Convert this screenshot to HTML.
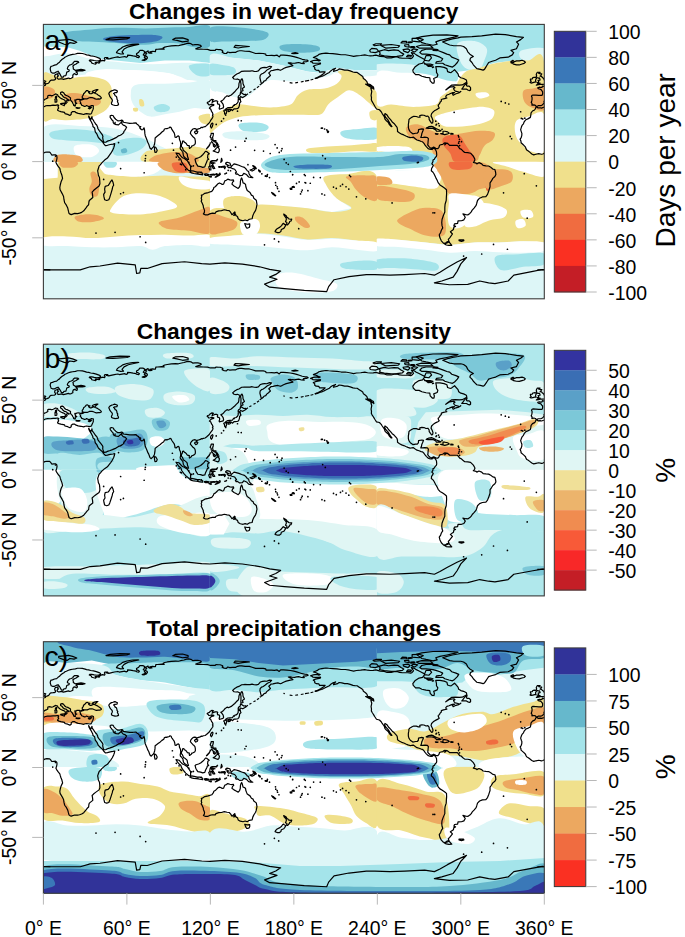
<!DOCTYPE html><html><head><meta charset="utf-8"><style>html,body{margin:0;padding:0;background:#fff;}svg{display:block}text{font-family:"Liberation Sans",sans-serif}.cst path{vector-effect:non-scaling-stroke}</style></head><body>
<svg width="685" height="937" viewBox="0 0 685 937">
<rect width="685" height="937" fill="#fff"/>
<clipPath id="pca"><rect x="43.4" y="24.4" width="500.90" height="274.40"/></clipPath>
<g clip-path="url(#pca)">
<clipPath id="cpaa1"><rect x="41.1" y="22.099999999999998" width="169.2" height="140.2"/></clipPath>
<g clip-path="url(#cpaa1)">
<path d="M43.0,24.0 L210.0,24.0 L210.0,162.0 L43.0,162.0Z" fill="#ffffff"/>
<path d="M43.0,24.0 L210.0,24.0 L210.0,63.0 L189.3,60.6 L164.9,60.6 L140.5,63.0 L116.1,60.6 L103.9,59.4 L91.8,55.7 L79.6,50.8 L67.4,47.2 L43.0,46.4Z" fill="#a4e4ea"/>
<path d="M64.9,32.5 C68.6,30.8 83.2,30.2 91.8,29.4 C100.3,28.6 107.2,27.8 116.1,27.7 C125.1,27.5 136.5,28.4 145.4,28.4 C154.3,28.3 162.5,27.7 169.8,27.4 C177.1,27.2 182.6,27.1 189.3,26.9 C196.0,26.8 206.5,23.3 210.0,26.4 C213.5,29.6 212.6,42.5 210.0,45.9 C207.4,49.4 199.2,47.6 194.2,47.2 C189.1,46.8 185.2,44.2 179.5,43.5 C173.8,42.8 165.7,42.8 160.0,43.0 C154.3,43.2 150.7,44.6 145.4,44.7 C140.1,44.9 135.2,44.4 128.3,44.0 C121.4,43.6 111.3,42.7 103.9,42.3 C96.6,41.9 90.1,42.0 84.4,41.6 C78.8,41.1 73.1,41.4 69.8,39.8 C66.6,38.3 61.3,34.3 64.9,32.5Z" fill="#66b8cc"/>
<path d="M103.9,38.1 C105.8,37.3 110.9,36.2 116.1,35.7 C121.4,35.2 129.1,35.1 135.6,35.0 C142.1,34.8 150.7,34.6 155.1,35.0 C159.6,35.4 162.5,36.3 162.5,37.4 C162.5,38.5 159.6,40.5 155.1,41.6 C150.7,42.6 142.1,43.4 135.6,43.5 C129.1,43.6 121.2,42.8 116.1,42.3 C111.1,41.8 107.2,41.3 105.2,40.6 C103.1,39.9 102.1,39.0 103.9,38.1Z" fill="#3a78b8"/>
<path d="M50.3,55.7 C54.4,54.9 61.3,52.8 67.4,53.3 C73.5,53.7 80.8,56.9 86.9,58.1 C93.0,59.4 97.0,59.8 103.9,60.6 C110.9,61.4 120.2,62.4 128.3,63.0 C136.5,63.6 144.6,64.2 152.7,64.2 C160.8,64.2 170.2,63.2 177.1,63.0 C184.0,62.8 188.7,62.8 194.2,63.0 C199.6,63.2 207.4,61.4 210.0,64.2 C212.6,67.1 213.5,77.4 210.0,80.1 C206.5,82.7 194.4,80.7 189.3,80.1 C184.2,79.5 183.6,77.6 179.5,76.4 C175.5,75.2 171.4,73.8 164.9,72.8 C158.4,71.7 148.6,70.7 140.5,70.3 C132.4,69.9 123.5,69.9 116.1,70.3 C108.8,70.7 102.7,71.9 96.6,72.8 C90.5,73.6 85.3,74.6 79.6,75.2 C73.9,75.8 67.8,76.2 62.5,76.4 C57.2,76.6 51.1,77.0 47.9,76.4 C44.6,75.8 43.8,75.8 43.0,72.8 C42.2,69.7 41.8,61.0 43.0,58.1 C44.2,55.3 46.3,56.5 50.3,55.7Z" fill="#ddf6f7"/>
<path d="M86.9,72.8 C89.7,71.1 99.5,69.5 106.4,69.1 C113.3,68.7 120.6,69.9 128.3,70.3 C136.0,70.7 145.4,70.9 152.7,71.5 C160.0,72.1 167.7,72.6 172.2,74.0 C176.7,75.4 180.7,78.2 179.5,80.1 C178.3,81.9 171.4,84.3 164.9,84.9 C158.4,85.6 148.6,83.7 140.5,83.7 C132.4,83.7 123.0,85.2 116.1,84.9 C109.2,84.7 103.5,83.5 99.1,82.5 C94.6,81.5 91.4,80.5 89.3,78.9 C87.3,77.2 84.0,74.4 86.9,72.8Z" fill="#ffffff"/>
<path d="M189.3,65.4 C191.5,63.6 206.5,62.6 210.0,64.2 C213.5,65.9 212.2,73.4 210.0,75.2 C207.8,77.0 200.0,76.8 196.6,75.2 C193.1,73.6 187.0,67.3 189.3,65.4Z" fill="#a4e4ea"/>
<path d="M135.6,84.9 C141.3,83.1 156.0,84.1 164.9,83.7 C173.8,83.3 181.8,82.9 189.3,82.5 C196.8,82.1 206.5,77.2 210.0,81.3 C213.5,85.4 212.6,102.4 210.0,106.9 C207.4,111.4 199.2,107.3 194.2,108.1 C189.1,108.9 184.4,110.8 179.5,111.8 C174.6,112.8 169.8,113.4 164.9,114.2 C160.0,115.0 154.3,117.0 150.3,116.6 C146.2,116.2 143.4,113.8 140.5,111.8 C137.7,109.7 134.8,107.3 133.2,104.5 C131.6,101.6 130.4,98.0 130.8,94.7 C131.2,91.5 130.0,86.8 135.6,84.9Z" fill="#ddf6f7"/>
<path d="M153.9,106.9 C154.7,105.6 159.8,104.0 162.5,104.0 C165.1,104.0 169.0,105.7 169.8,106.9 C170.6,108.1 169.4,110.5 167.3,111.3 C165.3,112.1 159.8,112.5 157.6,111.8 C155.3,111.0 153.1,108.2 153.9,106.9Z" fill="#a4e4ea"/>
<path d="M43.0,75.7 C44.6,68.4 48.7,74.3 52.8,74.7 C56.8,75.1 62.9,77.7 67.4,78.1 C71.8,78.5 75.5,77.4 79.6,77.1 C83.6,76.9 87.7,76.3 91.8,76.7 C95.8,77.1 100.9,78.3 103.9,79.6 C107.0,80.9 108.7,82.6 110.0,84.5 C111.4,86.4 111.6,88.7 112.0,91.0 C112.4,93.4 112.9,95.9 112.5,98.4 C112.0,100.8 110.5,103.6 109.3,105.7 C108.1,107.7 107.1,109.0 105.2,110.5 C103.3,112.1 100.5,113.5 97.9,114.7 C95.2,115.9 92.8,117.0 89.3,117.9 C85.9,118.7 81.2,119.2 77.1,119.6 C73.1,120.0 69.0,120.4 64.9,120.3 C60.9,120.2 56.4,119.4 52.8,119.1 C49.1,118.8 44.6,125.6 43.0,118.3 C41.4,111.1 41.4,83.0 43.0,75.7Z" fill="#f0e08c"/>
<path d="M43.0,87.9 C44.0,86.0 47.1,86.5 49.1,86.9 C51.0,87.3 54.0,88.6 54.7,90.3 C55.4,92.0 54.6,95.7 53.2,97.1 C51.9,98.6 48.4,98.9 46.7,99.1 C45.0,99.3 43.6,100.2 43.0,98.4 C42.4,96.5 42.0,89.8 43.0,87.9Z" fill="#eca860"/>
<path d="M64.5,94.7 C65.9,93.6 71.0,92.9 74.7,93.0 C78.4,93.1 83.0,94.3 86.9,95.2 C90.7,96.1 95.5,97.2 97.9,98.4 C100.2,99.5 101.2,100.8 101.0,102.0 C100.8,103.2 99.2,105.1 96.6,105.7 C94.1,106.3 89.5,106.2 85.7,105.7 C81.8,105.1 76.7,103.5 73.5,102.5 C70.2,101.5 67.7,100.9 66.2,99.6 C64.7,98.3 63.0,95.8 64.5,94.7Z" fill="#eca860"/>
<path d="M139.3,99.6 C139.8,98.6 142.1,99.0 143.0,100.1 C143.8,101.1 144.7,104.7 144.2,105.7 C143.7,106.6 140.8,106.7 140.0,105.7 C139.2,104.7 138.8,100.5 139.3,99.6Z" fill="#f0e08c"/>
<path d="M133.2,108.1 C133.9,107.6 136.9,107.6 137.6,108.1 C138.3,108.6 138.2,110.8 137.6,111.3 C136.9,111.8 134.4,111.8 133.7,111.3 C133.0,110.8 132.6,108.6 133.2,108.1Z" fill="#f0e08c"/>
<path d="M199.0,116.2 C200.5,114.7 208.2,112.9 210.0,114.2 C211.8,115.5 211.4,122.5 210.0,124.0 C208.6,125.4 203.3,124.0 201.5,122.7 C199.6,121.4 197.6,117.6 199.0,116.2Z" fill="#f0e08c"/>
<path d="M43.0,127.6 C49.1,121.6 67.4,125.7 79.6,125.9 C91.8,126.1 105.2,126.7 116.1,128.8 C127.1,130.9 138.1,135.7 145.4,138.6 C152.7,141.4 156.0,143.9 160.0,145.9 C164.1,147.9 167.3,148.9 169.8,150.8 C172.2,152.6 173.8,155.0 174.6,156.9 C175.5,158.7 196.6,161.1 174.6,162.0 C152.7,162.8 64.9,167.7 43.0,162.0 C21.1,156.3 36.9,133.6 43.0,127.6Z" fill="#ddf6f7"/>
<path d="M50.3,132.5 C52.8,130.9 61.3,129.7 67.4,129.3 C73.5,128.9 80.8,129.3 86.9,130.1 C93.0,130.8 99.5,132.3 103.9,133.7 C108.4,135.1 113.3,137.0 113.7,138.6 C114.1,140.1 110.9,142.5 106.4,143.0 C101.9,143.5 93.4,141.9 86.9,141.5 C80.4,141.1 73.1,141.0 67.4,140.5 C61.7,140.0 55.6,139.9 52.8,138.6 C49.9,137.2 47.9,134.0 50.3,132.5Z" fill="#a4e4ea"/>
<path d="M113.7,143.5 C115.9,141.4 121.4,139.5 125.9,138.6 C130.4,137.7 137.1,137.5 140.5,138.1 C144.0,138.7 146.6,140.3 146.6,142.2 C146.6,144.2 143.6,147.5 140.5,149.6 C137.5,151.6 132.4,153.4 128.3,154.4 C124.3,155.4 118.8,156.3 116.1,155.6 C113.5,155.0 112.9,152.8 112.5,150.8 C112.1,148.7 111.5,145.5 113.7,143.5Z" fill="#a4e4ea"/>
<path d="M121.0,149.6 C121.6,148.7 124.9,147.9 125.9,148.3 C126.9,148.7 127.7,151.2 127.1,152.0 C126.5,152.8 123.2,153.6 122.2,153.2 C121.2,152.8 120.4,150.4 121.0,149.6Z" fill="#66b8cc"/>
<path d="M74.7,145.9 C77.1,144.1 87.7,143.9 91.8,144.7 C95.8,145.5 99.1,148.7 99.1,150.8 C99.1,152.8 95.4,156.1 91.8,156.9 C88.1,157.7 80.0,157.5 77.1,155.6 C74.3,153.8 72.3,147.7 74.7,145.9Z" fill="#ffffff"/>
<path d="M56.4,155.6 C58.4,154.4 63.5,154.3 67.4,154.4 C71.2,154.5 77.3,154.9 79.6,156.1 C81.8,157.4 84.9,161.0 80.8,162.0 C76.7,163.0 59.3,163.0 55.2,162.0 C51.1,160.9 54.4,156.9 56.4,155.6Z" fill="#eca860"/>
<path d="M145.4,152.0 C147.8,149.9 155.1,150.2 160.0,149.6 C164.9,148.9 169.8,148.7 174.6,148.3 C179.5,147.9 185.2,146.7 189.3,147.1 C193.3,147.5 196.6,148.3 199.0,150.8 C201.5,153.3 212.8,160.1 203.9,162.0 C195.0,163.9 155.1,163.7 145.4,162.0 C135.6,160.3 143.0,154.1 145.4,152.0Z" fill="#f0e08c"/>
<path d="M189.3,147.1 C192.7,145.2 206.5,148.3 210.0,150.8 C213.5,153.3 213.5,160.1 210.0,162.0 C206.5,163.9 192.7,164.5 189.3,162.0 C185.8,159.5 185.8,149.0 189.3,147.1Z" fill="#f0e08c"/>
<path d="M152.7,156.9 C154.7,155.4 160.4,154.0 164.9,153.2 C169.4,152.4 175.1,151.8 179.5,152.0 C184.0,152.2 188.9,152.8 191.7,154.4 C194.6,156.1 203.1,160.7 196.6,162.0 C190.1,163.2 160.0,162.8 152.7,162.0 C145.4,161.1 150.7,158.3 152.7,156.9Z" fill="#eca860"/>
</g>
<clipPath id="cpaa2"><rect x="209.7" y="22.099999999999998" width="167.6" height="140.2"/></clipPath>
<g clip-path="url(#cpaa2)">
<path d="M210.0,24.0 L377.0,24.0 L377.0,162.0 L210.0,162.0Z" fill="#ffffff"/>
<path d="M210.0,24.0 L377.0,24.0 L377.0,70.3 L356.3,70.3 L336.8,67.9 L319.7,72.8 L307.5,71.5 L283.1,65.4 L258.8,60.6 L234.4,58.1 L210.0,55.7Z" fill="#a4e4ea"/>
<path d="M210.0,27.7 C214.1,25.3 226.3,26.5 234.4,26.9 C242.5,27.3 253.1,29.0 258.8,30.1 C264.4,31.2 267.7,32.1 268.5,33.8 C269.3,35.4 267.3,38.6 263.6,39.8 C260.0,41.1 253.1,40.8 246.6,41.1 C240.1,41.4 230.7,41.6 224.6,41.6 C218.5,41.6 212.4,43.4 210.0,41.1 C207.6,38.7 205.9,30.0 210.0,27.7Z" fill="#66b8cc"/>
<path d="M280.7,45.5 C283.1,44.3 291.7,43.9 297.8,44.0 C303.9,44.1 313.8,44.8 317.3,45.9 C320.7,47.1 320.9,49.7 318.5,50.8 C316.1,52.0 308.5,52.8 302.6,52.8 C296.8,52.8 286.8,52.0 283.1,50.8 C279.5,49.6 278.3,46.6 280.7,45.5Z" fill="#66b8cc"/>
<path d="M210.0,55.2 C214.1,50.3 226.3,57.2 234.4,58.1 C242.5,59.0 250.6,59.4 258.8,60.6 C266.9,61.8 275.0,63.6 283.1,65.4 C291.3,67.3 301.4,70.3 307.5,71.5 C313.6,72.8 314.8,73.3 319.7,72.8 C324.6,72.2 330.7,68.8 336.8,68.4 C342.9,68.0 349.6,69.9 356.3,70.3 C363.0,70.7 373.5,70.0 377.0,70.8 C380.5,71.6 380.5,74.3 377.0,75.2 C373.5,76.1 363.0,76.8 356.3,76.4 C349.6,76.0 341.6,72.8 336.8,72.8 C331.9,72.8 333.9,75.0 327.0,76.4 C320.1,77.8 304.7,80.7 295.3,81.3 C286.0,81.9 277.0,79.1 270.9,80.1 C264.9,81.1 262.8,84.5 258.8,87.4 C254.7,90.2 250.6,95.5 246.6,97.1 C242.5,98.8 238.4,98.0 234.4,97.1 C230.3,96.3 226.3,93.9 222.2,92.3 C218.1,90.6 212.0,93.6 210.0,87.4 C208.0,81.2 205.9,60.1 210.0,55.2Z" fill="#ddf6f7"/>
<path d="M210.0,64.2 C212.0,62.7 218.1,64.3 222.2,65.0 C226.3,65.6 232.3,66.4 234.4,67.9 C236.4,69.4 236.8,72.8 234.4,74.0 C231.9,75.2 223.8,75.2 219.8,75.2 C215.7,75.2 211.6,75.8 210.0,74.0 C208.4,72.1 208.0,65.7 210.0,64.2Z" fill="#a4e4ea"/>
<path d="M210.0,117.9 C212.4,114.0 220.2,111.6 224.6,109.3 C229.1,107.1 232.3,105.1 236.8,104.5 C241.3,103.8 245.8,105.2 251.4,105.7 C257.1,106.2 264.4,107.6 270.9,107.4 C277.5,107.2 286.0,106.5 290.5,104.5 C294.9,102.4 294.9,97.6 297.8,95.2 C300.6,92.8 303.0,90.9 307.5,89.8 C312.0,88.7 319.7,89.6 324.6,88.6 C329.5,87.6 333.9,85.8 336.8,83.7 C339.6,81.7 341.4,78.4 341.6,76.4 C341.9,74.4 336.8,72.6 338.0,71.5 C339.2,70.5 345.1,69.6 349.0,70.3 C352.8,71.0 357.5,73.0 361.2,75.7 C364.8,78.3 368.3,83.2 370.9,86.2 C373.5,89.1 376.0,89.8 377.0,93.5 C378.0,97.1 378.4,106.6 377.0,108.1 C375.6,109.6 371.3,104.7 368.5,102.5 C365.6,100.3 363.2,97.2 359.9,95.2 C356.7,93.2 352.6,90.0 349.0,90.3 C345.3,90.6 341.4,94.8 338.0,97.1 C334.5,99.5 331.1,101.6 328.2,104.5 C325.4,107.3 325.2,112.5 320.9,114.2 C316.7,115.9 308.9,114.6 302.6,114.7 C296.3,114.8 290.5,114.6 283.1,114.7 C275.8,114.8 266.1,114.8 258.8,115.2 C251.4,115.6 244.9,116.0 239.3,117.1 C233.6,118.3 228.7,120.0 224.6,122.0 C220.6,124.0 217.3,127.6 214.9,129.3 C212.4,131.1 210.8,134.4 210.0,132.5 C209.2,130.6 207.6,121.7 210.0,117.9Z" fill="#f0e08c"/>
<path d="M369.7,111.8 C370.7,110.3 375.8,109.2 377.0,110.5 C378.2,111.8 378.0,118.1 377.0,119.6 C376.0,121.0 372.1,120.4 370.9,119.1 C369.7,117.8 368.7,113.2 369.7,111.8Z" fill="#f0e08c"/>
<path d="M239.3,124.0 C241.7,122.5 253.9,122.3 258.8,122.7 C263.6,123.1 267.7,125.0 268.5,126.4 C269.3,127.8 267.7,130.5 263.6,131.3 C259.6,132.1 248.2,132.5 244.1,131.3 C240.1,130.1 236.8,125.4 239.3,124.0Z" fill="#a4e4ea"/>
<path d="M224.6,132.5 C228.3,131.5 239.3,130.9 246.6,131.3 C253.9,131.7 265.7,133.5 268.5,134.9 C271.4,136.3 268.5,139.0 263.6,139.8 C258.8,140.6 245.8,140.2 239.3,139.8 C232.8,139.4 227.1,138.6 224.6,137.4 C222.2,136.1 221.0,133.5 224.6,132.5Z" fill="#ddf6f7"/>
<path d="M341.6,131.3 C344.5,129.8 355.3,129.3 361.2,128.8 C367.0,128.3 374.4,126.7 377.0,128.3 C379.6,130.0 379.6,136.7 377.0,138.6 C374.4,140.5 366.6,140.0 361.2,139.8 C355.7,139.6 347.3,138.8 344.1,137.4 C340.8,135.9 338.8,132.7 341.6,131.3Z" fill="#a4e4ea"/>
<path d="M307.5,148.8 C310.4,147.8 320.5,147.2 327.0,146.6 C333.5,146.1 340.0,145.9 346.5,145.4 C353.0,145.0 361.0,144.3 366.0,143.9 C371.1,143.6 375.2,142.2 377.0,143.5 C378.8,144.7 380.5,150.0 377.0,151.3 C373.5,152.6 363.8,151.0 356.3,151.3 C348.8,151.5 339.6,152.5 331.9,152.7 C324.2,153.0 314.0,153.4 310.0,152.7 C305.9,152.1 304.7,149.8 307.5,148.8Z" fill="#f0e08c"/>
</g>
<clipPath id="cpaa3"><rect x="376.7" y="22.099999999999998" width="169.89999999999995" height="140.2"/></clipPath>
<g clip-path="url(#cpaa3)">
<path d="M377.0,24.0 L544.0,24.0 L544.0,162.0 L377.0,162.0Z" fill="#ffffff"/>
<path d="M377.0,24.0 L544.0,24.0 L544.0,63.0 L528.2,60.6 L513.5,60.6 L494.0,63.0 L479.4,67.9 L469.6,70.3 L450.1,72.8 L425.8,71.5 L401.4,70.3 L377.0,71.5Z" fill="#a4e4ea"/>
<path d="M457.5,43.5 C459.9,40.3 469.6,40.3 474.5,41.1 C479.4,41.9 485.1,45.1 486.7,48.4 C488.3,51.6 485.5,57.1 484.3,60.6 C483.1,64.0 482.2,67.7 479.4,69.1 C476.5,70.5 470.5,70.5 467.2,69.1 C464.0,67.7 461.5,64.8 459.9,60.6 C458.3,56.3 455.0,46.8 457.5,43.5Z" fill="#ddf6f7"/>
<path d="M520.8,50.8 C524.3,48.8 540.1,46.8 544.0,48.4 C547.9,50.0 547.5,58.5 544.0,60.6 C540.5,62.6 527.1,62.2 523.3,60.6 C519.4,58.9 517.4,52.8 520.8,50.8Z" fill="#ddf6f7"/>
<path d="M377.0,64.2 C383.5,62.8 409.5,63.6 416.0,65.4 C422.5,67.3 418.4,73.8 416.0,75.2 C413.6,76.6 407.9,74.2 401.4,74.0 C394.9,73.8 381.1,75.6 377.0,74.0 C372.9,72.4 370.5,65.6 377.0,64.2Z" fill="#ddf6f7"/>
<path d="M416.0,65.4 C419.3,63.6 429.0,64.0 435.5,64.2 C442.0,64.4 451.4,64.0 455.0,66.7 C458.7,69.3 459.1,77.0 457.5,80.1 C455.8,83.1 450.5,84.5 445.3,84.9 C440.0,85.4 430.6,84.1 425.8,82.5 C420.9,80.9 417.6,78.0 416.0,75.2 C414.4,72.4 412.8,67.3 416.0,65.4Z" fill="#a4e4ea"/>
<path d="M435.5,104.5 C441.4,102.4 438.4,95.5 441.6,92.3 C444.9,89.0 451.8,87.6 455.0,84.9 C458.3,82.3 459.1,78.8 461.1,76.4 C463.1,74.1 464.2,72.2 467.2,70.8 C470.3,69.4 474.9,69.1 479.4,67.9 C483.9,66.7 488.3,64.7 494.0,63.5 C499.7,62.3 507.8,61.1 513.5,60.6 C519.2,60.1 523.1,60.4 528.2,60.6 C533.2,60.8 541.4,44.9 544.0,61.8 C546.6,78.7 571.8,145.3 544.0,162.0 C516.2,178.7 404.8,171.6 377.0,162.0 C349.2,152.4 372.1,114.0 377.0,104.5 C381.9,94.9 396.5,104.5 406.3,104.5 C416.0,104.5 429.6,106.5 435.5,104.5Z" fill="#f0e08c"/>
<path d="M377.0,72.8 C381.1,67.5 393.3,72.6 401.4,72.8 C409.5,73.0 418.4,72.8 425.8,74.0 C433.1,75.2 440.0,78.7 445.3,80.1 C450.5,81.5 456.6,80.9 457.5,82.5 C458.3,84.1 453.0,87.4 450.1,89.8 C447.3,92.3 442.8,94.7 440.4,97.1 C437.9,99.6 440.0,102.8 435.5,104.5 C431.0,106.1 420.9,106.9 413.6,106.9 C406.3,106.9 397.7,104.9 391.6,104.5 C385.5,104.0 379.4,109.7 377.0,104.5 C374.6,99.2 372.9,78.0 377.0,72.8Z" fill="#ffffff"/>
<path d="M435.5,116.6 C437.5,115.0 444.5,113.2 450.1,111.8 C455.8,110.3 464.0,108.9 469.6,108.1 C475.3,107.3 480.2,106.5 484.3,106.9 C488.3,107.3 492.8,108.5 494.0,110.5 C495.2,112.6 494.0,116.8 491.6,119.1 C489.1,121.3 484.3,122.7 479.4,124.0 C474.5,125.2 468.0,126.0 462.3,126.4 C456.6,126.8 449.3,127.2 445.3,126.4 C441.2,125.6 439.6,123.1 437.9,121.5 C436.3,119.9 433.5,118.3 435.5,116.6Z" fill="#ffffff"/>
<path d="M475.7,93.5 C476.8,92.5 483.3,91.9 485.5,92.3 C487.7,92.7 490.2,94.9 489.1,95.9 C488.1,96.9 481.6,98.8 479.4,98.4 C477.2,98.0 474.7,94.5 475.7,93.5Z" fill="#ffffff"/>
<path d="M516.0,121.5 C518.0,118.3 523.5,117.9 528.2,116.6 C532.8,115.4 541.4,108.5 544.0,114.2 C546.6,119.9 545.8,144.5 544.0,150.8 C542.2,157.1 536.5,152.8 533.0,152.0 C529.6,151.2 526.1,148.5 523.3,145.9 C520.4,143.3 517.2,140.2 516.0,136.1 C514.7,132.1 513.9,124.8 516.0,121.5Z" fill="#ffffff"/>
<path d="M523.3,91.0 C524.7,88.8 529.6,89.2 533.0,88.6 C536.5,88.0 542.2,83.9 544.0,87.4 C545.8,90.8 545.8,105.9 544.0,109.3 C542.2,112.8 536.3,109.3 533.0,108.1 C529.8,106.9 526.1,104.9 524.5,102.0 C522.9,99.2 521.9,93.3 523.3,91.0Z" fill="#eca860"/>
<path d="M406.3,127.6 C407.7,125.5 414.0,123.8 418.4,124.4 C422.9,125.1 428.2,129.5 433.1,131.3 C437.9,133.0 442.8,134.6 447.7,134.9 C452.6,135.3 457.0,133.9 462.3,133.2 C467.6,132.5 474.1,130.9 479.4,130.8 C484.7,130.7 491.8,131.0 494.0,132.5 C496.3,134.0 494.4,137.6 492.8,139.8 C491.2,142.0 486.5,143.3 484.3,145.9 C482.0,148.5 481.2,153.0 479.4,155.6 C477.6,158.3 480.2,160.9 473.3,162.0 C466.4,163.0 444.9,163.9 437.9,162.0 C431.0,160.1 434.5,154.1 431.9,150.8 C429.2,147.5 425.8,144.5 422.1,142.2 C418.4,140.0 412.6,139.8 409.9,137.4 C407.3,134.9 404.8,129.8 406.3,127.6Z" fill="#eca860"/>
<path d="M442.8,138.6 C443.8,136.8 447.3,135.3 450.1,134.9 C453.0,134.5 457.5,134.7 459.9,136.1 C462.3,137.6 463.1,141.0 464.8,143.5 C466.4,145.9 468.0,148.5 469.6,150.8 C471.3,153.0 474.1,155.0 474.5,156.9 C474.9,158.7 475.3,161.1 472.1,162.0 C468.8,162.8 458.7,163.5 455.0,162.0 C451.4,160.5 452.0,155.9 450.1,153.2 C448.3,150.5 445.3,148.3 444.0,145.9 C442.8,143.5 441.8,140.4 442.8,138.6Z" fill="#f06c40"/>
<path d="M377.0,147.1 C379.4,146.2 386.3,145.9 391.6,145.9 C396.9,145.9 405.4,146.1 408.7,147.1 C411.9,148.1 414.0,151.2 411.1,152.0 C408.3,152.8 397.3,152.1 391.6,152.0 C385.9,151.9 379.4,152.1 377.0,151.3 C374.6,150.4 374.6,148.0 377.0,147.1Z" fill="#ffffff"/>
</g>
<clipPath id="cpaa4"><rect x="41.1" y="161.7" width="169.2" height="139.4"/></clipPath>
<g clip-path="url(#cpaa4)">
<path d="M43.0,162.0 L210.0,162.0 L210.0,300.0 L43.0,300.0Z" fill="#ddf6f7"/>
<path d="M43.0,179.1 L57.6,176.6 L57.6,162.0 L103.9,162.0 L103.9,173.0 L116.1,175.4 L140.5,176.6 L164.9,175.4 L189.3,176.6 L210.0,176.6 L210.0,235.1 L189.3,237.6 L164.9,236.4 L140.5,237.6 L116.1,238.8 L91.8,239.5 L67.4,238.1 L43.0,238.8Z" fill="#f0e08c"/>
<path d="M43.0,162.0 L57.6,162.0 L57.6,177.8 L43.0,179.1Z" fill="#ffffff"/>
<path d="M103.9,162.0 C113.3,160.2 151.1,160.4 160.0,162.0 C169.0,163.6 160.8,169.3 157.6,171.8 C154.3,174.2 147.4,176.0 140.5,176.6 C133.6,177.2 122.2,176.0 116.1,175.4 C110.0,174.8 106.0,175.2 103.9,173.0 C101.9,170.7 94.6,163.8 103.9,162.0Z" fill="#ffffff"/>
<path d="M60.1,162.0 C62.5,161.1 74.7,161.2 77.1,162.0 C79.6,162.8 77.1,166.0 74.7,166.9 C72.3,167.8 64.9,168.2 62.5,167.4 C60.1,166.6 57.6,162.9 60.1,162.0Z" fill="#eca860"/>
<path d="M103.9,162.0 C105.6,161.1 114.3,161.2 116.1,162.0 C118.0,162.8 116.5,166.0 114.9,166.9 C113.3,167.8 108.2,168.2 106.4,167.4 C104.6,166.6 102.3,162.9 103.9,162.0Z" fill="#a4e4ea"/>
<path d="M160.0,162.0 C165.7,160.8 190.1,161.2 196.6,162.0 C203.1,162.8 196.8,165.9 199.0,166.9 C201.3,167.9 208.2,167.2 210.0,168.1 C211.8,169.0 211.8,171.3 210.0,172.2 C208.2,173.2 202.5,173.6 199.0,173.7 C195.6,173.8 193.3,173.1 189.3,173.0 C185.2,172.8 179.1,173.6 174.6,173.0 C170.2,172.4 164.9,171.1 162.5,169.3 C160.0,167.5 154.3,163.2 160.0,162.0Z" fill="#eca860"/>
<path d="M196.6,162.0 C198.2,161.3 207.8,161.1 210.0,162.0 C212.2,162.9 211.6,166.6 210.0,167.4 C208.4,168.1 202.5,167.3 200.2,166.4 C198.0,165.5 195.0,162.7 196.6,162.0Z" fill="#f0e08c"/>
<path d="M172.2,163.2 C173.8,161.9 183.2,161.8 185.6,163.2 C188.1,164.6 188.5,170.4 186.8,171.8 C185.2,173.1 178.3,172.7 175.9,171.3 C173.4,169.8 170.6,164.6 172.2,163.2Z" fill="#f06c40"/>
<path d="M179.5,176.6 C181.6,175.8 189.1,178.3 194.2,179.1 C199.2,179.9 207.4,179.9 210.0,181.5 C212.6,183.1 212.6,187.6 210.0,188.8 C207.4,190.0 198.8,189.6 194.2,188.8 C189.5,188.0 184.4,186.0 182.0,183.9 C179.5,181.9 177.5,177.4 179.5,176.6Z" fill="#ffffff"/>
<path d="M90.5,173.0 C91.1,171.4 94.0,170.8 95.4,172.2 C96.8,173.7 98.7,177.7 99.1,181.5 C99.5,185.3 99.1,192.5 97.9,194.9 C96.6,197.4 93.2,197.1 91.8,196.1 C90.3,195.1 89.3,191.3 89.3,188.8 C89.3,186.4 91.6,184.1 91.8,181.5 C92.0,178.9 89.9,174.5 90.5,173.0Z" fill="#eca860"/>
<path d="M111.3,208.3 C112.9,205.5 118.6,198.7 123.5,196.1 C128.3,193.6 134.4,193.2 140.5,193.2 C146.6,193.2 153.9,194.0 160.0,196.1 C166.1,198.2 176.3,203.4 177.1,205.9 C177.9,208.3 171.0,209.3 164.9,210.8 C158.8,212.2 149.1,214.0 140.5,214.4 C132.0,214.8 118.6,214.2 113.7,213.2 C108.8,212.2 109.6,211.2 111.3,208.3Z" fill="#ffffff"/>
<path d="M74.7,216.9 C75.5,215.6 80.8,214.7 84.4,214.4 C88.1,214.1 93.4,214.5 96.6,215.1 C99.9,215.8 104.4,217.5 103.9,218.6 C103.5,219.7 98.3,221.2 94.2,221.7 C90.1,222.3 82.8,222.5 79.6,221.7 C76.3,220.9 73.9,218.1 74.7,216.9Z" fill="#eca860"/>
<path d="M160.0,221.7 C163.1,220.3 173.0,219.5 179.5,217.6 C186.0,215.7 194.0,211.8 199.0,210.3 C204.1,208.7 208.2,204.6 210.0,208.3 C211.8,212.1 213.5,229.0 210.0,232.7 C206.5,236.4 196.0,231.3 189.3,230.8 C182.6,230.2 174.4,230.1 169.8,229.3 C165.1,228.5 162.9,227.1 161.2,225.9 C159.6,224.6 157.0,223.1 160.0,221.7Z" fill="#eca860"/>
<path d="M43.0,237.6 C47.1,236.1 59.3,236.3 67.4,236.4 C75.5,236.4 83.6,238.1 91.8,238.1 C99.9,238.1 108.0,236.8 116.1,236.4 C124.3,235.9 132.4,235.4 140.5,235.1 C148.6,234.9 156.8,234.6 164.9,234.7 C173.0,234.7 181.8,235.5 189.3,235.6 C196.8,235.7 206.5,233.4 210.0,235.1 C213.5,236.9 213.5,244.5 210.0,246.1 C206.5,247.7 196.8,244.9 189.3,244.9 C181.8,244.9 171.0,245.3 164.9,246.1 C158.8,246.9 156.8,249.8 152.7,249.8 C148.6,249.8 146.6,246.5 140.5,246.1 C134.4,245.7 124.3,247.1 116.1,247.3 C108.0,247.5 99.9,247.5 91.8,247.3 C83.6,247.1 75.5,246.4 67.4,246.1 C59.3,245.8 47.1,246.8 43.0,245.4 C38.9,244.0 38.9,239.1 43.0,237.6Z" fill="#ffffff"/>
</g>
<clipPath id="cpaa5"><rect x="209.7" y="161.7" width="167.6" height="139.4"/></clipPath>
<g clip-path="url(#cpaa5)">
<path d="M210.0,162.0 L377.0,162.0 L377.0,300.0 L210.0,300.0Z" fill="#ddf6f7"/>
<path d="M210.0,162.0 L377.0,162.0 L377.0,176.6 L346.5,174.2 L324.6,176.6 L327.0,186.4 L336.8,198.6 L351.4,208.3 L331.9,212.0 L307.5,208.3 L283.1,205.9 L258.8,204.7 L234.4,208.3 L210.0,210.8Z" fill="#ffffff"/>
<path d="M210.0,210.8 C214.1,205.8 226.3,209.3 234.4,208.3 C242.5,207.3 250.6,205.1 258.8,204.7 C266.9,204.3 275.0,205.3 283.1,205.9 C291.3,206.5 299.4,207.3 307.5,208.3 C315.6,209.3 324.6,212.0 331.9,212.0 C339.2,212.0 350.6,210.6 351.4,208.3 C352.2,206.1 340.8,202.2 336.8,198.6 C332.7,194.9 329.1,190.0 327.0,186.4 C325.0,182.7 321.3,178.7 324.6,176.6 C327.8,174.6 337.8,174.2 346.5,174.2 C355.3,174.2 371.9,165.3 377.0,176.6 C382.1,188.0 380.5,231.8 377.0,242.5 C373.5,253.1 363.8,241.2 356.3,240.5 C348.8,239.8 340.0,238.2 331.9,238.1 C323.8,237.9 315.6,239.9 307.5,239.5 C299.4,239.1 291.3,236.7 283.1,235.6 C275.0,234.6 266.9,233.2 258.8,233.2 C250.6,233.2 242.5,234.8 234.4,235.6 C226.3,236.4 214.1,242.2 210.0,238.1 C205.9,233.9 205.9,215.7 210.0,210.8Z" fill="#f0e08c"/>
<path d="M224.6,198.6 C227.1,196.5 234.4,195.7 239.3,196.1 C244.1,196.5 251.2,198.6 253.9,201.0 C256.5,203.4 258.4,209.1 255.1,210.8 C251.9,212.4 239.5,211.2 234.4,210.8 C229.3,210.4 226.3,210.4 224.6,208.3 C223.0,206.3 222.2,200.6 224.6,198.6Z" fill="#f0e08c"/>
<path d="M210.0,214.4 C212.4,211.7 220.2,215.6 224.6,216.9 C229.1,218.1 235.2,219.7 236.8,221.7 C238.4,223.8 236.8,227.2 234.4,229.0 C231.9,230.9 226.3,232.0 222.2,232.7 C218.1,233.4 212.0,236.2 210.0,233.2 C208.0,230.1 207.6,217.1 210.0,214.4Z" fill="#eca860"/>
<path d="M346.5,176.6 C349.0,175.5 361.0,175.2 366.0,175.4 C371.1,175.6 375.2,173.8 377.0,177.8 C378.8,181.9 378.8,196.4 377.0,199.8 C375.2,203.2 369.5,199.7 366.0,198.1 C362.6,196.5 358.8,192.7 356.3,190.0 C353.8,187.4 352.5,184.2 350.9,182.0 C349.3,179.8 344.0,177.7 346.5,176.6Z" fill="#eca860"/>
<path d="M295.3,216.9 C296.3,216.2 300.2,216.1 302.6,217.6 C305.1,219.1 309.5,224.2 310.0,225.9 C310.4,227.6 307.3,228.5 305.1,227.8 C302.8,227.1 298.2,223.6 296.5,221.7 C294.9,219.9 294.3,217.5 295.3,216.9Z" fill="#eca860"/>
<path d="M241.7,221.7 C244.3,220.1 253.3,218.5 256.3,219.3 C259.4,220.1 260.2,224.0 260.0,226.6 C259.8,229.2 257.7,233.7 255.1,235.1 C252.5,236.6 246.6,236.2 244.1,235.1 C241.7,234.1 240.9,231.3 240.5,229.0 C240.1,226.8 239.1,223.4 241.7,221.7Z" fill="#ffffff"/>
<path d="M210.0,238.1 C214.1,236.7 226.3,236.3 234.4,235.6 C242.5,234.9 250.6,233.8 258.8,233.9 C266.9,234.0 275.0,235.3 283.1,236.4 C291.3,237.4 299.4,239.6 307.5,240.0 C315.6,240.4 323.8,238.7 331.9,238.8 C340.0,238.9 348.8,239.9 356.3,240.5 C363.8,241.1 373.5,240.7 377.0,242.5 C380.5,244.2 380.5,249.8 377.0,251.0 C373.5,252.2 363.8,250.4 356.3,249.8 C348.8,249.2 340.0,247.2 331.9,247.3 C323.8,247.4 315.6,250.1 307.5,250.3 C299.4,250.5 291.3,249.2 283.1,248.5 C275.0,247.9 266.9,246.7 258.8,246.1 C250.6,245.5 242.5,245.3 234.4,244.9 C226.3,244.5 214.1,244.8 210.0,243.7 C205.9,242.5 205.9,239.4 210.0,238.1Z" fill="#ffffff"/>
<path d="M278.3,274.1 C281.5,272.5 288.4,272.1 295.3,272.9 C302.2,273.7 312.8,277.2 319.7,279.0 C326.6,280.9 334.7,281.9 336.8,283.9 C338.8,285.9 336.8,289.8 331.9,291.2 C327.0,292.6 315.6,292.8 307.5,292.4 C299.4,292.0 288.4,290.4 283.1,288.8 C277.9,287.1 276.6,285.1 275.8,282.7 C275.0,280.2 275.0,275.8 278.3,274.1Z" fill="#ffffff"/>
<path d="M341.6,263.2 C344.7,262.0 355.3,260.9 361.2,260.7 C367.0,260.5 374.4,260.5 377.0,262.0 C379.6,263.4 380.5,268.0 377.0,269.3 C373.5,270.6 362.0,270.0 356.3,269.8 C350.6,269.6 345.3,269.1 342.9,268.1 C340.4,267.0 338.6,264.4 341.6,263.2Z" fill="#a4e4ea"/>
</g>
<clipPath id="cpaa6"><rect x="376.7" y="161.7" width="169.89999999999995" height="139.4"/></clipPath>
<g clip-path="url(#cpaa6)">
<path d="M377.0,162.0 L544.0,162.0 L544.0,300.0 L377.0,300.0Z" fill="#ddf6f7"/>
<path d="M377.0,174.2 L435.5,171.8 L437.9,162.0 L544.0,162.0 L544.0,242.5 L523.3,241.2 L498.9,242.5 L474.5,242.5 L450.1,244.9 L425.8,242.5 L401.4,240.0 L377.0,238.8Z" fill="#f0e08c"/>
<path d="M494.0,162.0 C499.9,161.2 535.7,159.6 544.0,162.0 C552.3,164.4 547.5,175.0 544.0,176.6 C540.5,178.3 529.2,173.4 523.3,171.8 C517.4,170.1 513.5,168.5 508.6,166.9 C503.8,165.3 488.1,162.8 494.0,162.0Z" fill="#ffffff"/>
<path d="M377.0,162.0 L435.5,162.0 L437.9,171.8 L401.4,170.5 L377.0,169.3Z" fill="#ffffff"/>
<path d="M377.0,169.3 C381.1,167.5 391.2,170.1 401.4,170.5 C411.5,170.9 431.7,169.5 437.9,171.8 C444.2,174.0 440.0,181.1 439.2,183.9 C438.4,186.8 437.3,188.4 433.1,188.8 C428.8,189.2 419.7,187.2 413.6,186.4 C407.5,185.6 402.6,184.8 396.5,183.9 C390.4,183.1 380.3,183.9 377.0,181.5 C373.7,179.1 372.9,171.1 377.0,169.3Z" fill="#ffffff"/>
<path d="M435.5,162.0 C442.6,160.8 470.0,160.8 479.4,162.0 C488.7,163.2 489.1,166.9 491.6,169.3 C494.0,171.8 494.6,173.8 494.0,176.6 C493.4,179.5 490.4,184.3 487.9,186.4 C485.5,188.5 482.4,188.1 479.4,189.3 C476.3,190.5 474.5,193.0 469.6,193.7 C464.8,194.4 454.2,194.9 450.1,193.7 C446.1,192.5 446.8,189.2 445.3,186.4 C443.7,183.5 442.3,179.5 440.9,176.6 C439.5,173.8 437.6,171.8 436.7,169.3 C435.8,166.9 428.4,163.2 435.5,162.0Z" fill="#eca860"/>
<path d="M450.1,162.0 C453.2,160.8 467.6,160.9 470.9,162.0 C474.1,163.1 472.7,167.6 469.6,168.8 C466.6,170.0 455.8,170.5 452.6,169.3 C449.3,168.2 447.1,163.2 450.1,162.0Z" fill="#f06c40"/>
<path d="M486.2,175.4 C487.0,173.4 489.5,172.8 490.4,174.2 C491.3,175.6 492.0,181.1 491.6,183.9 C491.2,186.8 488.9,190.8 487.9,191.3 C486.9,191.7 485.8,189.0 485.5,186.4 C485.2,183.7 485.4,177.4 486.2,175.4Z" fill="#f06c40"/>
<path d="M484.3,171.8 C486.7,169.3 494.4,169.3 498.9,169.3 C503.4,169.3 509.0,169.7 511.1,171.8 C513.2,173.8 513.6,179.0 511.6,181.5 C509.5,184.0 502.6,185.6 498.9,186.9 C495.2,188.2 491.6,189.8 489.1,189.3 C486.7,188.8 485.1,186.9 484.3,183.9 C483.5,181.0 481.8,174.2 484.3,171.8Z" fill="#eca860"/>
<path d="M377.0,176.6 C379.0,175.5 386.8,176.6 389.2,177.8 C391.6,179.1 393.7,182.8 391.6,183.9 C389.6,185.0 379.4,185.6 377.0,184.4 C374.6,183.2 375.0,177.7 377.0,176.6Z" fill="#eca860"/>
<path d="M377.0,186.4 C380.3,184.7 390.4,187.2 396.5,188.3 C402.6,189.5 411.1,191.1 413.6,193.2 C416.0,195.3 414.8,199.6 411.1,201.0 C407.5,202.4 397.3,201.9 391.6,201.5 C385.9,201.1 379.4,201.1 377.0,198.6 C374.6,196.1 373.7,188.1 377.0,186.4Z" fill="#eca860"/>
<path d="M398.9,218.6 C401.5,216.5 409.1,212.5 413.6,210.8 C418.0,209.0 421.2,207.9 425.8,207.8 C430.3,207.8 437.5,207.8 440.9,210.3 C444.2,212.8 445.3,218.7 445.8,222.9 C446.2,227.2 446.6,233.5 443.3,235.6 C440.0,237.7 431.5,236.8 425.8,235.6 C420.0,234.4 413.2,230.4 408.7,228.3 C404.1,226.2 400.1,224.6 398.5,222.9 C396.8,221.3 396.4,220.6 398.9,218.6Z" fill="#eca860"/>
<path d="M450.1,193.7 C453.6,192.3 464.8,194.3 469.6,194.9 C474.5,195.5 477.0,195.5 479.4,197.4 C481.8,199.2 485.1,203.6 484.3,205.9 C483.5,208.1 477.0,208.3 474.5,210.8 C472.1,213.2 472.1,217.7 469.6,220.5 C467.2,223.4 463.1,226.8 459.9,227.8 C456.6,228.8 452.2,228.6 450.1,226.6 C448.1,224.6 447.9,219.5 447.7,215.6 C447.5,211.8 448.5,207.1 448.9,203.4 C449.3,199.8 446.7,195.1 450.1,193.7Z" fill="#ffffff"/>
<path d="M474.5,204.7 C478.2,202.3 486.3,203.1 491.6,203.9 C496.9,204.7 504.2,207.3 506.2,209.5 C508.2,211.8 506.6,215.8 503.8,217.6 C500.9,219.4 494.0,219.0 489.1,220.5 C484.3,222.0 478.6,225.7 474.5,226.6 C470.5,227.5 465.6,227.3 464.8,225.9 C464.0,224.5 468.0,221.6 469.6,218.1 C471.3,214.5 470.9,207.0 474.5,204.7Z" fill="#ffffff"/>
<path d="M516.0,220.5 C517.2,219.4 521.7,218.5 523.3,219.3 C524.9,220.1 526.3,223.9 525.7,225.4 C525.1,226.9 521.2,228.2 519.6,228.3 C518.0,228.4 516.6,227.2 516.0,225.9 C515.4,224.6 514.7,221.6 516.0,220.5Z" fill="#ffffff"/>
<path d="M520.8,210.8 C522.1,209.5 528.6,209.3 530.6,210.3 C532.6,211.3 534.2,215.6 533.0,216.9 C531.8,218.1 525.3,218.6 523.3,217.6 C521.2,216.6 519.6,212.0 520.8,210.8Z" fill="#ffffff"/>
<path d="M377.0,238.8 C381.1,237.8 393.3,239.4 401.4,240.0 C409.5,240.6 417.6,241.6 425.8,242.5 C433.9,243.3 442.0,244.9 450.1,244.9 C458.3,244.9 466.4,242.9 474.5,242.5 C482.6,242.0 490.8,242.7 498.9,242.5 C507.0,242.2 515.8,241.2 523.3,241.2 C530.8,241.2 540.5,240.8 544.0,242.5 C547.5,244.1 547.5,249.3 544.0,251.0 C540.5,252.7 530.8,252.5 523.3,252.7 C515.8,252.9 507.0,252.5 498.9,252.2 C490.8,251.9 482.6,250.9 474.5,251.0 C466.4,251.1 458.3,252.9 450.1,252.7 C442.0,252.5 433.9,250.7 425.8,249.8 C417.6,248.9 409.5,247.9 401.4,247.3 C393.3,246.7 381.1,247.5 377.0,246.1 C372.9,244.7 372.9,239.8 377.0,238.8Z" fill="#ffffff"/>
<path d="M377.0,259.5 C381.1,257.9 393.3,258.1 401.4,258.3 C409.5,258.5 419.7,259.7 425.8,260.7 C431.9,261.8 436.3,262.8 437.9,264.4 C439.6,266.0 439.6,269.7 435.5,270.5 C431.4,271.3 421.3,269.7 413.6,269.3 C405.8,268.9 395.3,268.3 389.2,268.1 C383.1,267.8 379.0,269.5 377.0,268.1 C375.0,266.6 372.9,261.1 377.0,259.5Z" fill="#a4e4ea"/>
<path d="M496.5,255.9 C500.1,254.0 510.5,254.6 518.4,254.2 C526.3,253.7 539.7,251.7 544.0,253.4 C548.3,255.1 547.5,262.2 544.0,264.4 C540.5,266.6 530.0,265.8 523.3,266.8 C516.6,267.8 508.2,270.7 503.8,270.5 C499.3,270.3 497.7,268.1 496.5,265.6 C495.2,263.2 492.8,257.8 496.5,255.9Z" fill="#a4e4ea"/>
</g>
<path d="M262.0,163.0 C264.5,160.5 268.7,156.7 280.0,155.0 C291.3,153.3 313.3,153.5 330.0,153.0 C346.7,152.5 365.0,152.3 380.0,152.0 C395.0,151.7 410.7,150.3 420.0,151.0 C429.3,151.7 434.3,153.5 436.0,156.0 C437.7,158.5 439.3,163.7 430.0,166.0 C420.7,168.3 396.7,169.0 380.0,170.0 C363.3,171.0 346.7,171.5 330.0,172.0 C313.3,172.5 290.8,173.3 280.0,173.0 C269.2,172.7 268.0,171.7 265.0,170.0 C262.0,168.3 259.5,165.5 262.0,163.0Z" fill="#a4e4ea"/>
<path d="M266.0,163.0 C269.3,161.2 277.7,158.0 290.0,157.0 C302.3,156.0 325.0,157.0 340.0,157.0 C355.0,157.0 370.0,157.5 380.0,157.0 C390.0,156.5 392.5,154.3 400.0,154.0 C407.5,153.7 420.3,154.0 425.0,155.0 C429.7,156.0 430.5,158.5 428.0,160.0 C425.5,161.5 418.0,163.0 410.0,164.0 C402.0,165.0 391.7,165.2 380.0,166.0 C368.3,166.8 355.0,168.3 340.0,169.0 C325.0,169.7 301.7,170.2 290.0,170.0 C278.3,169.8 274.0,169.2 270.0,168.0 C266.0,166.8 262.7,164.8 266.0,163.0Z" fill="#66b8cc"/>
<path d="M294.0,166.0 C295.7,165.3 304.0,164.7 310.0,164.5 C316.0,164.3 327.0,164.3 330.0,165.0 C333.0,165.7 333.0,167.9 328.0,168.5 C323.0,169.1 305.7,168.9 300.0,168.5 C294.3,168.1 292.3,166.7 294.0,166.0Z" fill="#3a78b8"/>
<path d="M403.0,157.0 C404.7,156.1 411.7,155.4 415.0,155.5 C418.3,155.6 422.2,156.5 423.0,157.5 C423.8,158.5 423.0,160.9 420.0,161.5 C417.0,162.1 407.8,161.8 405.0,161.0 C402.2,160.2 401.3,157.9 403.0,157.0Z" fill="#3a78b8"/>
<g class="cst" transform="translate(43.4 24.4) scale(1.391389 1.524444)" fill="none" stroke="#000" stroke-width="1.2" stroke-linejoin="round"><path d="M32.5,60.1 32.7,61.0 33.5,62.5 34.5,64.0 35.5,66.0 35.6,67.0 36.8,68.0 37.3,70.5 38.5,72.0 39.5,74.2 40.8,75.5 42.5,77.0 43.3,78.2 44.5,79.5 46.0,79.3 48.0,78.8 50.0,78.5 51.3,78.2 51.0,79.6 50.5,81.0 49.5,83.0 48.5,84.5 47.5,85.8 46.0,87.7 44.0,89.0 42.0,90.8 41.0,92.0 40.0,93.0 39.5,94.5 39.0,96.0 39.3,97.5 39.5,99.0 40.3,100.5 40.5,102.5 40.6,104.5 40.0,106.0 37.5,107.8 36.0,109.0 35.0,110.0 35.3,111.5 35.5,113.5 33.0,115.5 32.7,116.5 32.5,118.3 31.5,119.2 30.5,120.5 29.0,122.3 27.5,123.3 26.0,123.8 24.5,124.1 22.5,124.0 20.0,124.8 18.8,124.3 18.4,123.9 18.0,122.5 17.5,120.5 16.5,118.6 15.3,117.0 14.8,115.0 14.5,112.9 13.5,111.0 12.0,108.5 11.8,107.0 12.2,105.0 12.8,103.0 13.8,101.0 13.3,99.0 12.5,97.0 12.2,96.0 11.8,94.5 10.5,93.0 9.5,91.5 9.0,90.5 9.5,89.0 9.8,87.5 9.6,86.2 8.7,85.5 7.5,85.6 6.0,85.7 5.2,84.5 4.5,83.8 2.5,83.7 1.0,84.0 -1.0,85.0 -2.0,85.2 -4.0,84.8 -6.0,85.2 -7.6,85.6 -9.0,85.0 -10.5,83.8 -11.5,83.0 -12.5,82.5 -13.2,81.5 -13.5,80.5 -14.5,79.5 -15.3,78.8 -16.7,77.6 -16.8,76.5 -17.4,75.3 -16.7,74.5 -16.2,73.0 -16.1,71.5 -16.5,70.5 -17.0,69.0 -16.5,67.5 -16.0,66.3 -15.0,65.2 -14.5,64.0 -13.2,62.5 -11.5,61.8 -10.0,61.0 -9.7,59.5 -9.5,58.0 -8.5,56.8 -7.0,56.1 -6.5,55.5 -6.0,54.4 -5.5,54.1 -4.5,54.8 -3.0,54.7 -2.0,54.9 0.0,54.2 1.5,53.5 3.0,53.2 5.0,53.3 7.0,53.0 8.5,53.1 10.2,52.8 11.0,53.1 10.5,54.0 11.0,54.8 10.3,55.7 10.2,56.3 11.2,56.8 12.5,57.2 15.2,57.7 15.5,58.5 17.5,59.0 19.0,59.7 20.0,59.0 20.0,57.9 21.0,57.2 22.5,57.2 23.5,57.9 25.0,58.4 27.0,58.7 29.0,59.1 30.0,58.7 31.0,58.5 32.3,58.7 33.5,58.9 34.3,58.6 34.7,58.0 35.0,57.2 35.5,56.2 35.9,55.2 35.8,54.2 36.0,53.5 35.5,53.3 34.5,53.2 33.5,53.8 32.5,53.9 31.0,53.2 30.5,53.6 29.5,53.8 28.5,53.3 27.5,53.0 27.2,52.2 26.5,51.7 26.8,51.2 26.5,50.7 26.2,50.1 26.5,49.7 27.5,49.6 29.0,49.1 28.0,49.0 27.0,49.4 26.2,49.4 26.0,49.2 25.0,49.1 24.0,49.2 23.5,49.7 22.6,49.5 22.8,50.5 23.3,50.9 22.9,51.4 24.0,51.8 23.0,52.1 22.8,52.7 23.0,53.5 22.4,53.5 21.7,53.1 21.6,52.4 21.1,51.7 20.8,51.0 20.2,50.4 19.4,49.5 19.5,48.2 18.6,47.6 17.5,47.0 16.0,46.5 15.2,45.8 14.5,44.8 13.6,44.3 12.5,44.5 12.3,45.0 12.4,45.7 13.5,46.4 14.3,47.5 15.2,48.1 16.2,48.2 17.2,49.0 18.5,49.8 18.3,50.1 17.0,49.5 16.6,50.4 17.1,51.0 16.5,51.6 16.0,52.1 15.6,51.8 15.8,51.0 15.6,49.9 14.8,49.4 14.0,49.1 13.0,48.7 12.0,48.1 11.2,47.5 10.5,47.0 10.2,46.1 9.5,45.8 8.7,45.6 7.8,46.1 7.0,46.5 6.0,46.9 5.0,46.6 4.0,46.5 3.2,46.8 3.1,47.5 3.2,48.1 2.0,48.8 0.8,49.3 0.0,50.2 -0.3,50.7 0.2,51.2 -0.5,51.8 -0.9,52.4 -1.8,53.0 -2.5,53.3 -4.4,53.3 -5.3,53.8 -6.0,53.6 -6.4,53.1 -7.4,52.8 -8.9,53.0 -8.8,52.0 -9.4,51.2 -9.0,50.2 -8.8,49.2 -8.8,48.0 -9.2,47.2 -8.8,46.5 -8.0,46.3 -6.0,46.4 -4.0,46.6 -2.0,46.6 -1.5,46.4 -1.2,45.5 -1.2,44.2 -1.8,43.5 -2.3,42.8 -3.0,42.5 -4.3,42.2 -4.7,41.6 -3.5,41.2 -2.5,41.4 -1.6,41.3 -1.4,40.4 -0.2,40.7 0.2,40.3 1.5,39.9 1.6,39.1 2.5,38.9 3.5,38.6 4.2,38.0 4.7,37.1 5.5,36.6 7.0,36.5 8.0,36.4 8.7,36.0 8.6,35.0 8.1,34.4 8.2,33.4 8.6,32.9 9.6,32.6 10.6,32.3 10.4,32.8 10.3,33.5 10.9,33.7 10.2,34.2 9.8,35.0 10.0,35.5 11.0,36.0 12.3,35.7 13.5,35.7 14.3,36.1 16.0,35.7 18.0,35.2 19.0,35.6 20.0,35.3 21.2,34.7 21.1,33.7 21.5,32.7 22.5,32.3 23.6,33.0 24.3,32.8 24.4,31.7 23.5,31.4 23.5,30.8 25.5,30.5 28.0,30.5 30.0,30.1 29.0,29.8 27.0,29.5 25.0,29.8 22.9,30.1 21.5,29.2 21.5,28.3 21.2,27.3 22.3,26.5 23.5,26.0 24.5,25.2 25.4,24.9 25.0,24.4 24.2,24.2 22.5,24.2 21.4,25.1 21.2,25.8 20.0,26.3 18.8,26.7 18.0,27.4 17.4,28.3 17.2,29.0 17.4,29.4 18.6,29.9 18.4,30.7 16.8,31.3 16.5,32.5 16.1,33.6 14.7,33.8 14.2,34.6 12.9,34.6 12.6,33.8 11.9,32.6 11.2,31.6 10.5,30.7 10.3,31.0 9.5,31.1 8.0,31.9 6.5,31.9 5.6,31.5 5.3,30.7 5.0,29.8 4.9,28.9 5.2,28.0 5.5,27.5 6.5,27.3 8.0,26.7 9.5,26.4 10.5,25.5 11.6,24.8 12.4,23.8 13.5,22.9 14.7,22.2 15.5,21.5 16.5,21.1 18.0,20.4 19.5,20.0 21.0,19.7 23.0,19.4 24.5,19.0 26.0,19.0 28.0,19.1 30.0,19.6 31.0,20.0 32.5,20.2 34.0,20.6 36.0,20.9 38.0,21.4 40.0,22.1 41.0,22.7 41.1,23.2 40.2,23.7 38.5,24.0 36.5,23.7 34.8,23.4 33.5,23.3 33.0,23.8 34.5,24.6 34.8,25.4 36.2,25.8 37.5,26.1 38.0,25.5 37.2,25.0 38.5,25.0 40.0,25.4 40.5,25.0 39.8,24.4 41.5,23.9 42.5,23.6 44.0,23.9 44.3,23.2 43.8,22.4 44.2,21.7 46.0,21.7 46.5,22.2 45.4,22.4 47.0,22.7 48.5,22.3 51.0,21.7 53.5,21.3 54.5,21.7 56.5,21.4 58.5,21.1 59.5,21.6 60.5,21.1 60.5,20.2 62.5,20.3 64.5,20.7 66.5,21.0 67.0,21.5 68.5,21.8 69.0,21.1 68.2,20.5 67.0,20.2 66.9,19.2 68.5,18.2 69.3,17.1 71.5,17.1 72.8,17.8 72.5,19.0 71.8,20.0 73.0,20.6 72.5,21.5 73.5,22.2 72.5,23.0 71.0,23.5 72.5,23.7 74.0,23.0 74.8,22.0 74.5,21.2 73.5,20.8 73.7,19.5 74.3,19.0 73.0,18.5 74.5,17.8 75.2,17.4 75.5,18.5 76.5,18.9 78.0,18.8 76.5,18.0 78.5,17.6 80.5,17.9 80.8,16.4 82.0,16.3 85.0,16.1 86.8,16.3 86.0,15.5 87.2,14.9 89.0,14.5 92.0,14.1 95.0,13.9 97.0,14.0 98.5,13.6 101.0,13.1 103.0,12.5 104.3,12.3 106.0,12.6 107.3,13.5 109.0,13.3 111.0,13.3 113.0,13.8 113.5,14.4 112.5,15.0 110.5,15.6 109.5,16.0 111.0,16.3 113.0,16.2 115.0,16.3 118.0,16.4 120.0,17.0 123.5,17.0 124.0,16.3 126.0,16.5 127.0,16.5 128.5,17.0 129.0,17.5 128.5,18.2 130.0,19.0 131.5,19.1 132.5,18.1 134.0,18.5 136.0,18.4 138.0,18.4 139.5,17.6 141.0,17.3 142.5,17.3 145.0,17.6 148.0,17.7 150.0,18.3 152.5,19.1 155.0,19.0 158.0,19.1 159.8,19.5 160.0,20.3 162.0,20.4 164.0,20.3 166.0,20.5 168.0,20.2 169.5,21.3 170.5,20.1 172.5,20.2 175.0,20.3 177.5,20.6 180.0,21.1 182.0,21.6 184.0,22.2 186.0,22.9 188.0,23.3 189.5,23.4 190.3,24.0 189.0,24.5 187.0,24.6 186.5,25.4 187.5,25.7 185.5,25.6 183.5,25.0 182.0,25.2 180.5,25.5 178.5,25.4 177.3,25.2 176.0,25.3 178.5,26.5 179.3,27.1 177.5,27.5 174.5,28.2 173.0,28.8 171.5,29.6 170.3,30.1 168.5,29.5 166.5,29.8 165.0,30.2 163.5,30.4 163.0,31.0 162.0,31.9 162.5,32.5 163.2,33.5 162.5,34.0 161.8,34.7 160.5,35.7 159.8,36.8 158.5,37.2 158.0,38.0 156.7,39.0 156.4,38.0 156.0,36.5 155.6,35.0 155.8,33.5 156.8,32.5 158.0,32.0 159.5,31.0 161.0,29.7 163.0,28.8 164.0,27.7 162.5,27.5 160.5,28.3 159.0,28.2 157.5,28.4 156.0,28.8 154.5,30.5 153.0,30.9 151.5,30.8 150.0,30.4 148.5,30.7 146.5,30.7 144.5,30.6 142.5,30.8 140.5,32.0 139.0,32.5 137.5,33.5 136.0,34.8 137.0,35.8 138.5,36.0 139.5,35.8 141.3,36.7 141.0,37.5 140.5,39.0 140.5,40.0 140.2,41.5 138.6,43.0 137.5,44.2 136.0,45.5 135.0,46.3 133.0,47.2 132.0,46.8 131.2,47.4 130.7,47.7 130.0,48.5 129.5,49.2 128.5,50.0 127.5,50.5 128.3,51.3 129.2,52.5 129.5,54.0 129.2,54.8 128.5,55.0 127.5,55.3 126.5,55.6 126.3,54.9 126.6,54.1 126.7,53.1 126.2,52.3 125.3,52.3 125.0,51.5 125.3,50.6 124.7,50.2 123.5,50.2 122.3,50.6 121.2,51.2 121.6,50.5 121.5,49.8 122.3,49.4 121.2,49.1 120.0,49.7 119.3,50.6 118.2,51.0 117.7,51.5 118.5,52.2 119.0,52.8 120.0,52.6 121.0,52.3 122.5,52.6 122.4,53.1 121.0,53.4 120.2,54.0 119.3,55.0 120.3,55.7 120.8,57.0 121.5,57.9 121.9,59.0 121.5,59.5 121.9,60.2 121.6,61.2 120.9,62.1 120.2,63.0 119.6,64.0 119.0,64.8 118.2,65.5 117.2,66.4 116.2,67.1 115.0,67.3 114.2,67.7 113.5,67.5 112.8,68.1 111.5,68.5 110.5,68.8 110.1,69.7 109.7,68.5 108.5,68.3 107.5,68.6 106.7,69.4 105.9,70.4 105.6,71.5 106.5,72.6 107.5,73.7 108.3,74.3 108.9,75.0 109.2,76.5 109.2,78.0 108.7,78.9 107.5,79.5 106.7,79.7 106.3,80.5 105.0,81.4 104.8,80.5 104.9,79.7 104.3,79.5 103.5,79.4 102.7,78.2 102.2,77.7 101.3,77.3 100.9,76.5 100.0,76.6 99.9,77.8 99.2,79.0 99.2,80.2 99.9,80.8 100.3,81.7 100.6,82.8 101.3,83.1 102.2,83.8 103.0,84.5 103.4,85.2 103.5,86.2 103.9,87.5 104.3,88.6 103.5,88.7 102.8,88.1 101.4,87.2 100.7,86.2 100.4,85.0 100.3,84.0 99.7,83.2 99.2,82.5 98.5,81.9 98.3,81.0 98.6,79.8 98.7,78.4 98.5,77.0 97.8,75.5 97.6,73.7 97.0,73.1 96.2,73.4 95.4,74.2 94.6,74.0 94.4,72.5 94.0,71.2 93.5,70.5 92.7,69.4 92.2,68.7 91.8,67.7 91.0,67.3 90.5,67.8 89.5,68.1 88.8,68.4 88.2,68.3 87.0,68.6 86.5,69.8 85.2,70.6 84.0,71.7 82.4,72.9 81.3,73.7 80.3,74.5 80.2,76.5 80.0,77.8 79.8,78.8 79.4,79.7 78.9,80.6 78.2,81.1 77.5,81.9 76.6,81.1 76.2,80.0 75.7,78.6 74.9,77.2 74.5,76.0 73.8,74.4 73.2,73.0 72.9,71.5 72.8,70.0 72.6,68.7 72.3,67.8 71.5,69.0 70.5,69.1 69.2,67.8 70.0,67.1 68.8,66.8 68.4,66.1 67.3,65.5 66.6,64.6 64.5,64.8 62.0,64.9 59.5,64.5 57.5,64.2 57.0,63.1 56.3,62.8 55.0,63.2 53.5,63.3 52.0,62.2 50.8,61.1 50.2,59.9 49.0,59.6 48.0,60.0 48.0,61.0 48.5,61.7 49.5,62.9 50.1,63.4 50.2,64.4 50.9,65.3 51.3,65.0 51.6,64.2 51.5,64.8 51.6,65.6 52.5,65.8 54.0,65.9 55.5,64.6 56.3,63.7 56.4,65.1 57.4,66.1 58.5,66.4 59.8,67.5 59.2,68.5 58.5,69.5 57.8,70.3 57.7,71.1 56.5,72.0 55.3,72.7 54.0,73.1 52.2,74.3 49.6,75.4 48.0,76.0 46.0,76.6 45.0,77.2 43.5,77.3 43.2,76.7 42.8,75.4 42.6,74.3 42.8,73.5 42.4,72.5 41.2,71.0 40.0,69.5 39.1,68.3 39.0,67.4 38.3,66.0 37.5,65.3 37.2,64.8 36.6,64.0 36.0,63.0 35.1,61.9 34.9,60.5 34.6,61.3 34.2,62.2 33.5,61.7 32.6,60.1Z"/><path d="M392.5,60.1 392.7,61.0 393.5,62.5 394.5,64.0 395.5,66.0 395.6,67.0 396.8,68.0 397.3,70.5 398.5,72.0 399.5,74.2 400.8,75.5 402.5,77.0 403.3,78.2 404.5,79.5 406.0,79.3 408.0,78.8 410.0,78.5 411.3,78.2 411.0,79.6 410.5,81.0 409.5,83.0 408.5,84.5 407.5,85.8 406.0,87.7 404.0,89.0 402.0,90.8 401.0,92.0 400.0,93.0 399.5,94.5 399.0,96.0 399.3,97.5 399.5,99.0 400.3,100.5 400.5,102.5 400.6,104.5 400.0,106.0 397.5,107.8 396.0,109.0 395.0,110.0 395.3,111.5 395.5,113.5 393.0,115.5 392.7,116.5 392.5,118.3 391.5,119.2 390.5,120.5 389.0,122.3 387.5,123.3 386.0,123.8 384.5,124.1 382.5,124.0 380.0,124.8 378.8,124.3 378.4,123.9 378.0,122.5 377.5,120.5 376.5,118.6 375.3,117.0 374.8,115.0 374.5,112.9 373.5,111.0 372.0,108.5 371.8,107.0 372.2,105.0 372.8,103.0 373.8,101.0 373.3,99.0 372.5,97.0 372.2,96.0 371.8,94.5 370.5,93.0 369.5,91.5 369.0,90.5 369.5,89.0 369.8,87.5 369.6,86.2 368.7,85.5 367.5,85.6 366.0,85.7 365.2,84.5 364.5,83.8 362.5,83.7 361.0,84.0 359.0,85.0 358.0,85.2 356.0,84.8 354.0,85.2 352.4,85.6 351.0,85.0 349.5,83.8 348.5,83.0 347.5,82.5 346.8,81.5 346.5,80.5 345.5,79.5 344.7,78.8 343.3,77.6 343.2,76.5 342.6,75.3 343.3,74.5 343.8,73.0 343.9,71.5 343.5,70.5 343.0,69.0 343.5,67.5 344.0,66.3 345.0,65.2 345.5,64.0 346.8,62.5 348.5,61.8 350.0,61.0 350.3,59.5 350.5,58.0 351.5,56.8 353.0,56.1 353.5,55.5 354.0,54.4 354.5,54.1 355.5,54.8 357.0,54.7 358.0,54.9 360.0,54.2 361.5,53.5 363.0,53.2 365.0,53.3 367.0,53.0 368.5,53.1 370.2,52.8 371.0,53.1 370.5,54.0 371.0,54.8 370.3,55.7 370.2,56.3 371.2,56.8 372.5,57.2 375.2,57.7 375.5,58.5 377.5,59.0 379.0,59.7 380.0,59.0 380.0,57.9 381.0,57.2 382.5,57.2 383.5,57.9 385.0,58.4 387.0,58.7 389.0,59.1 390.0,58.7 391.0,58.5 392.3,58.7 393.5,58.9 394.3,58.6 394.7,58.0 395.0,57.2 395.5,56.2 395.9,55.2 395.8,54.2 396.0,53.5 395.5,53.3 394.5,53.2 393.5,53.8 392.5,53.9 391.0,53.2 390.5,53.6 389.5,53.8 388.5,53.3 387.5,53.0 387.2,52.2 386.5,51.7 386.8,51.2 386.5,50.7 386.2,50.1 386.5,49.7 387.5,49.6 389.0,49.1 388.0,49.0 387.0,49.4 386.2,49.4 386.0,49.2 385.0,49.1 384.0,49.2 383.5,49.7 382.6,49.5 382.8,50.5 383.3,50.9 382.9,51.4 384.0,51.8 383.0,52.1 382.8,52.7 383.0,53.5 382.4,53.5 381.7,53.1 381.6,52.4 381.1,51.7 380.8,51.0 380.2,50.4 379.4,49.5 379.5,48.2 378.6,47.6 377.5,47.0 376.0,46.5 375.2,45.8 374.5,44.8 373.6,44.3 372.5,44.5 372.3,45.0 372.4,45.7 373.5,46.4 374.3,47.5 375.2,48.1 376.2,48.2 377.2,49.0 378.5,49.8 378.3,50.1 377.0,49.5 376.6,50.4 377.1,51.0 376.5,51.6 376.0,52.1 375.6,51.8 375.8,51.0 375.6,49.9 374.8,49.4 374.0,49.1 373.0,48.7 372.0,48.1 371.2,47.5 370.5,47.0 370.2,46.1 369.5,45.8 368.7,45.6 367.8,46.1 367.0,46.5 366.0,46.9 365.0,46.6 364.0,46.5 363.2,46.8 363.1,47.5 363.2,48.1 362.0,48.8 360.8,49.3 360.0,50.2 359.7,50.7 360.2,51.2 359.5,51.8 359.1,52.4 358.2,53.0 357.5,53.3 355.6,53.3 354.7,53.8 354.0,53.6 353.6,53.1 352.6,52.8 351.1,53.0 351.2,52.0 350.6,51.2 351.0,50.2 351.2,49.2 351.2,48.0 350.8,47.2 351.2,46.5 352.0,46.3 354.0,46.4 356.0,46.6 358.0,46.6 358.5,46.4 358.8,45.5 358.8,44.2 358.2,43.5 357.7,42.8 357.0,42.5 355.7,42.2 355.3,41.6 356.5,41.2 357.5,41.4 358.4,41.3 358.6,40.4 359.8,40.7 360.2,40.3 361.5,39.9 361.6,39.1 362.5,38.9 363.5,38.6 364.2,38.0 364.7,37.1 365.5,36.6 367.0,36.5 368.0,36.4 368.7,36.0 368.6,35.0 368.1,34.4 368.2,33.4 368.6,32.9 369.6,32.6 370.6,32.3 370.4,32.8 370.3,33.5 370.9,33.7 370.2,34.2 369.8,35.0 370.0,35.5 371.0,36.0 372.3,35.7 373.5,35.7 374.3,36.1 376.0,35.7 378.0,35.2 379.0,35.6 380.0,35.3 381.2,34.7 381.1,33.7 381.5,32.7 382.5,32.3 383.6,33.0 384.3,32.8 384.4,31.7 383.5,31.4 383.5,30.8 385.5,30.5 388.0,30.5 390.0,30.1 389.0,29.8 387.0,29.5 385.0,29.8 382.9,30.1 381.5,29.2 381.5,28.3 381.2,27.3 382.3,26.5 383.5,26.0 384.5,25.2 385.4,24.9 385.0,24.4 384.2,24.2 382.5,24.2 381.4,25.1 381.2,25.8 380.0,26.3 378.8,26.7 378.0,27.4 377.4,28.3 377.2,29.0 377.4,29.4 378.6,29.9 378.4,30.7 376.8,31.3 376.5,32.5 376.1,33.6 374.7,33.8 374.2,34.6 372.9,34.6 372.6,33.8 371.9,32.6 371.2,31.6 370.5,30.7 370.3,31.0 369.5,31.1 368.0,31.9 366.5,31.9 365.6,31.5 365.3,30.7 365.0,29.8 364.9,28.9 365.2,28.0 365.5,27.5 366.5,27.3 368.0,26.7 369.5,26.4 370.5,25.5 371.6,24.8 372.4,23.8 373.5,22.9 374.7,22.2 375.5,21.5 376.5,21.1 378.0,20.4 379.5,20.0 381.0,19.7 383.0,19.4 384.5,19.0 386.0,19.0 388.0,19.1 390.0,19.6 391.0,20.0 392.5,20.2 394.0,20.6 396.0,20.9 398.0,21.4 400.0,22.1 401.0,22.7 401.1,23.2 400.2,23.7 398.5,24.0 396.5,23.7 394.8,23.4 393.5,23.3 393.0,23.8 394.5,24.6 394.8,25.4 396.2,25.8 397.5,26.1 398.0,25.5 397.2,25.0 398.5,25.0 400.0,25.4 400.5,25.0 399.8,24.4 401.5,23.9 402.5,23.6 404.0,23.9 404.3,23.2 403.8,22.4 404.2,21.7 406.0,21.7 406.5,22.2 405.4,22.4 407.0,22.7 408.5,22.3 411.0,21.7 413.5,21.3 414.5,21.7 416.5,21.4 418.5,21.1 419.5,21.6 420.5,21.1 420.5,20.2 422.5,20.3 424.5,20.7 426.5,21.0 427.0,21.5 428.5,21.8 429.0,21.1 428.2,20.5 427.0,20.2 426.9,19.2 428.5,18.2 429.3,17.1 431.5,17.1 432.8,17.8 432.5,19.0 431.8,20.0 433.0,20.6 432.5,21.5 433.5,22.2 432.5,23.0 431.0,23.5 432.5,23.7 434.0,23.0 434.8,22.0 434.5,21.2 433.5,20.8 433.7,19.5 434.3,19.0 433.0,18.5 434.5,17.8 435.2,17.4 435.5,18.5 436.5,18.9 438.0,18.8 436.5,18.0 438.5,17.6 440.5,17.9 440.8,16.4 442.0,16.3 445.0,16.1 446.8,16.3 446.0,15.5 447.2,14.9 449.0,14.5 452.0,14.1 455.0,13.9 457.0,14.0 458.5,13.6 461.0,13.1 463.0,12.5 464.3,12.3 466.0,12.6 467.3,13.5 469.0,13.3 471.0,13.3 473.0,13.8 473.5,14.4 472.5,15.0 470.5,15.6 469.5,16.0 471.0,16.3 473.0,16.2 475.0,16.3 478.0,16.4 480.0,17.0 483.5,17.0 484.0,16.3 486.0,16.5 487.0,16.5 488.5,17.0 489.0,17.5 488.5,18.2 490.0,19.0 491.5,19.1 492.5,18.1 494.0,18.5 496.0,18.4 498.0,18.4 499.5,17.6 501.0,17.3 502.5,17.3 505.0,17.6 508.0,17.7 510.0,18.3 512.5,19.1 515.0,19.0 518.0,19.1 519.8,19.5 520.0,20.3 522.0,20.4 524.0,20.3 526.0,20.5 528.0,20.2 529.5,21.3 530.5,20.1 532.5,20.2 535.0,20.3 537.5,20.6 540.0,21.1 542.0,21.6 544.0,22.2 546.0,22.9 548.0,23.3 549.5,23.4 550.3,24.0 549.0,24.5 547.0,24.6 546.5,25.4 547.5,25.7 545.5,25.6 543.5,25.0 542.0,25.2 540.5,25.5 538.5,25.4 537.3,25.2 536.0,25.3 538.5,26.5 539.3,27.1 537.5,27.5 534.5,28.2 533.0,28.8 531.5,29.6 530.3,30.1 528.5,29.5 526.5,29.8 525.0,30.2 523.5,30.4 523.0,31.0 522.0,31.9 522.5,32.5 523.2,33.5 522.5,34.0 521.8,34.7 520.5,35.7 519.8,36.8 518.5,37.2 518.0,38.0 516.7,39.0 516.4,38.0 516.0,36.5 515.6,35.0 515.8,33.5 516.8,32.5 518.0,32.0 519.5,31.0 521.0,29.7 523.0,28.8 524.0,27.7 522.5,27.5 520.5,28.3 519.0,28.2 517.5,28.4 516.0,28.8 514.5,30.5 513.0,30.9 511.5,30.8 510.0,30.4 508.5,30.7 506.5,30.7 504.5,30.6 502.5,30.8 500.5,32.0 499.0,32.5 497.5,33.5 496.0,34.8 497.0,35.8 498.5,36.0 499.5,35.8 501.3,36.7 501.0,37.5 500.5,39.0 500.5,40.0 500.2,41.5 498.6,43.0 497.5,44.2 496.0,45.5 495.0,46.3 493.0,47.2 492.0,46.8 491.2,47.4 490.7,47.7 490.0,48.5 489.5,49.2 488.5,50.0 487.5,50.5 488.3,51.3 489.2,52.5 489.5,54.0 489.2,54.8 488.5,55.0 487.5,55.3 486.5,55.6 486.3,54.9 486.6,54.1 486.7,53.1 486.2,52.3 485.3,52.3 485.0,51.5 485.3,50.6 484.7,50.2 483.5,50.2 482.3,50.6 481.2,51.2 481.6,50.5 481.5,49.8 482.3,49.4 481.2,49.1 480.0,49.7 479.3,50.6 478.2,51.0 477.7,51.5 478.5,52.2 479.0,52.8 480.0,52.6 481.0,52.3 482.5,52.6 482.4,53.1 481.0,53.4 480.2,54.0 479.3,55.0 480.3,55.7 480.8,57.0 481.5,57.9 481.9,59.0 481.5,59.5 481.9,60.2 481.6,61.2 480.9,62.1 480.2,63.0 479.6,64.0 479.0,64.8 478.2,65.5 477.2,66.4 476.2,67.1 475.0,67.3 474.2,67.7 473.5,67.5 472.8,68.1 471.5,68.5 470.5,68.8 470.1,69.7 469.7,68.5 468.5,68.3 467.5,68.6 466.7,69.4 465.9,70.4 465.6,71.5 466.5,72.6 467.5,73.7 468.3,74.3 468.9,75.0 469.2,76.5 469.2,78.0 468.7,78.9 467.5,79.5 466.7,79.7 466.3,80.5 465.0,81.4 464.8,80.5 464.9,79.7 464.3,79.5 463.5,79.4 462.7,78.2 462.2,77.7 461.3,77.3 460.9,76.5 460.0,76.6 459.9,77.8 459.2,79.0 459.2,80.2 459.9,80.8 460.3,81.7 460.6,82.8 461.3,83.1 462.2,83.8 463.0,84.5 463.4,85.2 463.5,86.2 463.9,87.5 464.3,88.6 463.5,88.7 462.8,88.1 461.4,87.2 460.7,86.2 460.4,85.0 460.3,84.0 459.7,83.2 459.2,82.5 458.5,81.9 458.3,81.0 458.6,79.8 458.7,78.4 458.5,77.0 457.8,75.5 457.6,73.7 457.0,73.1 456.2,73.4 455.4,74.2 454.6,74.0 454.4,72.5 454.0,71.2 453.5,70.5 452.7,69.4 452.2,68.7 451.8,67.7 451.0,67.3 450.5,67.8 449.5,68.1 448.8,68.4 448.2,68.3 447.0,68.6 446.5,69.8 445.2,70.6 444.0,71.7 442.4,72.9 441.3,73.7 440.3,74.5 440.2,76.5 440.0,77.8 439.8,78.8 439.4,79.7 438.9,80.6 438.2,81.1 437.5,81.9 436.6,81.1 436.2,80.0 435.7,78.6 434.9,77.2 434.5,76.0 433.8,74.4 433.2,73.0 432.9,71.5 432.8,70.0 432.6,68.7 432.3,67.8 431.5,69.0 430.5,69.1 429.2,67.8 430.0,67.1 428.8,66.8 428.4,66.1 427.3,65.5 426.6,64.6 424.5,64.8 422.0,64.9 419.5,64.5 417.5,64.2 417.0,63.1 416.3,62.8 415.0,63.2 413.5,63.3 412.0,62.2 410.8,61.1 410.2,59.9 409.0,59.6 408.0,60.0 408.0,61.0 408.5,61.7 409.5,62.9 410.1,63.4 410.2,64.4 410.9,65.3 411.3,65.0 411.6,64.2 411.5,64.8 411.6,65.6 412.5,65.8 414.0,65.9 415.5,64.6 416.3,63.7 416.4,65.1 417.4,66.1 418.5,66.4 419.8,67.5 419.2,68.5 418.5,69.5 417.8,70.3 417.7,71.1 416.5,72.0 415.3,72.7 414.0,73.1 412.2,74.3 409.6,75.4 408.0,76.0 406.0,76.6 405.0,77.2 403.5,77.3 403.2,76.7 402.8,75.4 402.6,74.3 402.8,73.5 402.4,72.5 401.2,71.0 400.0,69.5 399.1,68.3 399.0,67.4 398.3,66.0 397.5,65.3 397.2,64.8 396.6,64.0 396.0,63.0 395.1,61.9 394.9,60.5 394.6,61.3 394.2,62.2 393.5,61.7 392.6,60.1Z"/><path d="M192.0,24.4 194.0,23.7 196.5,23.4 198.0,23.9 199.0,23.5 197.5,23.0 196.0,22.2 194.0,21.7 195.5,21.1 197.0,20.5 198.0,19.7 200.0,19.2 203.0,18.8 205.0,19.0 208.0,19.2 211.0,19.5 214.0,19.9 217.0,19.9 220.0,20.4 223.0,21.0 225.0,20.6 228.0,20.4 231.0,20.0 233.0,20.4 235.0,20.6 237.0,20.5 239.0,20.2 242.0,21.0 245.0,21.2 247.0,22.0 250.0,22.0 252.0,21.5 254.0,21.2 256.0,22.0 258.0,22.2 262.0,22.2 264.0,22.5 265.0,22.0 266.0,20.8 264.5,18.5 266.5,19.0 268.0,20.0 270.0,21.0 272.0,22.0 274.0,23.0 275.0,20.5 278.0,20.5 279.0,22.0 278.0,23.0 277.0,24.0 274.0,23.5 272.5,25.5 270.0,26.0 267.0,28.0 265.5,30.0 265.8,31.3 267.5,33.0 270.0,33.0 272.0,34.0 275.0,34.7 277.7,35.0 278.0,37.0 279.5,38.5 280.7,38.5 281.0,37.0 280.5,35.5 283.0,34.5 283.5,33.0 282.5,31.5 282.5,30.0 282.0,27.7 285.0,27.7 288.0,28.2 290.0,29.0 290.5,31.0 292.0,31.5 293.0,31.6 294.5,30.5 295.5,29.7 298.0,32.5 298.5,34.0 300.0,35.0 302.0,35.5 304.0,36.5 304.3,37.9 303.0,38.6 301.0,39.7 299.0,39.8 296.0,39.7 293.5,39.8 291.0,41.5 289.2,43.0 292.0,41.2 295.0,40.8 295.8,41.5 294.8,42.0 295.2,43.0 296.0,43.8 298.0,44.2 299.0,44.7 300.0,44.0 298.5,45.0 296.5,45.5 294.5,46.5 294.0,45.5 295.5,44.7 294.0,44.8 293.0,45.2 291.5,45.8 290.0,46.3 289.2,47.2 289.5,48.2 290.0,48.3 289.0,48.5 287.5,48.8 286.0,49.3 286.0,50.3 285.1,51.1 284.9,51.7 284.1,52.7 283.7,53.0 284.0,54.0 284.5,54.8 283.5,55.4 282.1,56.1 281.0,56.7 280.0,57.5 279.0,58.5 278.6,60.0 279.4,61.5 280.0,63.2 279.7,64.7 279.0,64.8 278.2,63.8 277.3,62.5 277.2,61.2 276.3,60.1 275.0,60.3 273.5,59.6 272.0,59.5 270.5,59.8 270.7,60.9 269.5,60.9 268.0,60.4 266.2,60.3 265.0,60.8 263.5,61.7 262.7,62.5 262.6,64.0 262.3,65.5 262.3,67.5 262.7,69.0 263.7,70.5 265.0,71.4 265.5,71.8 267.5,71.4 268.7,71.4 269.5,70.5 269.6,69.0 272.0,68.5 273.2,68.7 272.5,70.5 272.0,71.5 271.7,73.0 271.2,74.2 272.5,74.2 274.0,74.0 276.0,74.2 276.7,75.0 276.5,76.5 276.4,78.0 276.2,79.0 277.0,80.0 278.0,81.0 279.0,81.2 280.5,80.5 282.0,81.2 282.7,81.5 283.5,81.5 284.3,80.6 284.7,79.3 285.7,78.9 287.0,78.7 288.2,77.7 289.0,78.5 288.5,79.1 288.7,77.7 289.5,78.2 290.0,77.8 291.0,78.5 292.0,79.4 294.0,79.4 296.0,79.4 297.5,79.4 298.1,80.0 299.2,81.5 300.2,81.8 301.5,83.0 302.8,84.0 305.0,84.1 307.0,84.5 308.3,85.8 309.0,86.5 310.0,88.2 310.1,89.0 309.5,90.0 309.0,90.5 311.0,91.0 311.5,91.5 313.0,90.7 315.0,91.5 316.0,92.5 318.0,92.8 320.0,92.9 321.5,93.7 323.0,94.9 324.5,95.2 325.0,97.0 325.2,98.5 324.5,99.8 323.0,101.0 322.0,102.7 321.0,104.0 321.0,106.5 320.5,108.0 320.0,109.5 319.2,111.5 318.0,113.0 315.5,113.2 313.5,114.0 312.0,115.5 311.4,117.5 311.0,118.7 309.5,120.5 308.2,121.8 307.5,123.0 306.5,124.0 305.2,124.9 303.5,124.8 301.5,124.3 302.5,125.5 303.2,126.5 302.2,128.2 300.5,128.8 298.0,128.9 297.7,130.5 295.5,130.8 295.0,132.0 296.2,132.5 295.0,133.0 294.7,134.5 292.5,136.0 294.0,137.5 292.0,140.0 291.0,141.0 291.5,142.3 290.0,142.7 289.0,143.8 287.5,143.5 286.0,142.0 285.0,140.0 284.5,138.0 285.5,136.5 286.0,135.0 287.0,133.5 286.5,132.0 286.3,130.0 286.5,128.0 287.4,125.5 288.5,123.0 288.5,120.0 288.7,118.0 289.5,115.5 289.6,113.5 289.8,111.0 289.7,108.5 288.5,107.5 286.7,106.3 285.0,105.3 283.7,103.8 283.0,102.2 282.0,100.5 280.7,98.0 280.0,97.0 278.8,96.0 279.0,94.5 279.7,93.5 280.2,92.5 279.2,91.5 280.0,90.0 280.0,89.0 281.0,88.5 281.5,87.5 282.5,86.5 282.7,85.5 282.5,83.5 282.0,82.5 281.5,81.8 280.5,81.1 279.5,82.0 278.5,82.0 277.5,81.8 276.5,81.5 275.2,80.2 274.3,79.2 273.5,78.0 272.5,77.0 271.5,76.8 270.0,76.2 268.5,75.8 267.5,75.2 266.0,74.0 264.5,74.2 263.5,74.3 262.0,73.8 260.5,73.2 259.0,72.5 257.5,72.0 256.0,71.2 254.5,70.2 254.5,69.0 254.2,67.5 253.5,66.7 252.0,65.0 250.7,64.0 249.5,62.5 248.0,61.0 247.0,59.5 245.5,58.5 245.2,59.5 246.0,61.0 247.5,62.5 248.5,64.0 249.5,65.8 250.5,67.0 250.0,67.1 248.5,65.5 247.8,64.2 246.5,63.2 245.5,62.2 245.0,60.5 243.5,58.5 242.8,57.3 241.5,56.0 239.4,55.5 238.2,53.7 237.5,52.5 237.0,51.7 236.2,50.5 235.7,49.5 235.8,48.0 235.5,46.5 236.0,44.0 235.3,41.7 237.0,41.8 237.5,42.5 237.2,41.0 236.0,40.2 235.0,39.5 233.0,39.0 232.5,37.5 231.5,36.5 230.0,35.5 229.5,34.2 228.5,33.5 227.0,32.5 225.5,31.5 224.0,31.5 222.5,31.2 220.5,30.5 218.5,30.0 216.5,30.0 214.5,29.5 212.5,29.2 211.5,30.0 210.0,30.4 208.5,30.8 209.0,29.5 210.0,28.8 208.0,29.5 206.5,30.5 205.5,31.5 204.0,32.2 202.5,33.0 201.5,33.5 200.0,34.2 198.5,34.5 197.0,35.2 195.5,35.5 197.5,34.5 199.5,33.5 201.5,32.2 202.5,31.2 201.0,31.2 198.5,31.3 198.0,30.2 196.0,30.0 195.0,29.3 195.0,28.2 194.0,27.5 195.5,26.8 199.0,26.0 199.2,25.4 197.5,25.5 195.5,25.5 193.7,25.4 193.2,24.8 192.0,24.4Z"/><path d="M-365.0,161.0 -360.0,161.0 -333.5,161.0 -326.4,159.0 -319.3,158.5 -306.7,156.6 -294.0,157.7 -293.0,163.4 -290.7,163.0 -290.0,160.0 -285.4,160.1 -274.7,156.9 -258.6,155.7 -246.2,156.9 -240.3,157.2 -229.6,156.4 -217.0,157.2 -204.6,159.0 -197.4,160.7 -189.5,161.8 -193.0,164.0 -197.4,165.8 -192.1,167.2 -201.0,170.4 -197.4,172.4 -186.7,173.3 -172.5,174.5 -156.4,175.3 -155.0,172.0 -151.1,167.5 -140.4,165.5 -127.9,164.2 -121.7,164.2 -111.0,164.5 -100.3,164.1 -86.0,163.4 -79.0,164.5 -75.0,162.6 -69.6,159.5 -62.7,155.9 -55.9,152.9 -60.0,157.1 -62.7,162.0 -65.5,165.8 -73.7,168.3 -79.0,169.5 -68.2,170.8 -55.0,170.5 -46.4,168.3 -40.0,169.5 -35.5,170.0 -26.0,168.3 -21.9,164.5 -8.2,162.0 -1.4,160.8 5.0,161.0"/><path d="M-5.0,161.0 0.0,161.0 26.5,161.0 33.6,159.0 40.7,158.5 53.3,156.6 66.0,157.7 67.0,163.4 69.3,163.0 70.0,160.0 74.6,160.1 85.3,156.9 101.4,155.7 113.8,156.9 119.7,157.2 130.4,156.4 143.0,157.2 155.4,159.0 162.6,160.7 170.5,161.8 167.0,164.0 162.6,165.8 167.9,167.2 159.0,170.4 162.6,172.4 173.3,173.3 187.5,174.5 203.6,175.3 205.0,172.0 208.9,167.5 219.6,165.5 232.1,164.2 238.3,164.2 249.0,164.5 259.7,164.1 274.0,163.4 281.0,164.5 285.0,162.6 290.4,159.5 297.3,155.9 304.1,152.9 300.0,157.1 297.3,162.0 294.5,165.8 286.3,168.3 281.0,169.5 291.8,170.8 305.0,170.5 313.6,168.3 320.0,169.5 324.5,170.0 334.0,168.3 338.1,164.5 351.8,162.0 358.6,160.8 365.0,161.0"/><path d="M355.0,161.0 360.0,161.0 386.5,161.0 393.6,159.0 400.7,158.5 413.3,156.6 426.0,157.7 427.0,163.4 429.3,163.0 430.0,160.0 434.6,160.1 445.3,156.9 461.4,155.7 473.8,156.9 479.7,157.2 490.4,156.4 503.0,157.2 515.4,159.0 522.6,160.7 530.5,161.8 527.0,164.0 522.6,165.8 527.9,167.2 519.0,170.4 522.6,172.4 533.3,173.3 547.5,174.5 563.6,175.3 565.0,172.0 568.9,167.5 579.6,165.5 592.1,164.2 598.3,164.2 609.0,164.5 619.7,164.1 634.0,163.4 641.0,164.5 645.0,162.6 650.4,159.5 657.3,155.9 664.1,152.9 660.0,157.1 657.3,162.0 654.5,165.8 646.3,168.3 641.0,169.5 651.8,170.8 665.0,170.5 673.6,168.3 680.0,169.5 684.5,170.0 694.0,168.3 698.1,164.5 711.8,162.0 718.6,160.8 725.0,161.0"/><path d="M172.5,37.0 173.5,37.2"/><path d="M177.0,38.2 179.0,38.5"/><path d="M181.0,38.3 183.0,38.0"/><path d="M185.0,37.8 187.0,37.4"/><path d="M188.0,37.2 191.0,36.7"/><path d="M192.0,36.5 194.0,36.0"/><path d="M195.0,35.5 196.5,35.0"/><path d="M145.5,46.5 147.0,45.5"/><path d="M148.0,44.8 149.5,44.0"/><path d="M151.0,43.0 152.5,42.2"/><path d="M153.5,41.5 155.0,40.5"/><path d="M155.5,39.8 156.3,39.2"/><path d="M28.0,48.4 27.9,47.3 28.6,46.4 28.9,45.5 29.7,44.8 30.5,44.0 30.8,43.5 31.7,43.4 32.5,44.0 33.5,44.1 32.5,44.7 33.5,45.5 34.5,45.5 35.5,45.0 36.5,44.7 35.0,44.3 35.5,43.7 36.8,43.2 38.3,42.8 39.2,42.8 38.3,43.4 37.8,44.0 37.2,44.7 36.8,45.0 37.3,45.3 38.4,45.7 39.5,46.4 40.5,47.0 41.6,48.0 41.6,48.5 40.5,49.0 39.5,48.9 38.0,49.1 36.8,48.7 36.0,48.3 35.0,48.0 34.0,48.0 33.0,48.1 31.5,48.8 29.2,48.8Z"/><path d="M47.0,45.5 47.5,46.5 47.7,47.2 48.5,48.2 49.2,49.0 49.6,49.7 49.4,50.6 48.9,51.6 49.0,52.4 50.2,52.9 51.5,53.2 53.0,53.1 54.0,52.7 53.8,51.7 53.2,50.7 53.5,50.0 52.9,49.1 52.8,48.2 52.5,47.3 51.6,46.8 51.0,45.6 50.4,45.3 51.3,44.8 52.8,44.7 53.2,43.7 52.0,43.1 51.2,42.9 50.0,43.3 49.0,43.6 48.0,44.1 47.2,45.0Z"/><path d="M-5.7,39.9 -4.2,39.6 -3.0,39.3 -1.5,39.3 0.3,39.2 1.4,38.7 0.8,38.2 1.7,37.3 0.3,36.9 0.0,36.4 -0.5,35.5 -1.5,34.7 -2.0,34.1 -3.0,34.0 -2.5,33.4 -1.8,32.5 -3.0,32.3 -4.0,32.1 -3.0,31.4 -4.5,31.4 -5.0,31.4 -5.5,32.2 -5.8,33.0 -5.5,33.7 -5.8,34.4 -5.0,35.0 -4.5,35.2 -3.5,35.1 -3.2,35.8 -3.0,36.5 -4.5,36.7 -4.0,37.5 -4.3,38.0 -5.2,38.2 -4.0,38.5 -3.0,38.5 -4.5,38.9Z"/><path d="M354.3,39.9 355.8,39.6 357.0,39.3 358.5,39.3 360.3,39.2 361.4,38.7 360.8,38.2 361.7,37.3 360.3,36.9 360.0,36.4 359.5,35.5 358.5,34.7 358.0,34.1 357.0,34.0 357.5,33.4 358.2,32.5 357.0,32.3 356.0,32.1 357.0,31.4 355.5,31.4 355.0,31.4 354.5,32.2 354.2,33.0 354.5,33.7 354.2,34.4 355.0,35.0 355.5,35.2 356.5,35.1 356.8,35.8 357.0,36.5 355.5,36.7 356.0,37.5 355.7,38.0 354.8,38.2 356.0,38.5 357.0,38.5 355.5,38.9Z"/><path d="M354.0,37.8 353.7,36.7 353.9,36.0 354.4,35.4 353.8,34.8 352.7,34.7 351.7,34.9 351.4,35.7 350.0,35.9 350.1,36.7 350.6,37.4 349.7,38.1 350.5,38.5 351.8,38.2 353.1,37.9Z"/><path d="M338.0,26.1 340.0,26.5 342.0,26.6 344.0,26.0 345.5,25.6 346.4,24.8 345.4,24.0 344.0,23.5 342.0,23.9 340.0,23.9 338.5,24.5 337.5,23.6 336.0,24.4 338.0,25.0 336.0,25.1 337.5,25.8Z"/><path d="M9.4,47.0 9.5,47.8 9.2,48.6 8.6,48.1 8.7,47.4Z"/><path d="M9.2,48.8 9.7,49.5 9.6,50.8 9.0,51.0 8.4,51.0 8.4,49.6 8.2,49.1Z"/><path d="M12.4,51.9 13.5,51.8 15.6,51.7 15.1,52.7 15.0,53.3 14.3,53.0 12.5,52.4Z"/><path d="M23.5,54.5 24.5,54.6 26.3,54.7 25.8,55.0 24.7,55.1 23.5,54.8Z"/><path d="M32.3,55.0 33.0,54.6 34.6,54.3 34.0,55.0 33.0,55.4Z"/><path d="M11.0,11.5 15.0,13.0 17.0,13.4 19.0,12.0 22.0,12.5 24.0,11.7 21.0,10.5 18.0,9.8 15.0,10.1 11.0,10.5Z"/><path d="M52.5,18.6 55.5,19.4 57.6,19.3 56.5,18.0 58.0,16.2 61.0,14.7 65.0,13.8 68.5,13.1 68.0,12.9 64.0,13.1 60.0,13.8 57.0,14.8 55.5,16.0 54.0,16.7 53.0,17.7Z"/><path d="M96.0,10.5 100.0,11.5 104.0,11.0 104.0,10.0 100.0,8.8 95.0,9.0 93.0,10.0Z"/><path d="M137.0,15.0 140.0,15.5 143.0,15.0 148.0,14.5 142.0,14.0 138.0,13.8Z"/><path d="M45.0,10.0 50.0,10.2 60.0,9.5 62.0,8.7 55.0,8.5 48.0,9.0Z"/><path d="M178.5,19.0 181.0,18.5 183.0,19.0 180.0,19.2Z"/><path d="M142.0,44.0 143.5,43.5 143.0,42.0 144.5,41.0 143.5,39.0 143.3,37.0 142.8,35.7 142.2,36.0 141.7,37.5 142.0,39.0 142.0,41.0 141.9,42.5Z"/><path d="M140.0,48.5 141.2,48.2 141.7,47.4 143.3,48.0 145.5,46.7 145.3,45.8 144.0,46.0 141.9,44.5 141.6,44.8 141.4,46.2 140.4,46.8 140.0,47.5Z"/><path d="M140.0,49.3 141.5,48.7 141.6,50.0 142.0,50.7 141.0,51.7 140.9,53.0 140.5,54.3 139.8,55.1 139.0,55.3 138.0,55.4 137.0,55.4 136.8,55.7 135.8,56.5 135.1,55.7 133.5,55.6 132.0,56.1 131.0,56.0 131.0,55.5 132.5,54.6 134.0,54.5 135.8,54.4 136.7,53.1 137.3,53.2 137.0,52.8 138.5,52.4 139.5,51.5 140.0,50.5Z"/><path d="M130.0,56.2 131.0,56.1 131.8,57.0 131.4,58.5 130.7,59.0 130.2,58.7 130.2,57.5 129.6,56.8Z"/><path d="M132.6,57.0 133.0,56.0 134.2,55.7 134.7,56.2 134.2,56.8 133.2,57.2Z"/><path d="M120.1,67.0 120.7,68.0 121.4,67.0 121.9,65.2 121.5,64.7 120.8,65.2 120.2,66.2Z"/><path d="M108.6,70.8 109.5,71.8 110.5,71.4 111.0,70.3 110.3,69.9 109.0,70.1Z"/><path d="M79.8,82.0 79.9,80.3 80.8,80.7 81.8,82.5 81.3,83.8 80.2,84.0Z"/><path d="M120.6,71.5 122.2,71.5 122.0,73.0 121.6,74.2 122.0,76.0 124.0,76.2 124.0,77.4 123.0,77.0 121.8,76.2 120.6,75.6 120.6,74.5 119.8,73.7 120.4,72.5Z"/><path d="M122.0,83.0 123.5,82.2 124.0,81.5 125.5,80.2 126.5,82.0 126.2,83.5 125.5,84.2 124.0,83.7Z"/><path d="M124.3,77.5 125.7,79.0 125.0,79.8 124.3,78.5Z"/><path d="M122.0,78.2 123.2,79.0 123.2,80.5 122.3,80.0Z"/><path d="M117.2,81.6 119.0,79.5 119.7,78.6 119.3,79.5 118.0,81.0Z"/><path d="M109.0,88.5 109.5,90.5 110.0,91.5 111.0,93.0 113.0,93.3 114.5,93.8 116.0,93.5 116.5,92.0 117.5,90.0 117.8,89.0 118.8,88.5 118.0,87.5 118.2,85.5 119.2,84.8 117.5,83.5 116.5,83.2 115.5,84.5 114.5,85.5 113.0,86.8 111.5,87.5 109.7,88.0Z"/><path d="M95.3,84.4 97.5,84.8 98.7,86.2 100.0,87.5 101.3,88.0 103.5,89.5 104.5,91.0 105.8,93.0 105.8,95.8 104.5,95.9 102.3,94.0 101.0,92.5 99.5,90.5 98.7,88.4 97.5,87.5 96.2,85.8Z"/><path d="M105.2,96.8 106.5,96.0 108.3,96.3 110.5,96.9 112.5,96.9 114.5,97.7 114.5,98.7 112.5,98.4 110.0,98.0 108.0,97.8 106.5,97.4Z"/><path d="M115.8,98.2 117.0,98.0 119.0,98.5 118.5,99.0 116.5,99.0Z"/><path d="M119.8,98.5 122.5,98.2 122.8,98.7 120.5,98.9Z"/><path d="M123.5,100.3 125.0,99.0 127.2,98.4 126.5,99.0 124.5,100.0Z"/><path d="M119.0,99.5 120.8,99.8 120.5,100.3 119.0,99.8Z"/><path d="M125.2,88.4 124.0,89.4 121.0,89.4 120.2,89.8 119.8,90.8 119.5,93.0 118.8,93.5 119.5,95.5 120.4,95.5 120.3,93.0 121.0,92.6 122.0,94.6 123.2,94.5 122.2,93.0 121.5,91.9 122.5,91.0 123.4,90.9 121.8,90.6 120.8,91.3 120.5,90.3 121.5,89.6 123.5,89.6 124.5,89.6Z"/><path d="M127.5,90.5 128.5,89.5 128.3,88.5 128.0,87.8 127.8,89.0Z"/><path d="M126.0,93.2 127.2,93.3 127.0,93.8 126.0,93.6Z"/><path d="M128.0,93.2 130.5,93.0 130.8,93.8 128.5,93.7Z"/><path d="M131.0,91.0 132.0,90.4 134.0,90.9 135.0,93.3 137.0,91.5 138.5,91.8 140.5,92.4 142.5,93.2 144.5,93.8 145.8,95.0 146.5,96.0 147.5,96.5 147.8,98.0 148.5,99.0 149.5,100.0 150.5,100.5 149.0,100.4 147.5,100.1 146.0,98.5 144.0,97.7 143.0,99.0 141.0,99.2 139.5,98.1 138.5,98.3 138.0,97.5 138.8,96.8 137.5,95.0 135.5,94.4 134.0,93.8 133.0,94.0 132.0,92.9 133.5,92.5 132.5,92.2 131.0,91.5Z"/><path d="M148.5,95.5 150.0,95.0 151.5,94.2 152.3,94.5 151.5,95.5 150.0,96.2Z"/><path d="M113.5,112.0 114.2,112.0 116.0,110.8 118.5,110.3 121.0,109.5 122.2,108.0 122.5,107.0 123.5,106.5 124.5,105.5 125.5,104.5 126.5,104.0 127.8,104.5 128.5,105.0 129.5,104.8 130.0,103.5 130.5,102.5 131.5,102.2 132.5,101.5 134.0,102.0 135.5,102.2 136.5,102.0 136.8,102.8 136.0,103.5 135.5,104.8 137.0,106.0 138.5,106.8 140.0,107.6 141.0,106.5 141.5,105.0 141.6,103.0 142.0,101.5 142.5,100.7 143.0,102.0 143.5,104.0 144.5,104.3 145.3,105.0 145.5,106.5 146.0,107.8 146.5,109.0 148.5,110.3 149.5,112.0 150.7,112.6 151.2,114.0 153.0,115.3 153.5,118.0 153.0,120.5 152.5,122.0 151.3,123.8 150.5,125.5 150.0,127.5 148.0,127.8 146.5,128.8 145.0,128.3 143.5,128.8 141.5,128.4 140.0,127.5 139.5,126.0 138.5,125.5 138.0,124.3 137.5,125.2 136.8,125.3 137.8,123.5 137.5,123.0 136.0,124.5 135.5,124.8 134.5,123.2 133.5,122.2 132.0,122.0 130.0,121.6 128.0,122.2 126.0,122.3 124.0,123.0 123.5,123.9 121.5,123.8 119.5,124.3 118.0,125.0 116.5,125.0 115.0,124.3 115.7,123.3 115.8,122.0 115.0,120.0 114.9,119.0 114.0,117.0 113.4,116.0 113.8,115.0 113.4,114.0 113.8,113.0Z"/><path d="M144.7,130.7 146.5,131.1 148.3,130.9 148.3,132.2 147.9,133.2 146.8,133.6 146.0,133.5 145.3,132.3Z"/><path d="M172.7,124.4 174.5,125.5 175.0,126.5 175.8,126.8 176.0,127.5 177.5,127.8 178.5,127.7 178.0,129.0 177.0,129.3 176.8,130.0 175.5,131.5 174.8,131.3 175.0,130.0 174.0,129.5 174.6,128.0 174.5,127.0 173.0,125.3Z"/><path d="M172.7,130.5 173.0,131.0 174.3,131.5 173.5,132.8 172.8,133.8 171.0,134.5 170.7,135.8 169.5,136.6 168.3,136.6 166.5,136.0 166.8,135.2 168.0,134.0 170.0,133.0 171.2,132.0 172.0,130.8Z"/><path d="M49.3,102.0 50.0,103.5 50.5,105.5 49.8,106.5 49.5,108.0 48.7,110.5 47.7,113.5 47.0,115.0 45.5,115.5 44.0,115.0 43.5,113.0 43.3,111.5 44.3,110.0 44.0,108.0 44.4,106.2 46.5,105.7 47.5,104.5 48.0,103.5Z"/><path d="M287.0,11.5 292.0,13.5 295.0,14.0 300.0,14.0 302.0,14.5 304.0,16.0 305.0,18.0 306.5,19.5 309.0,21.0 307.0,22.0 306.5,23.5 308.0,25.0 309.0,26.5 310.5,28.0 311.5,29.0 314.0,29.5 316.0,30.0 317.0,29.5 318.0,28.0 319.0,26.5 320.0,25.0 322.5,24.2 325.0,23.5 328.0,22.0 334.0,21.5 337.0,20.0 338.0,18.5 336.0,17.0 340.0,16.0 341.0,14.0 341.5,13.0 340.0,11.5 343.0,10.0 345.0,8.5 340.0,8.0 332.0,6.7 325.0,6.4 315.0,7.5 308.0,8.0 300.0,8.3 298.0,8.8 294.0,9.5 290.0,10.5Z"/><path d="M298.5,23.4 297.5,25.0 295.5,27.0 294.0,28.0 291.5,27.4 288.5,26.5 287.0,25.5 285.0,25.5 282.0,25.5 282.5,24.5 286.0,24.0 287.0,22.5 285.0,21.5 282.0,20.5 280.0,20.0 275.0,19.5 272.0,19.5 270.5,18.5 272.0,17.0 275.0,16.3 280.0,16.3 284.0,17.3 287.5,18.5 290.0,19.5 292.0,20.0 293.5,21.5 296.5,22.5Z"/><path d="M241.5,20.0 245.0,20.7 250.0,21.2 254.0,21.0 258.0,20.5 259.0,19.5 257.0,18.5 255.0,17.0 252.0,16.7 248.0,17.2 245.0,16.6 241.5,17.5 242.0,19.0Z"/><path d="M235.0,18.1 238.5,18.5 241.0,17.7 239.5,16.0 236.0,15.7 234.5,17.0Z"/><path d="M280.0,13.7 283.0,13.0 282.0,11.5 285.0,10.5 290.0,9.5 296.0,8.2 298.0,7.5 290.0,6.9 280.0,7.0 272.0,8.0 268.0,9.0 270.0,10.5 272.0,12.0 275.0,12.7Z"/><path d="M280.0,15.5 270.0,15.5 268.0,14.5 272.0,13.5 278.0,13.7Z"/><path d="M255.0,15.0 246.0,15.5 242.5,13.8 250.0,13.2 256.0,14.0Z"/><path d="M263.0,15.0 260.0,14.5 259.5,13.5 262.5,13.2Z"/><path d="M270.0,11.5 265.0,11.0 265.0,9.2 270.0,9.0 273.0,10.0Z"/><path d="M262.0,18.5 259.0,17.5 258.5,16.5 262.0,16.0 263.5,17.0Z"/><path d="M266.0,18.0 264.5,17.0 266.0,16.0 269.0,16.5 267.0,18.0Z"/><path d="M274.0,26.0 278.0,26.0 280.0,26.5 278.5,27.4 276.0,27.0 273.5,25.2Z"/><path d="M307.0,43.0 306.5,43.4 305.0,43.0 304.0,42.4 300.7,42.4 301.5,41.5 302.5,40.0 304.0,38.4 304.5,38.5 304.0,40.0 304.5,40.5 306.0,40.5 307.0,41.5Z"/><path d="M236.5,41.6 235.0,41.0 233.5,40.2 231.6,39.2 233.0,39.5 235.0,40.0Z"/><path d="M275.1,68.1 277.0,67.1 279.0,66.8 280.5,67.4 282.5,68.5 284.5,69.3 285.8,69.8 285.0,70.1 282.5,70.1 282.0,69.2 280.0,68.2 278.0,68.0 276.5,68.2Z"/><path d="M285.5,71.6 287.2,71.5 287.2,70.1 288.5,70.1 290.5,70.5 291.7,71.4 290.5,71.8 288.5,72.3 287.0,72.0Z"/><path d="M281.7,71.7 283.7,71.8 283.2,72.1 282.0,72.0Z"/><path d="M292.8,71.5 294.4,71.6 294.4,72.0 292.8,72.0Z"/><path d="M298.7,141.3 302.0,141.3 302.2,141.8 300.5,142.3 298.7,141.8Z"/><path d="M291.5,142.6 293.5,144.9 291.5,145.0 289.5,144.7 288.0,143.8 290.5,143.2Z"/><path d="M204.5,71.0 205.0,70.3 204.2,69.8 204.0,70.5Z"/><path d="M238.0,14.0 242.0,13.5 243.0,12.7 239.0,12.7 237.0,13.4Z"/><path d="M264.0,15.3 267.0,15.2 266.5,14.5 264.0,14.6Z"/><path d="M257.0,12.2 261.0,12.2 261.0,11.2 258.0,11.1Z"/><path d="M262.0,12.2 265.0,11.8 264.0,11.4 262.0,11.6Z"/><path d="M261.0,21.2 264.0,21.4 264.5,20.4 262.0,20.2Z"/><path d="M280.0,17.0 283.0,17.2 283.5,16.5 280.5,16.2Z"/><path d="M276.5,27.5 279.0,27.4 278.0,26.7 276.2,27.0Z"/><path d="M279.5,28.3 280.5,28.1 280.0,27.7Z"/><path d="M150.5,92.6 152.0,93.2 153.0,94.5 152.7,94.8 151.5,93.6Z"/><path d="M154.6,95.4 155.5,96.0 156.0,96.8 155.3,96.7 154.7,95.9Z"/><path d="M159.6,99.3 160.8,99.5 160.5,99.9 159.7,99.7Z"/><path d="M164.0,110.2 165.5,111.0 167.0,112.3 166.5,112.5 164.8,111.3Z"/><path d="M177.3,107.6 178.5,107.4 178.6,108.2 177.5,108.2Z"/><path d="M178.8,106.5 180.0,106.2 179.8,106.8 178.8,106.9Z"/><path d="M123.8,98.2 124.5,98.1 124.4,98.5 123.8,98.5Z"/><path class="dots" d="M204.50,70.40h0.01M203.70,69.20h0.01M202.10,68.60h0.01M200.50,68.00h0.01M199.80,68.10h0.01M171.00,82.90h0.01M168.00,81.00h0.01M166.50,78.80h0.01M169.50,84.00h0.01M171.50,81.50h0.01M138.10,80.50h0.01M134.50,82.50h0.01M151.80,82.60h0.01M158.20,83.10h0.01M163.00,84.70h0.01M144.80,76.60h0.01M145.70,74.80h0.01M173.00,88.60h0.01M174.50,90.80h0.01M176.00,91.80h0.01M202.60,88.10h0.01M200.70,86.10h0.01M179.20,98.50h0.01M177.50,96.50h0.01M157.00,98.00h0.01M159.50,99.50h0.01M160.80,99.50h0.01M161.00,98.50h0.01M162.50,100.50h0.01M155.50,96.20h0.01M152.30,94.20h0.01M151.00,93.20h0.01M147.00,92.00h0.01M167.00,105.50h0.01M168.00,106.50h0.01M168.30,107.70h0.01M169.30,109.50h0.01M166.80,103.80h0.01M178.00,107.80h0.01M179.30,106.50h0.01M180.20,106.80h0.01M188.00,103.70h0.01M188.50,104.00h0.01M184.80,111.20h0.01M185.50,109.80h0.01M190.10,109.05h0.01M200.20,111.20h0.01M202.10,111.90h0.01M210.50,107.60h0.01M208.50,106.70h0.01M220.00,99.00h0.01M220.80,99.80h0.01M215.00,105.00h0.01M213.50,106.00h0.01M217.50,106.50h0.01M219.50,108.00h0.01M225.00,113.10h0.01M269.50,90.50h0.01M268.80,90.70h0.01M250.60,117.10h0.01M280.00,123.60h0.01M281.20,123.60h0.01M231.70,114.40h0.01M282.50,65.50h0.01M284.00,65.00h0.01M282.00,63.50h0.01M284.50,66.50h0.01M286.50,68.80h0.01M282.20,66.00h0.01M298.50,73.80h0.01M299.00,75.40h0.01M298.80,76.80h0.01M298.40,77.90h0.01M299.10,79.50h0.01M300.50,76.90h0.01M298.20,72.90h0.01M73.50,86.00h0.01M73.30,88.00h0.01M73.10,89.50h0.01M57.50,110.30h0.01M55.50,111.10h0.01M55.50,94.60h0.01M43.30,101.70h0.01M92.70,78.00h0.01M93.50,82.50h0.01M54.00,77.50h0.01M72.40,97.30h0.01M344.50,62.00h0.01M343.50,61.70h0.01M346.00,61.50h0.01M336.50,75.00h0.01M335.50,73.50h0.01M332.00,51.50h0.01M334.50,52.20h0.01M343.00,57.30h0.01M295.20,57.70h0.01M329.00,50.50h0.01M323.50,144.30h0.01M347.70,127.10h0.01M69.50,139.30h0.01M51.50,136.40h0.01M37.80,136.90h0.01M73.50,143.00h0.01M315.00,150.60h0.01M302.00,152.00h0.01M333.50,147.50h0.01M158.90,144.60h0.01M169.10,142.50h0.01M166.00,140.70h0.01M183.50,134.00h0.01M354.30,105.90h0.01M345.60,97.90h0.01M330.70,110.50h0.01M6.70,89.70h0.01M8.70,86.40h0.01M125.50,98.30h0.01M131.50,97.50h0.01M134.50,96.00h0.01M130.50,98.00h0.01M127.80,93.60h0.01M130.30,94.50h0.01M132.80,95.70h0.01M123.00,98.50h0.01M124.50,98.20h0.01M126.80,97.70h0.01M111.00,97.50h0.01M126.00,80.00h0.01M123.90,79.70h0.01M121.00,77.00h0.01M121.50,77.50h0.01M120.00,77.80h0.01M125.00,78.00h0.01M113.50,97.00h0.01M116.10,98.50h0.01M106.50,93.10h0.01M107.80,92.80h0.01M104.50,90.50h0.01M97.50,88.80h0.01M98.50,91.60h0.01M99.30,92.00h0.01M102.30,95.30h0.01M95.50,87.00h0.01M129.50,61.80h0.01M128.00,63.50h0.01M124.20,65.60h0.01M131.00,59.50h0.01M139.50,56.90h0.01M140.00,63.00h0.01M142.20,63.20h0.01M191.80,104.20h0.01M194.20,100.40h0.01M199.00,100.50h0.01M188.20,99.20h0.01M187.50,98.50h0.01M179.10,98.70h0.01M181.90,104.30h0.01M183.80,103.30h0.01M186.00,108.70h0.01" stroke-width="1.7" stroke-linecap="round"/></g>
</g>
<rect x="43.4" y="24.4" width="500.90" height="274.40" fill="none" stroke="#3a3a3a" stroke-width="1.1"/>
<line x1="32.2" x2="43.4" y1="85.38" y2="85.38" stroke="#b8b8b8" stroke-width="1"/>
<text transform="translate(16.2 85.38) rotate(-90)" text-anchor="middle" font-size="19.4">50° N</text>
<line x1="32.2" x2="43.4" y1="161.60" y2="161.60" stroke="#b8b8b8" stroke-width="1"/>
<text transform="translate(16.2 161.60) rotate(-90)" text-anchor="middle" font-size="19.4">0° N</text>
<line x1="32.2" x2="43.4" y1="237.82" y2="237.82" stroke="#b8b8b8" stroke-width="1"/>
<text transform="translate(16.2 237.82) rotate(-90)" text-anchor="middle" font-size="19.4">-50° N</text>
<text x="44.6" y="49.8" font-size="28.5">a)</text>
<clipPath id="pcb"><rect x="43.4" y="344.2" width="500.90" height="251.70"/></clipPath>
<g clip-path="url(#pcb)">
<clipPath id="cpbb1"><rect x="41.1" y="341.9" width="169.2" height="128.4"/></clipPath>
<g clip-path="url(#cpbb1)">
<path d="M43.0,344.0 L210.0,344.0 L210.0,471.0 L43.0,471.0Z" fill="#b0e8ec"/>
<path d="M67.4,353.8 C70.6,352.9 80.8,352.3 86.9,352.5 C93.0,352.7 101.5,353.9 103.9,355.0 C106.4,356.1 105.6,358.4 101.5,359.1 C97.4,359.8 85.3,359.4 79.6,359.1 C73.9,358.8 69.4,358.3 67.4,357.4 C65.3,356.5 64.1,354.6 67.4,353.8Z" fill="#e0f6f4"/>
<path d="M164.9,353.8 C168.6,352.9 184.8,352.5 189.3,353.3 C193.7,354.0 195.4,357.2 191.7,358.1 C188.1,359.0 171.8,359.4 167.3,358.6 C162.9,357.9 161.2,354.6 164.9,353.8Z" fill="#e0f6f4"/>
<path d="M184.4,370.8 C186.0,368.8 194.8,368.4 199.0,368.4 C203.3,368.4 208.2,367.2 210.0,370.8 C211.8,374.5 211.8,387.5 210.0,390.3 C208.2,393.2 202.5,389.5 199.0,387.9 C195.6,386.3 191.7,383.4 189.3,380.6 C186.8,377.7 182.8,372.8 184.4,370.8Z" fill="#e0f6f4"/>
<path d="M164.9,394.0 C167.3,392.4 174.6,391.3 179.5,391.5 C184.4,391.7 192.1,393.2 194.2,395.2 C196.2,397.2 195.0,402.1 191.7,403.7 C188.5,405.4 179.1,405.4 174.6,404.9 C170.2,404.5 166.5,403.1 164.9,401.3 C163.3,399.5 162.5,395.6 164.9,394.0Z" fill="#e0f6f4"/>
<path d="M172.2,396.4 C173.0,395.2 181.6,394.6 184.4,395.2 C187.2,395.8 190.1,398.9 189.3,400.1 C188.5,401.3 182.4,403.1 179.5,402.5 C176.7,401.9 171.4,397.6 172.2,396.4Z" fill="#ffffff"/>
<path d="M116.1,386.7 C119.0,384.8 129.5,383.8 135.6,384.2 C141.7,384.6 150.3,386.7 152.7,389.1 C155.1,391.5 153.1,397.0 150.3,398.9 C147.4,400.7 140.9,400.7 135.6,400.1 C130.4,399.5 121.8,397.4 118.6,395.2 C115.3,393.0 113.3,388.5 116.1,386.7Z" fill="#e0f6f4"/>
<path d="M86.9,387.9 C89.7,386.9 101.5,386.1 106.4,386.7 C111.3,387.3 116.5,390.3 116.1,391.5 C115.7,392.8 108.4,393.8 103.9,394.0 C99.5,394.2 92.2,393.8 89.3,392.8 C86.5,391.7 84.0,388.9 86.9,387.9Z" fill="#e0f6f4"/>
<path d="M145.4,409.8 C147.0,408.4 154.3,407.5 157.6,407.9 C160.8,408.3 164.5,410.7 164.9,412.3 C165.3,413.8 162.9,416.4 160.0,417.1 C157.2,417.9 150.3,417.9 147.8,416.7 C145.4,415.4 143.8,411.3 145.4,409.8Z" fill="#e0f6f4"/>
<path d="M43.0,404.9 C45.4,402.9 52.8,403.1 57.6,403.7 C62.5,404.3 68.6,406.8 72.3,408.6 C75.9,410.4 80.4,413.1 79.6,414.7 C78.8,416.3 71.8,418.0 67.4,418.4 C62.9,418.8 56.8,417.5 52.8,417.1 C48.7,416.7 44.6,418.0 43.0,415.9 C41.4,413.9 40.6,407.0 43.0,404.9Z" fill="#e0f6f4"/>
<path d="M43.0,422.0 C45.4,418.8 52.8,419.8 57.6,419.6 C62.5,419.4 67.4,420.0 72.3,420.8 C77.1,421.6 83.6,422.8 86.9,424.5 C90.1,426.1 92.2,428.3 91.8,430.5 C91.4,432.8 87.7,436.1 84.4,437.9 C81.2,439.6 76.7,440.6 72.3,441.0 C67.8,441.4 62.5,440.6 57.6,440.3 C52.8,440.0 45.4,442.1 43.0,439.1 C40.6,436.0 40.6,425.3 43.0,422.0Z" fill="#ffffff"/>
<path d="M43.0,437.9 C45.4,435.2 51.9,436.6 57.6,436.6 C63.3,436.6 71.4,437.5 77.1,437.9 C82.8,438.3 86.9,439.3 91.8,439.1 C96.6,438.9 102.3,436.2 106.4,436.6 C110.5,437.0 114.5,439.1 116.1,441.5 C117.8,444.0 118.2,448.8 116.1,451.3 C114.1,453.7 110.0,455.4 103.9,456.1 C97.9,456.9 87.3,456.1 79.6,455.7 C71.8,455.3 63.7,454.2 57.6,453.7 C51.5,453.2 45.4,455.1 43.0,452.5 C40.6,449.8 40.6,440.5 43.0,437.9Z" fill="#7cc8d8"/>
<path d="M52.8,442.0 C55.2,440.8 62.1,440.7 67.4,440.3 C72.7,439.9 79.6,439.2 84.4,439.6 C89.3,440.0 95.0,441.0 96.6,442.7 C98.3,444.5 97.4,448.6 94.2,450.1 C90.9,451.5 82.8,451.1 77.1,451.3 C71.4,451.4 64.1,451.4 60.1,450.8 C56.0,450.2 54.0,449.1 52.8,447.6 C51.5,446.2 50.3,443.2 52.8,442.0Z" fill="#5aa0c8"/>
<path d="M66.2,441.5 C67.0,440.9 71.0,440.1 72.3,440.5 C73.5,440.9 74.3,443.3 73.5,444.0 C72.7,444.6 68.6,444.9 67.4,444.4 C66.2,444.0 65.3,442.2 66.2,441.5Z" fill="#3a6eb4"/>
<path d="M82.0,439.6 C82.8,438.8 86.9,438.6 88.1,439.1 C89.3,439.6 90.1,442.0 89.3,442.7 C88.5,443.5 84.4,444.0 83.2,443.5 C82.0,442.9 81.2,440.3 82.0,439.6Z" fill="#3a6eb4"/>
<path d="M111.3,434.2 C113.9,432.4 120.6,432.5 125.9,431.8 C131.2,431.0 139.3,428.6 143.0,429.8 C146.6,431.0 147.8,435.7 147.8,439.1 C147.8,442.5 146.2,447.8 143.0,450.1 C139.7,452.3 132.8,452.5 128.3,452.5 C123.9,452.5 119.2,451.7 116.1,450.1 C113.1,448.4 110.9,445.4 110.0,442.7 C109.2,440.1 108.6,436.0 111.3,434.2Z" fill="#7cc8d8"/>
<path d="M117.4,437.9 C119.0,436.1 124.5,436.4 128.3,435.7 C132.2,435.0 137.9,432.7 140.5,433.7 C143.2,434.7 144.4,439.2 144.2,441.5 C144.0,443.8 142.1,446.4 139.3,447.6 C136.5,448.8 130.6,449.0 127.1,448.8 C123.7,448.6 120.2,448.2 118.6,446.4 C117.0,444.6 115.7,439.6 117.4,437.9Z" fill="#5aa0c8"/>
<path d="M123.5,440.3 C124.9,439.2 130.4,439.0 133.2,438.6 C136.0,438.1 139.5,436.6 140.5,437.6 C141.5,438.6 140.9,443.0 139.3,444.4 C137.7,445.9 133.2,446.3 130.8,446.4 C128.3,446.5 125.9,445.9 124.7,444.9 C123.5,443.9 122.0,441.4 123.5,440.3Z" fill="#3a6eb4"/>
<path d="M127.1,441.0 C127.7,440.4 131.0,439.6 132.0,440.1 C133.0,440.5 133.8,442.8 133.2,443.5 C132.6,444.1 129.3,444.4 128.3,444.0 C127.3,443.5 126.5,441.7 127.1,441.0Z" fill="#3333a0"/>
<path d="M152.7,419.6 C154.3,418.4 159.6,418.0 162.5,418.4 C165.3,418.8 169.0,420.2 169.8,422.0 C170.6,423.8 169.4,427.9 167.3,429.3 C165.3,430.8 160.0,431.2 157.6,430.5 C155.1,429.9 153.5,427.5 152.7,425.7 C151.9,423.8 151.1,420.8 152.7,419.6Z" fill="#7cc8d8"/>
<path d="M156.4,421.5 C157.0,420.3 162.1,420.1 163.7,420.8 C165.3,421.5 166.7,424.5 166.1,425.7 C165.5,426.9 161.6,428.8 160.0,428.1 C158.4,427.4 155.8,422.7 156.4,421.5Z" fill="#5aa0c8"/>
<path d="M150.3,437.9 C151.7,436.4 157.6,436.0 160.0,436.6 C162.5,437.3 164.9,439.9 164.9,441.5 C164.9,443.1 162.3,445.8 160.0,446.4 C157.8,447.0 153.1,446.6 151.5,445.2 C149.9,443.8 148.8,439.3 150.3,437.9Z" fill="#ffffff"/>
<path d="M57.6,453.7 C61.3,451.0 72.3,454.9 79.6,454.9 C86.9,454.9 97.4,451.0 101.5,453.7 C105.6,456.4 111.3,468.1 103.9,471.0 C96.6,473.9 65.3,473.9 57.6,471.0 C49.9,468.1 54.0,456.4 57.6,453.7Z" fill="#b0e8ec"/>
<path d="M97.1,458.6 C99.4,456.3 108.5,455.3 111.3,457.4 C114.0,459.4 115.9,468.7 113.7,471.0 C111.5,473.3 100.6,473.1 97.9,471.0 C95.1,468.9 94.9,460.9 97.1,458.6Z" fill="#7cc8d8"/>
<path d="M43.0,458.6 C45.4,456.5 55.0,456.5 57.6,458.6 C60.3,460.7 61.3,468.9 58.8,471.0 C56.4,473.1 45.6,473.1 43.0,471.0 C40.4,468.9 40.6,460.7 43.0,458.6Z" fill="#b0e8ec"/>
<path d="M101.5,462.2 C107.8,461.0 134.0,462.0 140.5,463.5 C147.0,464.9 146.8,469.8 140.5,471.0 C134.2,472.3 109.2,472.5 102.7,471.0 C96.2,469.6 95.2,463.5 101.5,462.2Z" fill="#b0e8ec"/>
<path d="M140.5,467.1 C146.6,466.2 171.0,464.8 177.1,465.4 C183.2,466.1 183.2,470.1 177.1,471.0 C171.0,472.0 146.6,471.7 140.5,471.0 C134.4,470.4 134.4,468.1 140.5,467.1Z" fill="#ffffff"/>
<path d="M179.5,458.6 C182.0,456.3 189.1,457.4 194.2,457.4 C199.2,457.4 207.4,456.3 210.0,458.6 C212.6,460.9 215.1,468.9 210.0,471.0 C204.9,473.1 184.6,473.1 179.5,471.0 C174.4,468.9 177.1,460.9 179.5,458.6Z" fill="#7cc8d8"/>
</g>
<clipPath id="cpbb2"><rect x="209.7" y="341.9" width="167.6" height="128.4"/></clipPath>
<g clip-path="url(#cpbb2)">
<path d="M210.0,344.0 L377.0,344.0 L377.0,471.0 L210.0,471.0Z" fill="#b0e8ec"/>
<path d="M210.0,357.4 C214.1,356.2 226.3,358.8 234.4,358.6 C242.5,358.4 248.6,356.4 258.8,356.2 C268.9,356.0 283.1,357.0 295.3,357.4 C307.5,357.8 320.9,358.0 331.9,358.6 C342.9,359.2 353.6,360.5 361.2,361.1 C368.7,361.7 374.4,361.1 377.0,362.3 C379.6,363.5 380.5,367.2 377.0,368.4 C373.5,369.6 365.8,369.6 356.3,369.6 C346.7,369.6 331.9,368.8 319.7,368.4 C307.5,368.0 295.3,367.6 283.1,367.2 C270.9,366.8 258.8,366.1 246.6,365.9 C234.4,365.7 216.1,367.4 210.0,365.9 C203.9,364.5 205.9,358.6 210.0,357.4Z" fill="#e0f6f4"/>
<path d="M246.6,374.5 C248.4,373.8 256.7,374.4 258.8,375.2 C260.8,376.0 260.6,378.7 258.8,379.4 C256.9,380.0 249.8,380.2 247.8,379.4 C245.8,378.5 244.7,375.2 246.6,374.5Z" fill="#7cc8d8"/>
<path d="M270.9,378.1 C272.6,376.5 279.1,374.5 283.1,374.5 C287.2,374.5 292.9,375.9 295.3,378.1 C297.8,380.4 298.6,385.4 297.8,387.9 C297.0,390.3 293.7,392.4 290.5,392.8 C287.2,393.2 281.1,391.7 278.3,390.3 C275.4,388.9 274.6,386.3 273.4,384.2 C272.2,382.2 269.3,379.8 270.9,378.1Z" fill="#7cc8d8"/>
<path d="M314.8,373.3 C318.1,372.0 329.9,372.4 336.8,372.8 C343.7,373.2 353.4,374.0 356.3,375.7 C359.1,377.4 357.9,381.8 353.8,383.0 C349.8,384.2 338.0,383.4 331.9,383.0 C325.8,382.6 320.1,382.2 317.3,380.6 C314.4,378.9 311.6,374.6 314.8,373.3Z" fill="#7cc8d8"/>
<path d="M210.0,378.1 C212.0,376.1 218.9,379.1 222.2,380.6 C225.4,382.0 229.1,384.6 229.5,386.7 C229.9,388.7 227.9,391.7 224.6,392.8 C221.4,393.8 212.4,395.2 210.0,392.8 C207.6,390.3 208.0,380.2 210.0,378.1Z" fill="#e0f6f4"/>
<path d="M210.0,417.1 C214.1,412.1 226.3,416.3 234.4,415.9 C242.5,415.5 250.6,414.7 258.8,414.7 C266.9,414.7 275.0,415.9 283.1,415.9 C291.3,415.9 299.4,414.5 307.5,414.7 C315.6,414.9 323.8,416.7 331.9,417.1 C340.0,417.5 348.8,416.7 356.3,417.1 C363.8,417.5 373.5,413.9 377.0,419.6 C380.5,425.3 380.5,446.4 377.0,451.3 C373.5,456.1 363.8,448.8 356.3,448.8 C348.8,448.8 340.0,451.1 331.9,451.3 C323.8,451.5 315.6,450.9 307.5,450.1 C299.4,449.2 291.3,447.0 283.1,446.4 C275.0,445.8 266.9,446.8 258.8,446.4 C250.6,446.0 242.5,444.0 234.4,444.0 C226.3,444.0 214.1,450.9 210.0,446.4 C205.9,441.9 205.9,422.2 210.0,417.1Z" fill="#e0f6f4"/>
<path d="M268.5,424.5 C272.0,422.6 279.5,421.2 288.0,420.8 C296.5,420.4 310.0,421.8 319.7,422.0 C329.5,422.2 338.8,421.6 346.5,422.0 C354.2,422.4 361.2,422.8 366.0,424.5 C370.9,426.1 375.4,429.3 375.8,431.8 C376.2,434.2 373.3,437.5 368.5,439.1 C363.6,440.7 354.7,440.7 346.5,441.5 C338.4,442.3 329.1,443.1 319.7,444.0 C310.4,444.8 298.6,446.8 290.5,446.4 C282.3,446.0 274.8,444.0 270.9,441.5 C267.1,439.1 267.7,434.6 267.3,431.8 C266.9,428.9 265.1,426.3 268.5,424.5Z" fill="#ffffff"/>
<path d="M246.6,420.8 C248.2,419.9 256.5,419.5 258.8,420.1 C261.0,420.7 261.6,423.5 260.0,424.5 C258.4,425.4 251.2,426.3 249.0,425.7 C246.8,425.1 244.9,421.7 246.6,420.8Z" fill="#ffffff"/>
<path d="M210.0,447.6 L258.8,448.3 L307.5,447.6 L377.0,447.6 L377.0,471.0 L210.0,471.0Z" fill="#ffffff"/>
<path d="M210.0,446.4 C213.3,442.5 223.8,446.4 229.5,447.6 C235.2,448.8 241.3,449.8 244.1,453.7 C247.0,457.6 252.3,468.1 246.6,471.0 C240.9,473.9 216.1,475.1 210.0,471.0 C203.9,466.9 206.7,450.3 210.0,446.4Z" fill="#e0f6f4"/>
<path d="M214.9,451.3 C216.1,449.4 222.6,450.9 224.6,452.5 C226.7,454.1 228.3,459.2 227.1,461.0 C225.8,462.9 219.3,465.1 217.3,463.5 C215.3,461.8 213.7,453.1 214.9,451.3Z" fill="#b0e8ec"/>
<path d="M251.4,445.9 C256.3,444.9 271.8,445.0 283.1,444.4 C294.5,443.9 307.5,443.2 319.7,442.7 C331.9,442.2 346.7,441.6 356.3,441.5 C365.8,441.4 373.5,440.4 377.0,442.0 C380.5,443.6 380.5,449.5 377.0,451.3 C373.5,453.0 365.8,452.4 356.3,452.5 C346.7,452.6 331.9,452.0 319.7,451.8 C307.5,451.6 294.1,451.4 283.1,451.3 C272.2,451.1 259.2,451.7 253.9,450.8 C248.6,449.9 246.6,447.0 251.4,445.9Z" fill="#b0e8ec"/>
<path d="M299.0,428.1 C299.7,427.5 303.0,427.0 303.9,427.4 C304.7,427.8 304.6,429.9 303.9,430.5 C303.2,431.2 300.5,431.4 299.7,431.0 C298.9,430.6 298.3,428.7 299.0,428.1Z" fill="#f0e098"/>
</g>
<clipPath id="cpbb3"><rect x="376.7" y="341.9" width="169.89999999999995" height="128.4"/></clipPath>
<g clip-path="url(#cpbb3)">
<path d="M377.0,344.0 L544.0,344.0 L544.0,471.0 L377.0,471.0Z" fill="#b0e8ec"/>
<path d="M406.3,353.8 C414.8,352.7 448.9,351.7 457.5,352.5 C466.0,353.3 466.0,357.5 457.5,358.6 C448.9,359.7 414.8,359.9 406.3,359.1 C397.7,358.3 397.7,354.8 406.3,353.8Z" fill="#7cc8d8"/>
<path d="M450.1,358.6 C455.4,356.6 474.5,354.4 486.7,353.8 C498.9,353.1 518.0,352.5 523.3,355.0 C528.6,357.4 520.8,364.9 518.4,368.4 C516.0,371.8 512.7,374.1 508.6,375.7 C504.6,377.3 498.9,377.3 494.0,378.1 C489.1,378.9 483.5,381.4 479.4,380.6 C475.3,379.8 473.7,375.7 469.6,373.3 C465.6,370.8 458.3,368.4 455.0,365.9 C451.8,363.5 444.9,360.7 450.1,358.6Z" fill="#7cc8d8"/>
<path d="M496.5,362.3 C498.3,361.0 506.1,360.0 508.6,360.6 C511.2,361.2 512.2,364.3 511.6,365.9 C511.0,367.6 507.3,369.9 505.0,370.3 C502.7,370.7 499.1,369.7 497.7,368.4 C496.3,367.0 494.6,363.6 496.5,362.3Z" fill="#5aa0c8"/>
<path d="M377.0,370.8 C380.3,369.6 390.4,369.2 396.5,369.6 C402.6,370.0 411.1,371.8 413.6,373.3 C416.0,374.7 415.2,377.3 411.1,378.1 C407.1,378.9 394.9,378.3 389.2,378.1 C383.5,377.9 379.0,378.1 377.0,376.9 C375.0,375.7 373.7,372.0 377.0,370.8Z" fill="#e0f6f4"/>
<path d="M413.6,380.6 C416.4,377.7 429.4,378.7 435.5,379.4 C441.6,380.0 447.7,381.2 450.1,384.2 C452.6,387.3 452.6,395.2 450.1,397.6 C447.7,400.1 440.8,399.1 435.5,398.9 C430.2,398.7 422.1,399.5 418.4,396.4 C414.8,393.4 410.7,383.4 413.6,380.6Z" fill="#e0f6f4"/>
<path d="M377.0,390.3 C381.1,387.7 393.3,388.7 401.4,389.1 C409.5,389.5 419.7,390.9 425.8,392.8 C431.9,394.6 437.9,397.6 437.9,400.1 C437.9,402.5 431.9,406.4 425.8,407.4 C419.7,408.4 409.5,406.6 401.4,406.2 C393.3,405.8 381.1,407.6 377.0,404.9 C372.9,402.3 372.9,393.0 377.0,390.3Z" fill="#e0f6f4"/>
<path d="M494.0,380.6 C496.9,378.5 507.0,378.1 513.5,378.1 C520.0,378.1 528.0,379.8 533.0,380.6 C538.1,381.4 542.2,379.8 544.0,383.0 C545.8,386.3 546.6,397.0 544.0,400.1 C541.4,403.1 534.0,401.7 528.2,401.3 C522.3,400.9 513.9,399.5 508.6,397.6 C503.4,395.8 498.9,393.2 496.5,390.3 C494.0,387.5 491.2,382.6 494.0,380.6Z" fill="#e0f6f4"/>
<path d="M377.0,398.9 C379.4,395.8 386.3,397.0 391.6,397.6 C396.9,398.2 404.6,399.7 408.7,402.5 C412.8,405.4 418.0,412.3 416.0,414.7 C414.0,417.1 403.0,416.9 396.5,417.1 C390.0,417.3 380.3,419.0 377.0,415.9 C373.7,412.9 374.6,401.9 377.0,398.9Z" fill="#e0f6f4"/>
<path d="M377.0,414.7 C379.4,410.4 386.3,415.5 391.6,415.9 C396.9,416.3 405.4,415.3 408.7,417.1 C411.9,419.0 411.1,422.8 411.1,426.9 C411.1,431.0 411.9,438.7 408.7,441.5 C405.4,444.4 396.9,444.0 391.6,444.0 C386.3,444.0 379.4,446.4 377.0,441.5 C374.6,436.6 374.6,419.0 377.0,414.7Z" fill="#e0f6f4"/>
<path d="M381.9,419.6 C384.3,416.9 392.4,417.5 396.5,418.4 C400.6,419.2 405.0,421.4 406.3,424.5 C407.5,427.5 406.3,434.2 403.8,436.6 C401.4,439.1 395.3,439.5 391.6,439.1 C388.0,438.7 383.5,437.5 381.9,434.2 C380.3,431.0 379.4,422.2 381.9,419.6Z" fill="#ffffff"/>
<path d="M425.8,412.3 L462.3,411.0 L498.9,409.8 L528.2,412.3 L544.0,414.7 L544.0,472.0 L425.8,472.0 L413.6,441.5 L418.4,422.0Z" fill="#e0f6f4"/>
<path d="M433.1,417.1 C437.9,415.5 453.4,415.3 462.3,414.7 C471.3,414.1 478.2,413.5 486.7,413.5 C495.2,413.5 505.4,414.1 513.5,414.7 C521.7,415.3 530.4,416.3 535.5,417.1 C540.5,418.0 542.6,418.4 544.0,419.6 C545.4,420.8 547.5,423.2 544.0,424.5 C540.5,425.7 530.8,425.7 523.3,426.9 C515.8,428.1 507.0,430.1 498.9,431.8 C490.8,433.4 482.6,435.4 474.5,436.6 C466.4,437.9 456.2,439.5 450.1,439.1 C444.0,438.7 440.8,436.6 437.9,434.2 C435.1,431.8 433.9,427.3 433.1,424.5 C432.3,421.6 428.2,418.8 433.1,417.1Z" fill="#ffffff"/>
<path d="M457.5,439.1 C464.0,437.8 472.5,435.4 479.4,433.7 C486.3,432.0 492.4,430.5 498.9,428.8 C505.4,427.2 512.7,425.6 518.4,424.0 C524.1,422.3 529.7,419.5 533.0,419.1 C536.4,418.7 538.4,420.0 538.4,421.5 C538.4,423.0 537.2,425.8 533.0,428.1 C528.9,430.4 520.0,433.2 513.5,435.4 C507.0,437.7 499.7,439.7 494.0,441.5 C488.3,443.3 482.6,444.6 479.4,446.4 C476.1,448.2 477.4,450.9 474.5,452.5 C471.7,454.1 467.6,455.5 462.3,456.1 C457.0,456.8 448.5,456.6 442.8,456.1 C437.1,455.7 431.0,455.3 428.2,453.7 C425.4,452.1 423.7,448.4 425.8,446.4 C427.8,444.4 435.1,442.7 440.4,441.5 C445.7,440.3 451.0,440.4 457.5,439.1Z" fill="#f0e098"/>
<path d="M459.9,440.3 C462.3,438.5 472.9,437.2 479.4,435.4 C485.9,433.7 492.4,431.6 498.9,429.8 C505.4,428.0 512.7,426.1 518.4,424.5 C524.1,422.8 530.2,420.4 533.0,420.1 C535.9,419.7 535.9,421.2 535.5,422.5 C535.1,423.8 534.2,426.0 530.6,428.1 C526.9,430.3 519.6,433.2 513.5,435.4 C507.4,437.7 499.7,439.8 494.0,441.5 C488.3,443.3 484.3,445.1 479.4,445.9 C474.5,446.7 468.0,447.3 464.8,446.4 C461.5,445.5 457.5,442.1 459.9,440.3Z" fill="#ecb46c"/>
<path d="M469.6,440.3 C472.5,438.9 482.6,437.3 489.1,435.4 C495.6,433.6 503.0,431.0 508.6,429.3 C514.3,427.7 520.4,425.9 523.3,425.7 C526.1,425.5 527.3,426.7 525.7,428.1 C524.1,429.5 518.0,432.2 513.5,434.2 C509.1,436.2 503.8,438.7 498.9,440.3 C494.0,441.9 488.7,443.3 484.3,444.0 C479.8,444.6 474.5,444.6 472.1,444.0 C469.6,443.3 466.8,441.7 469.6,440.3Z" fill="#f08c50"/>
<path d="M479.4,441.5 C481.4,440.4 490.0,438.7 494.0,437.9 C498.1,437.0 502.6,436.0 503.8,436.6 C505.0,437.3 503.8,440.2 501.3,441.5 C498.9,442.8 492.4,444.0 489.1,444.4 C485.9,444.9 483.5,444.9 481.8,444.4 C480.2,444.0 477.4,442.6 479.4,441.5Z" fill="#f85a38"/>
<path d="M428.2,447.6 C430.6,446.4 440.0,446.3 445.3,446.4 C450.5,446.5 456.6,447.3 459.9,448.3 C463.1,449.4 465.2,451.2 464.8,452.5 C464.4,453.8 461.5,455.5 457.5,456.1 C453.4,456.8 444.9,456.6 440.4,456.1 C435.9,455.7 432.7,455.1 430.6,453.7 C428.6,452.3 425.8,448.8 428.2,447.6Z" fill="#ecb46c"/>
<path d="M437.9,448.3 C440.0,447.2 451.2,447.1 455.0,447.6 C458.9,448.1 461.1,450.1 461.1,451.3 C461.1,452.5 458.1,454.4 455.0,454.9 C452.0,455.4 445.7,455.3 442.8,454.2 C440.0,453.1 435.9,449.4 437.9,448.3Z" fill="#f08c50"/>
<path d="M479.4,447.6 C481.0,446.8 490.0,446.3 494.0,446.4 C498.1,446.5 503.0,447.5 503.8,448.3 C504.6,449.2 502.1,450.8 498.9,451.3 C495.6,451.8 487.5,451.9 484.3,451.3 C481.0,450.7 477.8,448.4 479.4,447.6Z" fill="#ecb46c"/>
<path d="M513.5,436.6 C515.6,434.2 523.1,435.0 528.2,434.2 C533.2,433.4 541.4,427.7 544.0,431.8 C546.6,435.8 547.5,454.1 544.0,458.6 C540.5,463.1 528.0,460.2 523.3,458.6 C518.6,457.0 517.6,452.5 516.0,448.8 C514.3,445.2 511.5,439.1 513.5,436.6Z" fill="#ffffff"/>
<path d="M523.3,441.5 C524.1,440.3 529.0,439.5 530.6,440.3 C532.2,441.1 533.8,445.2 533.0,446.4 C532.2,447.6 527.3,448.4 525.7,447.6 C524.1,446.8 522.5,442.7 523.3,441.5Z" fill="#b0e8ec"/>
<path d="M377.0,441.5 C381.1,437.0 394.1,442.7 401.4,444.0 C408.7,445.2 414.4,446.4 420.9,448.8 C427.4,451.3 435.5,454.9 440.4,458.6 C445.3,462.3 460.7,468.9 450.1,471.0 C439.6,473.1 389.2,475.9 377.0,471.0 C364.8,466.1 372.9,446.0 377.0,441.5Z" fill="#e0f6f4"/>
<path d="M377.0,446.4 C380.3,445.2 391.2,446.8 396.5,447.6 C401.8,448.4 407.9,449.8 408.7,451.3 C409.5,452.7 406.7,455.5 401.4,456.1 C396.1,456.8 381.1,456.6 377.0,454.9 C372.9,453.3 373.7,447.6 377.0,446.4Z" fill="#ffffff"/>
</g>
<clipPath id="cpbb4"><rect x="41.1" y="469.7" width="169.2" height="128.49999999999997"/></clipPath>
<g clip-path="url(#cpbb4)">
<path d="M43.0,470.0 L210.0,470.0 L210.0,597.0 L43.0,597.0Z" fill="#b0e8ec"/>
<path d="M43.0,470.0 C45.8,464.7 57.2,464.7 60.1,470.0 C62.9,475.3 62.9,496.4 60.1,501.7 C57.2,507.0 45.8,507.0 43.0,501.7 C40.2,496.4 40.2,475.3 43.0,470.0Z" fill="#ffffff"/>
<path d="M60.1,470.0 C67.0,463.9 96.6,467.6 103.9,470.0 C111.3,472.4 104.4,476.5 103.9,484.6 C103.5,492.8 104.8,513.1 101.5,518.8 C98.3,524.4 90.9,520.8 84.4,518.8 C77.9,516.7 66.6,514.7 62.5,506.6 C58.4,498.4 53.2,476.1 60.1,470.0Z" fill="#e0f6f4"/>
<path d="M62.5,470.0 C68.8,467.6 95.2,467.6 101.5,470.0 C107.8,472.4 101.9,481.0 100.3,484.6 C98.7,488.3 96.4,490.7 91.8,491.9 C87.1,493.2 76.9,493.2 72.3,491.9 C67.6,490.7 65.3,488.3 63.7,484.6 C62.1,481.0 56.2,472.4 62.5,470.0Z" fill="#b0e8ec"/>
<path d="M97.6,470.0 C99.9,469.6 110.7,469.6 113.0,470.0 C115.2,470.4 113.6,472.2 111.3,472.7 C108.9,473.1 101.3,473.1 99.1,472.7 C96.8,472.2 95.3,470.4 97.6,470.0Z" fill="#7cc8d8"/>
<path d="M62.5,489.5 C65.1,487.7 75.5,486.7 79.6,488.3 C83.6,489.9 86.1,495.4 86.9,499.3 C87.7,503.1 87.3,509.8 84.4,511.4 C81.6,513.1 73.3,511.0 69.8,509.0 C66.4,507.0 64.9,502.5 63.7,499.3 C62.5,496.0 59.9,491.3 62.5,489.5Z" fill="#ffffff"/>
<path d="M103.9,470.0 C121.6,462.7 192.3,465.5 210.0,470.0 C227.7,474.5 211.8,491.5 210.0,496.8 C208.2,502.1 202.5,500.1 199.0,501.7 C195.6,503.3 193.3,506.2 189.3,506.6 C185.2,507.0 179.5,504.1 174.6,504.1 C169.8,504.1 164.9,505.4 160.0,506.6 C155.1,507.8 150.7,509.8 145.4,511.4 C140.1,513.1 133.2,515.1 128.3,516.3 C123.5,517.5 120.2,519.2 116.1,518.8 C112.1,518.4 106.0,522.0 103.9,513.9 C101.9,505.8 86.3,477.3 103.9,470.0Z" fill="#ffffff"/>
<path d="M179.5,470.0 C183.0,468.4 204.9,468.0 210.0,470.0 C215.1,472.0 213.5,480.6 210.0,482.2 C206.5,483.8 194.4,481.8 189.3,479.8 C184.2,477.7 176.1,471.6 179.5,470.0Z" fill="#b0e8ec"/>
<path d="M43.0,501.7 C46.3,497.6 55.6,503.7 62.5,506.6 C69.4,509.4 77.5,517.3 84.4,518.8 C91.4,520.2 96.6,515.3 103.9,515.1 C111.3,514.9 120.2,517.9 128.3,517.5 C136.5,517.1 144.6,514.5 152.7,512.7 C160.8,510.8 167.5,509.2 177.1,506.6 C186.6,503.9 204.5,492.1 210.0,496.8 C215.5,501.5 215.5,528.9 210.0,534.6 C204.5,540.3 188.7,532.2 177.1,530.9 C165.5,529.7 152.7,527.7 140.5,527.3 C128.3,526.9 116.1,527.9 103.9,528.5 C91.8,529.1 77.5,530.5 67.4,530.9 C57.2,531.4 47.1,535.8 43.0,530.9 C38.9,526.1 39.7,505.8 43.0,501.7Z" fill="#e0f6f4"/>
<path d="M43.0,516.3 C47.1,515.3 59.3,521.0 67.4,522.4 C75.5,523.8 86.5,523.6 91.8,524.9 C97.0,526.1 101.1,528.5 99.1,529.7 C97.0,530.9 86.9,532.0 79.6,532.2 C72.3,532.4 61.3,531.6 55.2,530.9 C49.1,530.3 45.0,530.9 43.0,528.5 C41.0,526.1 38.9,517.3 43.0,516.3Z" fill="#ffffff"/>
<path d="M160.0,516.3 C163.7,514.9 171.2,515.5 179.5,515.1 C187.9,514.7 204.9,510.6 210.0,513.9 C215.1,517.1 213.5,531.3 210.0,534.6 C206.5,537.9 196.0,534.7 189.3,533.9 C182.6,533.1 175.1,531.4 169.8,529.7 C164.5,528.0 159.2,525.9 157.6,523.6 C156.0,521.4 156.4,517.7 160.0,516.3Z" fill="#ffffff"/>
<path d="M43.0,501.7 C45.4,499.1 52.8,501.1 57.6,502.9 C62.5,504.7 67.8,510.2 72.3,512.7 C76.7,515.1 82.6,515.7 84.4,517.5 C86.3,519.4 85.7,522.8 83.2,523.6 C80.8,524.4 74.5,522.8 69.8,522.4 C65.1,522.0 59.7,521.8 55.2,521.2 C50.7,520.6 45.0,522.0 43.0,518.8 C41.0,515.5 40.6,504.3 43.0,501.7Z" fill="#f0e098"/>
<path d="M43.0,502.9 C44.6,501.3 49.5,502.9 52.8,504.1 C56.0,505.4 59.7,508.2 62.5,510.2 C65.3,512.3 69.4,514.9 69.8,516.3 C70.2,517.7 67.8,518.8 64.9,518.8 C62.1,518.8 56.4,517.1 52.8,516.3 C49.1,515.5 44.6,516.1 43.0,513.9 C41.4,511.6 41.4,504.5 43.0,502.9Z" fill="#ecb46c"/>
<path d="M155.1,509.0 C157.6,507.6 165.7,504.5 169.8,504.1 C173.8,503.7 176.3,505.1 179.5,506.6 C182.8,508.0 185.2,511.4 189.3,512.7 C193.3,513.9 200.5,513.5 203.9,513.9 C207.4,514.3 209.0,513.7 210.0,515.1 C211.0,516.5 212.6,520.8 210.0,522.4 C207.4,524.0 199.2,525.3 194.2,524.9 C189.1,524.4 184.4,521.6 179.5,520.0 C174.6,518.4 169.0,516.3 164.9,515.1 C160.8,513.9 156.8,513.7 155.1,512.7 C153.5,511.6 152.7,510.4 155.1,509.0Z" fill="#f0e098"/>
<path d="M183.2,510.2 C184.0,509.9 187.7,511.1 189.3,511.9 C190.9,512.7 192.9,514.4 192.9,515.1 C192.9,515.8 190.7,516.5 189.3,516.3 C187.9,516.1 185.4,514.9 184.4,513.9 C183.4,512.9 182.4,510.6 183.2,510.2Z" fill="#ecb46c"/>
<path d="M43.0,567.5 C51.1,565.5 77.5,566.7 91.8,566.3 C106.0,565.9 116.1,565.5 128.3,565.1 C140.5,564.7 151.3,564.3 164.9,563.9 C178.5,563.5 202.5,560.4 210.0,562.6 C217.5,564.9 217.5,574.6 210.0,577.3 C202.5,579.9 178.5,578.5 164.9,578.5 C151.3,578.5 140.5,577.5 128.3,577.3 C116.1,577.1 106.0,577.1 91.8,577.3 C77.5,577.5 51.1,580.1 43.0,578.5 C34.9,576.9 34.9,569.5 43.0,567.5Z" fill="#e0f6f4"/>
<path d="M67.4,574.8 C75.5,572.0 99.9,574.8 116.1,574.8 C132.4,574.8 149.3,575.0 164.9,574.8 C180.5,574.6 202.5,570.8 210.0,573.6 C217.5,576.5 233.8,588.9 210.0,591.9 C186.2,594.9 91.1,594.7 67.4,591.9 C43.6,589.1 59.3,577.7 67.4,574.8Z" fill="#b0e8ec"/>
<path d="M79.6,578.7 C82.8,577.7 94.2,576.8 101.5,576.3 C108.8,575.8 115.7,575.8 123.5,575.6 C131.2,575.3 139.7,575.1 147.8,574.8 C156.0,574.6 164.5,574.3 172.2,574.1 C179.9,573.9 187.9,573.6 194.2,573.6 C200.5,573.7 207.4,571.6 210.0,574.3 C212.6,577.1 212.6,587.2 210.0,589.9 C207.4,592.7 200.5,590.8 194.2,590.9 C187.9,591.0 179.9,590.8 172.2,590.4 C164.5,590.0 156.0,589.1 147.8,588.5 C139.7,587.8 131.2,587.2 123.5,586.5 C115.7,585.9 108.4,585.2 101.5,584.6 C94.6,583.9 85.7,583.6 82.0,582.6 C78.4,581.7 76.3,579.8 79.6,578.7Z" fill="#7cc8d8"/>
<path d="M85.4,579.7 C87.9,579.2 95.2,578.6 101.5,578.2 C107.8,577.9 115.7,577.8 123.5,577.5 C131.2,577.3 139.7,577.0 147.8,576.8 C156.0,576.5 164.5,576.3 172.2,576.1 C179.9,575.8 187.9,575.5 194.2,575.6 C200.5,575.6 207.4,574.3 210.0,576.3 C212.6,578.3 212.6,585.5 210.0,587.5 C207.4,589.5 200.5,588.4 194.2,588.5 C187.9,588.6 179.9,588.4 172.2,588.0 C164.5,587.6 156.0,586.7 147.8,586.0 C139.7,585.4 131.2,584.7 123.5,584.1 C115.7,583.4 107.6,582.6 101.5,582.1 C95.4,581.7 89.6,581.6 86.9,581.2 C84.2,580.8 83.0,580.2 85.4,579.7Z" fill="#3333a0"/>
<path d="M43.0,582.1 C45.4,581.0 53.6,581.3 57.6,581.7 C61.7,582.1 66.6,583.5 67.4,584.6 C68.2,585.7 66.6,587.6 62.5,588.2 C58.4,588.9 46.3,589.3 43.0,588.2 C39.7,587.2 40.6,583.2 43.0,582.1Z" fill="#e0f6f4"/>
</g>
<clipPath id="cpbb5"><rect x="209.7" y="469.7" width="167.6" height="128.49999999999997"/></clipPath>
<g clip-path="url(#cpbb5)">
<path d="M210.0,470.0 L377.0,470.0 L377.0,597.0 L210.0,597.0Z" fill="#b0e8ec"/>
<path d="M210.0,470.0 L377.0,470.0 L377.0,530.9 L344.1,526.6 L307.5,521.7 L283.1,521.2 L234.4,518.8 L210.0,518.8Z" fill="#ffffff"/>
<path d="M210.0,470.0 C216.1,468.2 239.3,468.4 246.6,470.0 C253.9,471.6 253.9,477.3 253.9,479.8 C253.9,482.2 249.8,484.2 246.6,484.6 C243.3,485.0 240.5,482.8 234.4,482.2 C228.3,481.6 214.1,483.0 210.0,481.0 C205.9,478.9 203.9,471.8 210.0,470.0Z" fill="#e0f6f4"/>
<path d="M231.9,474.9 C234.4,474.1 246.6,474.9 249.0,476.1 C251.4,477.3 249.0,481.4 246.6,482.2 C244.1,483.0 236.8,482.2 234.4,481.0 C231.9,479.8 229.5,475.7 231.9,474.9Z" fill="#b0e8ec"/>
<path d="M210.0,482.2 C216.1,476.7 238.8,480.6 246.6,483.4 C254.3,486.3 254.3,493.4 256.3,499.3 C258.4,505.1 262.4,515.5 258.8,518.8 C255.1,522.0 242.5,519.2 234.4,518.8 C226.3,518.4 214.1,522.4 210.0,516.3 C205.9,510.2 203.9,487.7 210.0,482.2Z" fill="#e0f6f4"/>
<path d="M212.4,494.4 C216.9,491.7 232.8,491.1 239.3,493.2 C245.8,495.2 250.2,502.7 251.4,506.6 C252.7,510.4 251.0,514.7 246.6,516.3 C242.1,517.9 230.3,517.5 224.6,516.3 C218.9,515.1 214.5,512.7 212.4,509.0 C210.4,505.4 208.0,497.0 212.4,494.4Z" fill="#ffffff"/>
<path d="M349.0,487.1 C350.8,485.6 356.5,484.6 361.2,484.6 C365.8,484.6 374.4,483.4 377.0,487.1 C379.6,490.7 378.8,503.3 377.0,506.6 C375.2,509.8 369.5,507.8 366.0,506.6 C362.6,505.4 358.9,501.5 356.3,499.3 C353.6,497.0 351.4,495.2 350.2,493.2 C349.0,491.1 347.1,488.5 349.0,487.1Z" fill="#f0e098"/>
<path d="M353.8,488.3 C355.5,487.0 364.6,488.6 368.5,489.0 C372.3,489.4 375.6,488.4 377.0,490.7 C378.4,493.0 378.4,500.7 377.0,502.9 C375.6,505.1 371.5,505.1 368.5,504.1 C365.4,503.1 361.2,499.5 358.7,496.8 C356.3,494.2 352.2,489.6 353.8,488.3Z" fill="#ecb46c"/>
<path d="M256.3,487.6 C257.3,486.7 261.8,486.4 263.1,487.1 C264.4,487.7 265.1,490.6 264.1,491.5 C263.2,492.3 258.8,492.6 257.5,491.9 C256.2,491.3 255.4,488.4 256.3,487.6Z" fill="#f0e098"/>
<path d="M210.0,516.3 C218.1,513.9 242.5,518.1 258.8,518.8 C275.0,519.4 293.3,519.0 307.5,520.0 C321.7,521.0 332.5,523.3 344.1,524.9 C355.7,526.4 371.5,524.3 377.0,529.5 C382.5,534.7 382.1,552.6 377.0,556.1 C371.9,559.6 355.3,553.0 346.5,550.5 C337.8,547.9 335.1,544.0 324.6,540.7 C314.0,537.5 294.1,532.2 283.1,530.9 C272.2,529.7 266.9,533.2 258.8,533.4 C250.6,533.6 242.5,532.2 234.4,532.2 C226.3,532.2 214.1,536.0 210.0,533.4 C205.9,530.7 201.9,518.8 210.0,516.3Z" fill="#e0f6f4"/>
<path d="M210.0,513.9 L223.7,514.4 L229.5,523.6 L223.7,534.6 L210.0,534.6Z" fill="#ffffff"/>
<path d="M212.9,538.5 C216.5,537.1 228.2,537.4 234.4,537.8 C240.6,538.1 248.0,539.0 250.0,540.7 C252.0,542.4 250.8,546.7 246.6,548.0 C242.3,549.3 230.2,548.8 224.6,548.5 C219.0,548.2 214.9,547.7 212.9,546.1 C211.0,544.4 209.3,539.9 212.9,538.5Z" fill="#e0f6f4"/>
<path d="M319.7,533.4 C323.0,532.4 334.5,534.2 344.1,534.6 C353.6,535.0 371.5,533.6 377.0,535.8 C382.5,538.1 382.1,546.4 377.0,548.0 C371.9,549.6 355.3,546.8 346.5,545.6 C337.8,544.4 329.1,542.7 324.6,540.7 C320.1,538.7 316.5,534.4 319.7,533.4Z" fill="#e0f6f4"/>
<path d="M246.6,567.5 C251.9,563.2 268.1,570.4 278.3,571.2 C288.4,572.0 296.5,572.0 307.5,572.4 C318.5,572.8 332.5,573.2 344.1,573.6 C355.7,574.0 371.5,570.9 377.0,574.8 C382.5,578.7 398.7,593.3 377.0,597.0 C355.3,600.7 268.3,601.9 246.6,597.0 C224.8,592.1 241.3,571.8 246.6,567.5Z" fill="#e0f6f4"/>
<path d="M210.0,563.9 C212.4,562.8 219.8,564.0 224.6,564.6 C229.5,565.2 239.3,566.4 239.3,567.5 C239.3,568.6 229.5,570.6 224.6,571.2 C219.8,571.8 212.4,572.4 210.0,571.2 C207.6,570.0 207.6,565.0 210.0,563.9Z" fill="#e0f6f4"/>
<path d="M226.6,580.2 C228.2,578.3 235.4,578.9 239.3,579.2 C243.2,579.5 248.8,580.2 250.0,582.1 C251.2,584.1 250.0,589.5 246.6,590.9 C243.2,592.3 232.8,592.2 229.5,590.4 C226.2,588.6 225.0,582.1 226.6,580.2Z" fill="#e0f6f4"/>
<path d="M251.4,577.3 C253.1,575.2 260.0,577.3 263.6,578.5 C267.3,579.7 273.0,582.3 273.4,584.6 C273.8,586.8 269.3,590.9 266.1,591.9 C262.8,592.9 256.3,593.1 253.9,590.7 C251.4,588.2 249.8,579.3 251.4,577.3Z" fill="#ffffff"/>
<path d="M210.0,574.3 C210.8,571.9 213.3,573.7 214.9,574.8 C216.5,575.9 219.8,578.7 219.8,580.9 C219.8,583.2 216.5,586.8 214.9,588.2 C213.3,589.7 210.8,591.8 210.0,589.5 C209.2,587.1 209.2,576.8 210.0,574.3Z" fill="#7cc8d8"/>
<path d="M210.0,576.3 C210.5,574.6 212.0,576.0 212.9,576.8 C213.8,577.6 215.4,579.5 215.4,580.9 C215.4,582.4 213.8,584.5 212.9,585.6 C212.0,586.6 210.5,588.6 210.0,587.0 C209.5,585.5 209.5,578.0 210.0,576.3Z" fill="#3333a0"/>
<path d="M283.1,574.8 C286.0,573.0 304.3,573.2 312.4,573.6 C320.5,574.0 329.5,575.4 331.9,577.3 C334.3,579.1 333.1,583.4 327.0,584.6 C320.9,585.8 302.6,586.2 295.3,584.6 C288.0,583.0 280.3,576.7 283.1,574.8Z" fill="#ffffff"/>
<path d="M331.9,577.3 C337.4,575.6 369.5,575.2 377.0,577.3 C384.5,579.3 382.5,587.8 377.0,589.5 C371.5,591.1 351.6,589.1 344.1,587.0 C336.6,585.0 326.4,578.9 331.9,577.3Z" fill="#b0e8ec"/>
</g>
<clipPath id="cpbb6"><rect x="376.7" y="469.7" width="169.89999999999995" height="128.49999999999997"/></clipPath>
<g clip-path="url(#cpbb6)">
<path d="M377.0,470.0 L544.0,470.0 L544.0,597.0 L377.0,597.0Z" fill="#b0e8ec"/>
<path d="M377.0,470.0 L445.3,470.0 L445.3,484.6 L413.6,484.6 L377.0,483.4Z" fill="#e0f6f4"/>
<path d="M377.0,482.2 C383.1,481.2 403.4,484.0 413.6,484.6 C423.7,485.2 432.7,484.2 437.9,485.8 C443.2,487.5 447.3,492.6 445.3,494.4 C443.2,496.2 433.1,497.2 425.8,496.8 C418.4,496.4 409.5,493.0 401.4,491.9 C393.3,490.9 381.1,492.3 377.0,490.7 C372.9,489.1 370.9,483.2 377.0,482.2Z" fill="#ffffff"/>
<path d="M445.3,470.0 C461.7,463.9 527.5,461.9 544.0,470.0 C560.5,478.1 549.1,511.0 544.0,518.8 C538.9,526.5 521.9,516.7 513.5,516.3 C505.2,515.9 499.7,515.5 494.0,516.3 C488.3,517.1 486.7,520.4 479.4,521.2 C472.1,522.0 455.8,523.6 450.1,521.2 C444.5,518.8 446.1,515.1 445.3,506.6 C444.5,498.0 428.8,476.1 445.3,470.0Z" fill="#ffffff"/>
<path d="M377.0,489.5 C379.4,486.3 385.5,488.7 391.6,489.5 C397.7,490.3 407.1,492.3 413.6,494.4 C420.1,496.4 425.4,499.9 430.6,501.7 C435.9,503.5 442.6,501.3 445.3,505.4 C447.9,509.4 448.5,522.8 446.5,526.1 C444.5,529.3 438.6,526.1 433.1,524.9 C427.6,523.6 419.7,520.6 413.6,518.8 C407.5,516.9 402.6,515.5 396.5,513.9 C390.4,512.3 380.3,513.1 377.0,509.0 C373.7,504.9 374.6,492.8 377.0,489.5Z" fill="#f0e098"/>
<path d="M377.0,491.9 C379.4,489.9 385.9,491.1 391.6,491.9 C397.3,492.8 405.0,494.8 411.1,496.8 C417.2,498.8 422.9,502.3 428.2,504.1 C433.5,506.0 440.4,505.4 442.8,507.8 C445.3,510.2 445.3,516.9 442.8,518.8 C440.4,520.6 433.5,519.6 428.2,518.8 C422.9,517.9 417.2,515.7 411.1,513.9 C405.0,512.1 397.3,509.4 391.6,507.8 C385.9,506.2 379.4,506.8 377.0,504.1 C374.6,501.5 374.6,494.0 377.0,491.9Z" fill="#ecb46c"/>
<path d="M416.0,506.6 C418.4,506.0 426.4,506.0 430.6,506.6 C434.9,507.2 440.0,508.6 441.6,510.2 C443.2,511.9 443.0,515.7 440.4,516.3 C437.7,516.9 429.8,514.9 425.8,513.9 C421.7,512.9 417.6,511.4 416.0,510.2 C414.4,509.0 413.6,507.2 416.0,506.6Z" fill="#f08c50"/>
<path d="M455.0,500.5 C457.0,497.4 465.8,499.9 469.6,501.7 C473.5,503.5 477.1,508.2 477.9,511.4 C478.7,514.7 477.9,519.5 474.5,521.0 C471.1,522.4 460.7,523.4 457.5,520.0 C454.2,516.6 453.0,503.5 455.0,500.5Z" fill="#b0e8ec"/>
<path d="M475.0,482.2 C476.6,479.0 486.5,478.5 489.1,481.0 C491.7,483.4 492.2,493.6 490.6,496.8 C489.0,500.0 482.0,502.4 479.4,500.0 C476.8,497.5 473.4,485.4 475.0,482.2Z" fill="#b0e8ec"/>
<path d="M525.7,496.8 C527.3,495.2 534.9,497.2 537.9,496.8 C541.0,496.4 543.0,491.9 544.0,494.4 C545.0,496.8 545.4,508.6 544.0,511.4 C542.6,514.3 538.1,512.3 535.5,511.4 C532.8,510.6 529.8,509.0 528.2,506.6 C526.5,504.1 524.1,498.4 525.7,496.8Z" fill="#f0e098"/>
<path d="M533.0,501.7 C534.0,500.1 542.2,499.1 544.0,500.5 C545.8,501.9 545.0,508.6 544.0,510.2 C543.0,511.9 539.7,511.6 537.9,510.2 C536.1,508.8 532.0,503.3 533.0,501.7Z" fill="#ecb46c"/>
<path d="M503.8,485.1 C507.6,484.8 524.3,486.3 528.2,487.1 C532.0,487.9 530.8,489.7 526.9,490.0 C523.1,490.3 508.9,489.8 505.0,489.0 C501.1,488.2 499.9,485.4 503.8,485.1Z" fill="#f0e098"/>
<path d="M377.0,506.6 C381.1,499.5 393.3,511.0 401.4,513.9 C409.5,516.7 418.0,521.2 425.8,523.6 C433.5,526.1 443.6,528.5 447.7,528.5 C451.8,528.5 444.9,524.9 450.1,523.6 C455.4,522.4 472.1,522.4 479.4,521.2 C486.7,520.0 488.3,517.1 494.0,516.3 C499.7,515.5 505.2,515.9 513.5,516.3 C521.9,516.7 538.9,516.3 544.0,518.8 C549.1,521.2 549.1,529.3 544.0,530.9 C538.9,532.6 521.9,528.1 513.5,528.5 C505.2,528.9 499.3,530.1 494.0,533.4 C488.7,536.6 487.1,544.2 481.8,548.0 C476.5,551.9 471.7,555.1 462.3,556.5 C453.0,558.0 435.9,556.5 425.8,556.5 C415.6,556.5 409.5,556.6 401.4,556.5 C393.3,556.5 381.1,564.4 377.0,556.1 C372.9,547.7 372.9,513.6 377.0,506.6Z" fill="#e0f6f4"/>
<path d="M377.0,506.6 C381.1,504.0 393.3,511.2 401.4,513.9 C409.5,516.5 418.4,520.0 425.8,522.4 C433.1,524.9 440.4,525.9 445.3,528.5 C450.1,531.2 455.0,535.8 455.0,538.3 C455.0,540.7 452.2,542.7 445.3,543.1 C438.4,543.5 422.5,542.1 413.6,540.7 C404.6,539.3 397.7,536.5 391.6,534.6 C385.5,532.7 379.4,534.2 377.0,529.5 C374.6,524.8 372.9,509.2 377.0,506.6Z" fill="#ffffff"/>
<path d="M463.1,511.9 C466.7,509.5 478.3,513.4 486.7,513.9 C495.1,514.4 504.0,514.7 513.5,515.1 C523.1,515.5 538.9,513.7 544.0,516.3 C549.1,519.0 549.1,528.7 544.0,530.9 C538.9,533.2 523.1,530.1 513.5,530.0 C504.0,529.8 494.8,530.2 486.7,530.0 C478.6,529.7 468.7,531.5 464.8,528.5 C460.8,525.5 459.4,514.4 463.1,511.9Z" fill="#b0e8ec"/>
<path d="M377.0,572.4 C380.3,569.3 392.0,572.0 396.5,573.6 C401.0,575.2 403.8,579.1 403.8,582.1 C403.8,585.2 401.0,590.3 396.5,591.9 C392.0,593.5 380.3,595.1 377.0,591.9 C373.7,588.6 373.7,575.4 377.0,572.4Z" fill="#e0f6f4"/>
<path d="M523.3,567.5 C525.9,566.1 540.5,565.1 544.0,566.3 C547.5,567.5 546.6,573.4 544.0,574.8 C541.4,576.3 531.6,576.1 528.2,574.8 C524.7,573.6 520.6,568.9 523.3,567.5Z" fill="#7cc8d8"/>
</g>
<path d="M232.0,470.5 C233.5,469.6 237.8,466.2 240.8,464.9 C243.7,463.6 246.6,463.5 249.5,462.9 C252.4,462.3 255.3,461.9 258.2,461.4 C261.2,461.0 264.1,460.6 267.0,460.3 C269.9,459.9 272.8,459.6 275.8,459.3 C278.7,459.0 281.6,458.8 284.5,458.5 C287.4,458.3 290.3,458.1 293.2,457.9 C296.2,457.7 299.1,457.5 302.0,457.4 C304.9,457.2 307.8,457.1 310.8,457.0 C313.7,456.9 316.6,456.8 319.5,456.7 C322.4,456.6 325.3,456.6 328.2,456.6 C331.2,456.5 334.1,456.5 337.0,456.5 C339.9,456.5 342.8,456.5 345.8,456.6 C348.7,456.6 351.6,456.6 354.5,456.7 C357.4,456.8 360.3,456.9 363.2,457.0 C366.2,457.1 369.1,457.2 372.0,457.4 C374.9,457.5 377.8,457.7 380.8,457.9 C383.7,458.1 386.6,458.3 389.5,458.5 C392.4,458.8 395.3,459.0 398.2,459.3 C401.2,459.6 404.1,459.9 407.0,460.3 C409.9,460.6 412.8,461.0 415.8,461.4 C418.7,461.9 421.6,462.3 424.5,462.9 C427.4,463.5 430.3,463.6 433.2,464.9 C436.2,466.2 440.5,469.6 442.0,470.5 C443.5,471.4 443.5,469.6 442.0,470.5 C440.5,471.4 436.2,474.8 433.2,476.1 C430.3,477.4 427.4,477.5 424.5,478.1 C421.6,478.7 418.7,479.1 415.8,479.6 C412.8,480.0 409.9,480.4 407.0,480.7 C404.1,481.1 401.2,481.4 398.2,481.7 C395.3,482.0 392.4,482.2 389.5,482.5 C386.6,482.7 383.7,482.9 380.8,483.1 C377.8,483.3 374.9,483.5 372.0,483.6 C369.1,483.8 366.2,483.9 363.2,484.0 C360.3,484.1 357.4,484.2 354.5,484.3 C351.6,484.4 348.7,484.4 345.8,484.4 C342.8,484.5 339.9,484.5 337.0,484.5 C334.1,484.5 331.2,484.5 328.2,484.4 C325.3,484.4 322.4,484.4 319.5,484.3 C316.6,484.2 313.7,484.1 310.8,484.0 C307.8,483.9 304.9,483.8 302.0,483.6 C299.1,483.5 296.2,483.3 293.2,483.1 C290.3,482.9 287.4,482.7 284.5,482.5 C281.6,482.2 278.7,482.0 275.8,481.7 C272.8,481.4 269.9,481.1 267.0,480.7 C264.1,480.4 261.2,480.0 258.2,479.6 C255.3,479.1 252.4,478.7 249.5,478.1 C246.6,477.5 243.7,477.4 240.8,476.1 C237.8,474.8 233.5,471.4 232.0,470.5 C230.5,469.6 230.5,471.4 232.0,470.5Z" fill="#b0e8ec"/>
<path d="M242.0,470.5 C243.3,469.8 247.4,467.3 250.1,466.3 C252.8,465.4 255.5,465.1 258.2,464.6 C260.9,464.2 263.6,463.8 266.2,463.4 C268.9,463.0 271.6,462.7 274.3,462.4 C277.0,462.1 279.7,461.8 282.4,461.5 C285.1,461.3 287.8,461.0 290.5,460.8 C293.2,460.6 295.9,460.4 298.6,460.3 C301.3,460.1 304.0,459.9 306.7,459.8 C309.4,459.7 312.1,459.5 314.8,459.4 C317.4,459.3 320.1,459.3 322.8,459.2 C325.5,459.1 328.2,459.1 330.9,459.0 C333.6,459.0 336.3,459.0 339.0,459.0 C341.7,459.0 344.4,459.0 347.1,459.0 C349.8,459.1 352.5,459.1 355.2,459.2 C357.9,459.3 360.6,459.3 363.2,459.4 C365.9,459.5 368.6,459.7 371.3,459.8 C374.0,459.9 376.7,460.1 379.4,460.3 C382.1,460.4 384.8,460.6 387.5,460.8 C390.2,461.0 392.9,461.3 395.6,461.5 C398.3,461.8 401.0,462.1 403.7,462.4 C406.4,462.7 409.1,463.0 411.8,463.4 C414.4,463.8 417.1,464.2 419.8,464.6 C422.5,465.1 425.2,465.4 427.9,466.3 C430.6,467.3 434.7,469.8 436.0,470.5 C437.3,471.2 437.3,469.8 436.0,470.5 C434.7,471.2 430.6,473.7 427.9,474.7 C425.2,475.6 422.5,475.9 419.8,476.4 C417.1,476.8 414.4,477.2 411.8,477.6 C409.1,478.0 406.4,478.3 403.7,478.6 C401.0,478.9 398.3,479.2 395.6,479.5 C392.9,479.7 390.2,480.0 387.5,480.2 C384.8,480.4 382.1,480.6 379.4,480.7 C376.7,480.9 374.0,481.1 371.3,481.2 C368.6,481.3 365.9,481.5 363.2,481.6 C360.6,481.7 357.9,481.7 355.2,481.8 C352.5,481.9 349.8,481.9 347.1,482.0 C344.4,482.0 341.7,482.0 339.0,482.0 C336.3,482.0 333.6,482.0 330.9,482.0 C328.2,481.9 325.5,481.9 322.8,481.8 C320.1,481.7 317.4,481.7 314.8,481.6 C312.1,481.5 309.4,481.3 306.7,481.2 C304.0,481.1 301.3,480.9 298.6,480.7 C295.9,480.6 293.2,480.4 290.5,480.2 C287.8,480.0 285.1,479.7 282.4,479.5 C279.7,479.2 277.0,478.9 274.3,478.6 C271.6,478.3 268.9,478.0 266.2,477.6 C263.6,477.2 260.9,476.8 258.2,476.4 C255.5,475.9 252.8,475.6 250.1,474.7 C247.4,473.7 243.3,471.2 242.0,470.5 C240.7,469.8 240.7,471.2 242.0,470.5Z" fill="#7cc8d8"/>
<path d="M252.0,470.5 C253.2,469.9 256.9,467.9 259.4,467.1 C261.9,466.3 264.4,466.1 266.8,465.7 C269.3,465.3 271.8,464.9 274.2,464.6 C276.7,464.3 279.2,464.0 281.7,463.8 C284.1,463.5 286.6,463.3 289.1,463.1 C291.6,462.9 294.0,462.7 296.5,462.5 C299.0,462.3 301.4,462.2 303.9,462.0 C306.4,461.9 308.9,461.8 311.3,461.7 C313.8,461.5 316.3,461.5 318.8,461.4 C321.2,461.3 323.7,461.2 326.2,461.2 C328.6,461.1 331.1,461.1 333.6,461.0 C336.1,461.0 338.5,461.0 341.0,461.0 C343.5,461.0 345.9,461.0 348.4,461.0 C350.9,461.1 353.4,461.1 355.8,461.2 C358.3,461.2 360.8,461.3 363.2,461.4 C365.7,461.5 368.2,461.5 370.7,461.7 C373.1,461.8 375.6,461.9 378.1,462.0 C380.6,462.2 383.0,462.3 385.5,462.5 C388.0,462.7 390.4,462.9 392.9,463.1 C395.4,463.3 397.9,463.5 400.3,463.8 C402.8,464.0 405.3,464.3 407.8,464.6 C410.2,464.9 412.7,465.3 415.2,465.7 C417.6,466.1 420.1,466.3 422.6,467.1 C425.1,467.9 428.8,469.9 430.0,470.5 C431.2,471.1 431.2,469.9 430.0,470.5 C428.8,471.1 425.1,473.1 422.6,473.9 C420.1,474.7 417.6,474.9 415.2,475.3 C412.7,475.7 410.2,476.1 407.8,476.4 C405.3,476.7 402.8,477.0 400.3,477.2 C397.9,477.5 395.4,477.7 392.9,477.9 C390.4,478.1 388.0,478.3 385.5,478.5 C383.0,478.7 380.6,478.8 378.1,479.0 C375.6,479.1 373.1,479.2 370.7,479.3 C368.2,479.5 365.7,479.5 363.2,479.6 C360.8,479.7 358.3,479.8 355.8,479.8 C353.4,479.9 350.9,479.9 348.4,480.0 C345.9,480.0 343.5,480.0 341.0,480.0 C338.5,480.0 336.1,480.0 333.6,480.0 C331.1,479.9 328.6,479.9 326.2,479.8 C323.7,479.8 321.2,479.7 318.8,479.6 C316.3,479.5 313.8,479.5 311.3,479.3 C308.9,479.2 306.4,479.1 303.9,479.0 C301.4,478.8 299.0,478.7 296.5,478.5 C294.0,478.3 291.6,478.1 289.1,477.9 C286.6,477.7 284.1,477.5 281.7,477.2 C279.2,477.0 276.7,476.7 274.2,476.4 C271.8,476.1 269.3,475.7 266.8,475.3 C264.4,474.9 261.9,474.7 259.4,473.9 C256.9,473.1 253.2,471.1 252.0,470.5 C250.8,469.9 250.8,471.1 252.0,470.5Z" fill="#5aa0c8"/>
<path d="M262.0,470.5 C263.1,470.0 266.5,468.3 268.7,467.6 C270.9,466.9 273.2,466.8 275.4,466.4 C277.7,466.1 279.9,465.8 282.1,465.6 C284.4,465.3 286.6,465.1 288.8,464.8 C291.1,464.6 293.3,464.4 295.5,464.3 C297.8,464.1 300.0,463.9 302.2,463.8 C304.5,463.6 306.7,463.5 309.0,463.4 C311.2,463.3 313.4,463.1 315.7,463.1 C317.9,463.0 320.1,462.9 322.4,462.8 C324.6,462.7 326.8,462.7 329.1,462.6 C331.3,462.6 333.6,462.6 335.8,462.5 C338.0,462.5 340.3,462.5 342.5,462.5 C344.7,462.5 347.0,462.5 349.2,462.5 C351.4,462.6 353.7,462.6 355.9,462.6 C358.2,462.7 360.4,462.7 362.6,462.8 C364.9,462.9 367.1,463.0 369.3,463.1 C371.6,463.1 373.8,463.3 376.0,463.4 C378.3,463.5 380.5,463.6 382.8,463.8 C385.0,463.9 387.2,464.1 389.5,464.3 C391.7,464.4 393.9,464.6 396.2,464.8 C398.4,465.1 400.6,465.3 402.9,465.6 C405.1,465.8 407.3,466.1 409.6,466.4 C411.8,466.8 414.1,466.9 416.3,467.6 C418.5,468.3 421.9,470.0 423.0,470.5 C424.1,471.0 424.1,470.0 423.0,470.5 C421.9,471.0 418.5,472.7 416.3,473.4 C414.1,474.1 411.8,474.2 409.6,474.6 C407.3,474.9 405.1,475.2 402.9,475.4 C400.6,475.7 398.4,475.9 396.2,476.2 C393.9,476.4 391.7,476.6 389.5,476.7 C387.2,476.9 385.0,477.1 382.8,477.2 C380.5,477.4 378.3,477.5 376.0,477.6 C373.8,477.7 371.6,477.9 369.3,477.9 C367.1,478.0 364.9,478.1 362.6,478.2 C360.4,478.3 358.2,478.3 355.9,478.4 C353.7,478.4 351.4,478.4 349.2,478.5 C347.0,478.5 344.7,478.5 342.5,478.5 C340.3,478.5 338.0,478.5 335.8,478.5 C333.6,478.4 331.3,478.4 329.1,478.4 C326.8,478.3 324.6,478.3 322.4,478.2 C320.1,478.1 317.9,478.0 315.7,477.9 C313.4,477.9 311.2,477.7 309.0,477.6 C306.7,477.5 304.5,477.4 302.2,477.2 C300.0,477.1 297.8,476.9 295.5,476.7 C293.3,476.6 291.1,476.4 288.8,476.2 C286.6,475.9 284.4,475.7 282.1,475.4 C279.9,475.2 277.7,474.9 275.4,474.6 C273.2,474.2 270.9,474.1 268.7,473.4 C266.5,472.7 263.1,471.0 262.0,470.5 C260.9,470.0 260.9,471.0 262.0,470.5Z" fill="#3a6eb4"/>
<path d="M276.0,470.5 C276.9,470.1 279.8,468.8 281.7,468.3 C283.6,467.8 285.4,467.7 287.3,467.5 C289.2,467.2 291.1,467.0 293.0,466.9 C294.9,466.7 296.8,466.5 298.7,466.4 C300.6,466.3 302.4,466.1 304.3,466.0 C306.2,465.9 308.1,465.8 310.0,465.7 C311.9,465.6 313.8,465.5 315.7,465.5 C317.6,465.4 319.4,465.3 321.3,465.3 C323.2,465.2 325.1,465.1 327.0,465.1 C328.9,465.1 330.8,465.0 332.7,465.0 C334.6,465.0 336.4,464.9 338.3,464.9 C340.2,464.9 342.1,464.9 344.0,464.9 C345.9,464.9 347.8,464.9 349.7,464.9 C351.6,464.9 353.4,465.0 355.3,465.0 C357.2,465.0 359.1,465.1 361.0,465.1 C362.9,465.1 364.8,465.2 366.7,465.3 C368.6,465.3 370.4,465.4 372.3,465.5 C374.2,465.5 376.1,465.6 378.0,465.7 C379.9,465.8 381.8,465.9 383.7,466.0 C385.6,466.1 387.4,466.3 389.3,466.4 C391.2,466.5 393.1,466.7 395.0,466.9 C396.9,467.0 398.8,467.2 400.7,467.5 C402.6,467.7 404.4,467.8 406.3,468.3 C408.2,468.8 411.1,470.1 412.0,470.5 C412.9,470.9 412.9,470.1 412.0,470.5 C411.1,470.9 408.2,472.2 406.3,472.7 C404.4,473.2 402.6,473.3 400.7,473.5 C398.8,473.8 396.9,474.0 395.0,474.1 C393.1,474.3 391.2,474.5 389.3,474.6 C387.4,474.7 385.6,474.9 383.7,475.0 C381.8,475.1 379.9,475.2 378.0,475.3 C376.1,475.4 374.2,475.5 372.3,475.5 C370.4,475.6 368.6,475.7 366.7,475.7 C364.8,475.8 362.9,475.9 361.0,475.9 C359.1,475.9 357.2,476.0 355.3,476.0 C353.4,476.0 351.6,476.1 349.7,476.1 C347.8,476.1 345.9,476.1 344.0,476.1 C342.1,476.1 340.2,476.1 338.3,476.1 C336.4,476.1 334.6,476.0 332.7,476.0 C330.8,476.0 328.9,475.9 327.0,475.9 C325.1,475.9 323.2,475.8 321.3,475.7 C319.4,475.7 317.6,475.6 315.7,475.5 C313.8,475.5 311.9,475.4 310.0,475.3 C308.1,475.2 306.2,475.1 304.3,475.0 C302.4,474.9 300.6,474.7 298.7,474.6 C296.8,474.5 294.9,474.3 293.0,474.1 C291.1,474.0 289.2,473.8 287.3,473.5 C285.4,473.3 283.6,473.2 281.7,472.7 C279.8,472.2 276.9,470.9 276.0,470.5 C275.1,470.1 275.1,470.9 276.0,470.5Z" fill="#3333a0"/>
<g class="cst" transform="translate(43.4 344.2) scale(1.391389 1.398333)" fill="none" stroke="#000" stroke-width="1.2" stroke-linejoin="round"><path d="M32.5,60.1 32.7,61.0 33.5,62.5 34.5,64.0 35.5,66.0 35.6,67.0 36.8,68.0 37.3,70.5 38.5,72.0 39.5,74.2 40.8,75.5 42.5,77.0 43.3,78.2 44.5,79.5 46.0,79.3 48.0,78.8 50.0,78.5 51.3,78.2 51.0,79.6 50.5,81.0 49.5,83.0 48.5,84.5 47.5,85.8 46.0,87.7 44.0,89.0 42.0,90.8 41.0,92.0 40.0,93.0 39.5,94.5 39.0,96.0 39.3,97.5 39.5,99.0 40.3,100.5 40.5,102.5 40.6,104.5 40.0,106.0 37.5,107.8 36.0,109.0 35.0,110.0 35.3,111.5 35.5,113.5 33.0,115.5 32.7,116.5 32.5,118.3 31.5,119.2 30.5,120.5 29.0,122.3 27.5,123.3 26.0,123.8 24.5,124.1 22.5,124.0 20.0,124.8 18.8,124.3 18.4,123.9 18.0,122.5 17.5,120.5 16.5,118.6 15.3,117.0 14.8,115.0 14.5,112.9 13.5,111.0 12.0,108.5 11.8,107.0 12.2,105.0 12.8,103.0 13.8,101.0 13.3,99.0 12.5,97.0 12.2,96.0 11.8,94.5 10.5,93.0 9.5,91.5 9.0,90.5 9.5,89.0 9.8,87.5 9.6,86.2 8.7,85.5 7.5,85.6 6.0,85.7 5.2,84.5 4.5,83.8 2.5,83.7 1.0,84.0 -1.0,85.0 -2.0,85.2 -4.0,84.8 -6.0,85.2 -7.6,85.6 -9.0,85.0 -10.5,83.8 -11.5,83.0 -12.5,82.5 -13.2,81.5 -13.5,80.5 -14.5,79.5 -15.3,78.8 -16.7,77.6 -16.8,76.5 -17.4,75.3 -16.7,74.5 -16.2,73.0 -16.1,71.5 -16.5,70.5 -17.0,69.0 -16.5,67.5 -16.0,66.3 -15.0,65.2 -14.5,64.0 -13.2,62.5 -11.5,61.8 -10.0,61.0 -9.7,59.5 -9.5,58.0 -8.5,56.8 -7.0,56.1 -6.5,55.5 -6.0,54.4 -5.5,54.1 -4.5,54.8 -3.0,54.7 -2.0,54.9 0.0,54.2 1.5,53.5 3.0,53.2 5.0,53.3 7.0,53.0 8.5,53.1 10.2,52.8 11.0,53.1 10.5,54.0 11.0,54.8 10.3,55.7 10.2,56.3 11.2,56.8 12.5,57.2 15.2,57.7 15.5,58.5 17.5,59.0 19.0,59.7 20.0,59.0 20.0,57.9 21.0,57.2 22.5,57.2 23.5,57.9 25.0,58.4 27.0,58.7 29.0,59.1 30.0,58.7 31.0,58.5 32.3,58.7 33.5,58.9 34.3,58.6 34.7,58.0 35.0,57.2 35.5,56.2 35.9,55.2 35.8,54.2 36.0,53.5 35.5,53.3 34.5,53.2 33.5,53.8 32.5,53.9 31.0,53.2 30.5,53.6 29.5,53.8 28.5,53.3 27.5,53.0 27.2,52.2 26.5,51.7 26.8,51.2 26.5,50.7 26.2,50.1 26.5,49.7 27.5,49.6 29.0,49.1 28.0,49.0 27.0,49.4 26.2,49.4 26.0,49.2 25.0,49.1 24.0,49.2 23.5,49.7 22.6,49.5 22.8,50.5 23.3,50.9 22.9,51.4 24.0,51.8 23.0,52.1 22.8,52.7 23.0,53.5 22.4,53.5 21.7,53.1 21.6,52.4 21.1,51.7 20.8,51.0 20.2,50.4 19.4,49.5 19.5,48.2 18.6,47.6 17.5,47.0 16.0,46.5 15.2,45.8 14.5,44.8 13.6,44.3 12.5,44.5 12.3,45.0 12.4,45.7 13.5,46.4 14.3,47.5 15.2,48.1 16.2,48.2 17.2,49.0 18.5,49.8 18.3,50.1 17.0,49.5 16.6,50.4 17.1,51.0 16.5,51.6 16.0,52.1 15.6,51.8 15.8,51.0 15.6,49.9 14.8,49.4 14.0,49.1 13.0,48.7 12.0,48.1 11.2,47.5 10.5,47.0 10.2,46.1 9.5,45.8 8.7,45.6 7.8,46.1 7.0,46.5 6.0,46.9 5.0,46.6 4.0,46.5 3.2,46.8 3.1,47.5 3.2,48.1 2.0,48.8 0.8,49.3 0.0,50.2 -0.3,50.7 0.2,51.2 -0.5,51.8 -0.9,52.4 -1.8,53.0 -2.5,53.3 -4.4,53.3 -5.3,53.8 -6.0,53.6 -6.4,53.1 -7.4,52.8 -8.9,53.0 -8.8,52.0 -9.4,51.2 -9.0,50.2 -8.8,49.2 -8.8,48.0 -9.2,47.2 -8.8,46.5 -8.0,46.3 -6.0,46.4 -4.0,46.6 -2.0,46.6 -1.5,46.4 -1.2,45.5 -1.2,44.2 -1.8,43.5 -2.3,42.8 -3.0,42.5 -4.3,42.2 -4.7,41.6 -3.5,41.2 -2.5,41.4 -1.6,41.3 -1.4,40.4 -0.2,40.7 0.2,40.3 1.5,39.9 1.6,39.1 2.5,38.9 3.5,38.6 4.2,38.0 4.7,37.1 5.5,36.6 7.0,36.5 8.0,36.4 8.7,36.0 8.6,35.0 8.1,34.4 8.2,33.4 8.6,32.9 9.6,32.6 10.6,32.3 10.4,32.8 10.3,33.5 10.9,33.7 10.2,34.2 9.8,35.0 10.0,35.5 11.0,36.0 12.3,35.7 13.5,35.7 14.3,36.1 16.0,35.7 18.0,35.2 19.0,35.6 20.0,35.3 21.2,34.7 21.1,33.7 21.5,32.7 22.5,32.3 23.6,33.0 24.3,32.8 24.4,31.7 23.5,31.4 23.5,30.8 25.5,30.5 28.0,30.5 30.0,30.1 29.0,29.8 27.0,29.5 25.0,29.8 22.9,30.1 21.5,29.2 21.5,28.3 21.2,27.3 22.3,26.5 23.5,26.0 24.5,25.2 25.4,24.9 25.0,24.4 24.2,24.2 22.5,24.2 21.4,25.1 21.2,25.8 20.0,26.3 18.8,26.7 18.0,27.4 17.4,28.3 17.2,29.0 17.4,29.4 18.6,29.9 18.4,30.7 16.8,31.3 16.5,32.5 16.1,33.6 14.7,33.8 14.2,34.6 12.9,34.6 12.6,33.8 11.9,32.6 11.2,31.6 10.5,30.7 10.3,31.0 9.5,31.1 8.0,31.9 6.5,31.9 5.6,31.5 5.3,30.7 5.0,29.8 4.9,28.9 5.2,28.0 5.5,27.5 6.5,27.3 8.0,26.7 9.5,26.4 10.5,25.5 11.6,24.8 12.4,23.8 13.5,22.9 14.7,22.2 15.5,21.5 16.5,21.1 18.0,20.4 19.5,20.0 21.0,19.7 23.0,19.4 24.5,19.0 26.0,19.0 28.0,19.1 30.0,19.6 31.0,20.0 32.5,20.2 34.0,20.6 36.0,20.9 38.0,21.4 40.0,22.1 41.0,22.7 41.1,23.2 40.2,23.7 38.5,24.0 36.5,23.7 34.8,23.4 33.5,23.3 33.0,23.8 34.5,24.6 34.8,25.4 36.2,25.8 37.5,26.1 38.0,25.5 37.2,25.0 38.5,25.0 40.0,25.4 40.5,25.0 39.8,24.4 41.5,23.9 42.5,23.6 44.0,23.9 44.3,23.2 43.8,22.4 44.2,21.7 46.0,21.7 46.5,22.2 45.4,22.4 47.0,22.7 48.5,22.3 51.0,21.7 53.5,21.3 54.5,21.7 56.5,21.4 58.5,21.1 59.5,21.6 60.5,21.1 60.5,20.2 62.5,20.3 64.5,20.7 66.5,21.0 67.0,21.5 68.5,21.8 69.0,21.1 68.2,20.5 67.0,20.2 66.9,19.2 68.5,18.2 69.3,17.1 71.5,17.1 72.8,17.8 72.5,19.0 71.8,20.0 73.0,20.6 72.5,21.5 73.5,22.2 72.5,23.0 71.0,23.5 72.5,23.7 74.0,23.0 74.8,22.0 74.5,21.2 73.5,20.8 73.7,19.5 74.3,19.0 73.0,18.5 74.5,17.8 75.2,17.4 75.5,18.5 76.5,18.9 78.0,18.8 76.5,18.0 78.5,17.6 80.5,17.9 80.8,16.4 82.0,16.3 85.0,16.1 86.8,16.3 86.0,15.5 87.2,14.9 89.0,14.5 92.0,14.1 95.0,13.9 97.0,14.0 98.5,13.6 101.0,13.1 103.0,12.5 104.3,12.3 106.0,12.6 107.3,13.5 109.0,13.3 111.0,13.3 113.0,13.8 113.5,14.4 112.5,15.0 110.5,15.6 109.5,16.0 111.0,16.3 113.0,16.2 115.0,16.3 118.0,16.4 120.0,17.0 123.5,17.0 124.0,16.3 126.0,16.5 127.0,16.5 128.5,17.0 129.0,17.5 128.5,18.2 130.0,19.0 131.5,19.1 132.5,18.1 134.0,18.5 136.0,18.4 138.0,18.4 139.5,17.6 141.0,17.3 142.5,17.3 145.0,17.6 148.0,17.7 150.0,18.3 152.5,19.1 155.0,19.0 158.0,19.1 159.8,19.5 160.0,20.3 162.0,20.4 164.0,20.3 166.0,20.5 168.0,20.2 169.5,21.3 170.5,20.1 172.5,20.2 175.0,20.3 177.5,20.6 180.0,21.1 182.0,21.6 184.0,22.2 186.0,22.9 188.0,23.3 189.5,23.4 190.3,24.0 189.0,24.5 187.0,24.6 186.5,25.4 187.5,25.7 185.5,25.6 183.5,25.0 182.0,25.2 180.5,25.5 178.5,25.4 177.3,25.2 176.0,25.3 178.5,26.5 179.3,27.1 177.5,27.5 174.5,28.2 173.0,28.8 171.5,29.6 170.3,30.1 168.5,29.5 166.5,29.8 165.0,30.2 163.5,30.4 163.0,31.0 162.0,31.9 162.5,32.5 163.2,33.5 162.5,34.0 161.8,34.7 160.5,35.7 159.8,36.8 158.5,37.2 158.0,38.0 156.7,39.0 156.4,38.0 156.0,36.5 155.6,35.0 155.8,33.5 156.8,32.5 158.0,32.0 159.5,31.0 161.0,29.7 163.0,28.8 164.0,27.7 162.5,27.5 160.5,28.3 159.0,28.2 157.5,28.4 156.0,28.8 154.5,30.5 153.0,30.9 151.5,30.8 150.0,30.4 148.5,30.7 146.5,30.7 144.5,30.6 142.5,30.8 140.5,32.0 139.0,32.5 137.5,33.5 136.0,34.8 137.0,35.8 138.5,36.0 139.5,35.8 141.3,36.7 141.0,37.5 140.5,39.0 140.5,40.0 140.2,41.5 138.6,43.0 137.5,44.2 136.0,45.5 135.0,46.3 133.0,47.2 132.0,46.8 131.2,47.4 130.7,47.7 130.0,48.5 129.5,49.2 128.5,50.0 127.5,50.5 128.3,51.3 129.2,52.5 129.5,54.0 129.2,54.8 128.5,55.0 127.5,55.3 126.5,55.6 126.3,54.9 126.6,54.1 126.7,53.1 126.2,52.3 125.3,52.3 125.0,51.5 125.3,50.6 124.7,50.2 123.5,50.2 122.3,50.6 121.2,51.2 121.6,50.5 121.5,49.8 122.3,49.4 121.2,49.1 120.0,49.7 119.3,50.6 118.2,51.0 117.7,51.5 118.5,52.2 119.0,52.8 120.0,52.6 121.0,52.3 122.5,52.6 122.4,53.1 121.0,53.4 120.2,54.0 119.3,55.0 120.3,55.7 120.8,57.0 121.5,57.9 121.9,59.0 121.5,59.5 121.9,60.2 121.6,61.2 120.9,62.1 120.2,63.0 119.6,64.0 119.0,64.8 118.2,65.5 117.2,66.4 116.2,67.1 115.0,67.3 114.2,67.7 113.5,67.5 112.8,68.1 111.5,68.5 110.5,68.8 110.1,69.7 109.7,68.5 108.5,68.3 107.5,68.6 106.7,69.4 105.9,70.4 105.6,71.5 106.5,72.6 107.5,73.7 108.3,74.3 108.9,75.0 109.2,76.5 109.2,78.0 108.7,78.9 107.5,79.5 106.7,79.7 106.3,80.5 105.0,81.4 104.8,80.5 104.9,79.7 104.3,79.5 103.5,79.4 102.7,78.2 102.2,77.7 101.3,77.3 100.9,76.5 100.0,76.6 99.9,77.8 99.2,79.0 99.2,80.2 99.9,80.8 100.3,81.7 100.6,82.8 101.3,83.1 102.2,83.8 103.0,84.5 103.4,85.2 103.5,86.2 103.9,87.5 104.3,88.6 103.5,88.7 102.8,88.1 101.4,87.2 100.7,86.2 100.4,85.0 100.3,84.0 99.7,83.2 99.2,82.5 98.5,81.9 98.3,81.0 98.6,79.8 98.7,78.4 98.5,77.0 97.8,75.5 97.6,73.7 97.0,73.1 96.2,73.4 95.4,74.2 94.6,74.0 94.4,72.5 94.0,71.2 93.5,70.5 92.7,69.4 92.2,68.7 91.8,67.7 91.0,67.3 90.5,67.8 89.5,68.1 88.8,68.4 88.2,68.3 87.0,68.6 86.5,69.8 85.2,70.6 84.0,71.7 82.4,72.9 81.3,73.7 80.3,74.5 80.2,76.5 80.0,77.8 79.8,78.8 79.4,79.7 78.9,80.6 78.2,81.1 77.5,81.9 76.6,81.1 76.2,80.0 75.7,78.6 74.9,77.2 74.5,76.0 73.8,74.4 73.2,73.0 72.9,71.5 72.8,70.0 72.6,68.7 72.3,67.8 71.5,69.0 70.5,69.1 69.2,67.8 70.0,67.1 68.8,66.8 68.4,66.1 67.3,65.5 66.6,64.6 64.5,64.8 62.0,64.9 59.5,64.5 57.5,64.2 57.0,63.1 56.3,62.8 55.0,63.2 53.5,63.3 52.0,62.2 50.8,61.1 50.2,59.9 49.0,59.6 48.0,60.0 48.0,61.0 48.5,61.7 49.5,62.9 50.1,63.4 50.2,64.4 50.9,65.3 51.3,65.0 51.6,64.2 51.5,64.8 51.6,65.6 52.5,65.8 54.0,65.9 55.5,64.6 56.3,63.7 56.4,65.1 57.4,66.1 58.5,66.4 59.8,67.5 59.2,68.5 58.5,69.5 57.8,70.3 57.7,71.1 56.5,72.0 55.3,72.7 54.0,73.1 52.2,74.3 49.6,75.4 48.0,76.0 46.0,76.6 45.0,77.2 43.5,77.3 43.2,76.7 42.8,75.4 42.6,74.3 42.8,73.5 42.4,72.5 41.2,71.0 40.0,69.5 39.1,68.3 39.0,67.4 38.3,66.0 37.5,65.3 37.2,64.8 36.6,64.0 36.0,63.0 35.1,61.9 34.9,60.5 34.6,61.3 34.2,62.2 33.5,61.7 32.6,60.1Z"/><path d="M392.5,60.1 392.7,61.0 393.5,62.5 394.5,64.0 395.5,66.0 395.6,67.0 396.8,68.0 397.3,70.5 398.5,72.0 399.5,74.2 400.8,75.5 402.5,77.0 403.3,78.2 404.5,79.5 406.0,79.3 408.0,78.8 410.0,78.5 411.3,78.2 411.0,79.6 410.5,81.0 409.5,83.0 408.5,84.5 407.5,85.8 406.0,87.7 404.0,89.0 402.0,90.8 401.0,92.0 400.0,93.0 399.5,94.5 399.0,96.0 399.3,97.5 399.5,99.0 400.3,100.5 400.5,102.5 400.6,104.5 400.0,106.0 397.5,107.8 396.0,109.0 395.0,110.0 395.3,111.5 395.5,113.5 393.0,115.5 392.7,116.5 392.5,118.3 391.5,119.2 390.5,120.5 389.0,122.3 387.5,123.3 386.0,123.8 384.5,124.1 382.5,124.0 380.0,124.8 378.8,124.3 378.4,123.9 378.0,122.5 377.5,120.5 376.5,118.6 375.3,117.0 374.8,115.0 374.5,112.9 373.5,111.0 372.0,108.5 371.8,107.0 372.2,105.0 372.8,103.0 373.8,101.0 373.3,99.0 372.5,97.0 372.2,96.0 371.8,94.5 370.5,93.0 369.5,91.5 369.0,90.5 369.5,89.0 369.8,87.5 369.6,86.2 368.7,85.5 367.5,85.6 366.0,85.7 365.2,84.5 364.5,83.8 362.5,83.7 361.0,84.0 359.0,85.0 358.0,85.2 356.0,84.8 354.0,85.2 352.4,85.6 351.0,85.0 349.5,83.8 348.5,83.0 347.5,82.5 346.8,81.5 346.5,80.5 345.5,79.5 344.7,78.8 343.3,77.6 343.2,76.5 342.6,75.3 343.3,74.5 343.8,73.0 343.9,71.5 343.5,70.5 343.0,69.0 343.5,67.5 344.0,66.3 345.0,65.2 345.5,64.0 346.8,62.5 348.5,61.8 350.0,61.0 350.3,59.5 350.5,58.0 351.5,56.8 353.0,56.1 353.5,55.5 354.0,54.4 354.5,54.1 355.5,54.8 357.0,54.7 358.0,54.9 360.0,54.2 361.5,53.5 363.0,53.2 365.0,53.3 367.0,53.0 368.5,53.1 370.2,52.8 371.0,53.1 370.5,54.0 371.0,54.8 370.3,55.7 370.2,56.3 371.2,56.8 372.5,57.2 375.2,57.7 375.5,58.5 377.5,59.0 379.0,59.7 380.0,59.0 380.0,57.9 381.0,57.2 382.5,57.2 383.5,57.9 385.0,58.4 387.0,58.7 389.0,59.1 390.0,58.7 391.0,58.5 392.3,58.7 393.5,58.9 394.3,58.6 394.7,58.0 395.0,57.2 395.5,56.2 395.9,55.2 395.8,54.2 396.0,53.5 395.5,53.3 394.5,53.2 393.5,53.8 392.5,53.9 391.0,53.2 390.5,53.6 389.5,53.8 388.5,53.3 387.5,53.0 387.2,52.2 386.5,51.7 386.8,51.2 386.5,50.7 386.2,50.1 386.5,49.7 387.5,49.6 389.0,49.1 388.0,49.0 387.0,49.4 386.2,49.4 386.0,49.2 385.0,49.1 384.0,49.2 383.5,49.7 382.6,49.5 382.8,50.5 383.3,50.9 382.9,51.4 384.0,51.8 383.0,52.1 382.8,52.7 383.0,53.5 382.4,53.5 381.7,53.1 381.6,52.4 381.1,51.7 380.8,51.0 380.2,50.4 379.4,49.5 379.5,48.2 378.6,47.6 377.5,47.0 376.0,46.5 375.2,45.8 374.5,44.8 373.6,44.3 372.5,44.5 372.3,45.0 372.4,45.7 373.5,46.4 374.3,47.5 375.2,48.1 376.2,48.2 377.2,49.0 378.5,49.8 378.3,50.1 377.0,49.5 376.6,50.4 377.1,51.0 376.5,51.6 376.0,52.1 375.6,51.8 375.8,51.0 375.6,49.9 374.8,49.4 374.0,49.1 373.0,48.7 372.0,48.1 371.2,47.5 370.5,47.0 370.2,46.1 369.5,45.8 368.7,45.6 367.8,46.1 367.0,46.5 366.0,46.9 365.0,46.6 364.0,46.5 363.2,46.8 363.1,47.5 363.2,48.1 362.0,48.8 360.8,49.3 360.0,50.2 359.7,50.7 360.2,51.2 359.5,51.8 359.1,52.4 358.2,53.0 357.5,53.3 355.6,53.3 354.7,53.8 354.0,53.6 353.6,53.1 352.6,52.8 351.1,53.0 351.2,52.0 350.6,51.2 351.0,50.2 351.2,49.2 351.2,48.0 350.8,47.2 351.2,46.5 352.0,46.3 354.0,46.4 356.0,46.6 358.0,46.6 358.5,46.4 358.8,45.5 358.8,44.2 358.2,43.5 357.7,42.8 357.0,42.5 355.7,42.2 355.3,41.6 356.5,41.2 357.5,41.4 358.4,41.3 358.6,40.4 359.8,40.7 360.2,40.3 361.5,39.9 361.6,39.1 362.5,38.9 363.5,38.6 364.2,38.0 364.7,37.1 365.5,36.6 367.0,36.5 368.0,36.4 368.7,36.0 368.6,35.0 368.1,34.4 368.2,33.4 368.6,32.9 369.6,32.6 370.6,32.3 370.4,32.8 370.3,33.5 370.9,33.7 370.2,34.2 369.8,35.0 370.0,35.5 371.0,36.0 372.3,35.7 373.5,35.7 374.3,36.1 376.0,35.7 378.0,35.2 379.0,35.6 380.0,35.3 381.2,34.7 381.1,33.7 381.5,32.7 382.5,32.3 383.6,33.0 384.3,32.8 384.4,31.7 383.5,31.4 383.5,30.8 385.5,30.5 388.0,30.5 390.0,30.1 389.0,29.8 387.0,29.5 385.0,29.8 382.9,30.1 381.5,29.2 381.5,28.3 381.2,27.3 382.3,26.5 383.5,26.0 384.5,25.2 385.4,24.9 385.0,24.4 384.2,24.2 382.5,24.2 381.4,25.1 381.2,25.8 380.0,26.3 378.8,26.7 378.0,27.4 377.4,28.3 377.2,29.0 377.4,29.4 378.6,29.9 378.4,30.7 376.8,31.3 376.5,32.5 376.1,33.6 374.7,33.8 374.2,34.6 372.9,34.6 372.6,33.8 371.9,32.6 371.2,31.6 370.5,30.7 370.3,31.0 369.5,31.1 368.0,31.9 366.5,31.9 365.6,31.5 365.3,30.7 365.0,29.8 364.9,28.9 365.2,28.0 365.5,27.5 366.5,27.3 368.0,26.7 369.5,26.4 370.5,25.5 371.6,24.8 372.4,23.8 373.5,22.9 374.7,22.2 375.5,21.5 376.5,21.1 378.0,20.4 379.5,20.0 381.0,19.7 383.0,19.4 384.5,19.0 386.0,19.0 388.0,19.1 390.0,19.6 391.0,20.0 392.5,20.2 394.0,20.6 396.0,20.9 398.0,21.4 400.0,22.1 401.0,22.7 401.1,23.2 400.2,23.7 398.5,24.0 396.5,23.7 394.8,23.4 393.5,23.3 393.0,23.8 394.5,24.6 394.8,25.4 396.2,25.8 397.5,26.1 398.0,25.5 397.2,25.0 398.5,25.0 400.0,25.4 400.5,25.0 399.8,24.4 401.5,23.9 402.5,23.6 404.0,23.9 404.3,23.2 403.8,22.4 404.2,21.7 406.0,21.7 406.5,22.2 405.4,22.4 407.0,22.7 408.5,22.3 411.0,21.7 413.5,21.3 414.5,21.7 416.5,21.4 418.5,21.1 419.5,21.6 420.5,21.1 420.5,20.2 422.5,20.3 424.5,20.7 426.5,21.0 427.0,21.5 428.5,21.8 429.0,21.1 428.2,20.5 427.0,20.2 426.9,19.2 428.5,18.2 429.3,17.1 431.5,17.1 432.8,17.8 432.5,19.0 431.8,20.0 433.0,20.6 432.5,21.5 433.5,22.2 432.5,23.0 431.0,23.5 432.5,23.7 434.0,23.0 434.8,22.0 434.5,21.2 433.5,20.8 433.7,19.5 434.3,19.0 433.0,18.5 434.5,17.8 435.2,17.4 435.5,18.5 436.5,18.9 438.0,18.8 436.5,18.0 438.5,17.6 440.5,17.9 440.8,16.4 442.0,16.3 445.0,16.1 446.8,16.3 446.0,15.5 447.2,14.9 449.0,14.5 452.0,14.1 455.0,13.9 457.0,14.0 458.5,13.6 461.0,13.1 463.0,12.5 464.3,12.3 466.0,12.6 467.3,13.5 469.0,13.3 471.0,13.3 473.0,13.8 473.5,14.4 472.5,15.0 470.5,15.6 469.5,16.0 471.0,16.3 473.0,16.2 475.0,16.3 478.0,16.4 480.0,17.0 483.5,17.0 484.0,16.3 486.0,16.5 487.0,16.5 488.5,17.0 489.0,17.5 488.5,18.2 490.0,19.0 491.5,19.1 492.5,18.1 494.0,18.5 496.0,18.4 498.0,18.4 499.5,17.6 501.0,17.3 502.5,17.3 505.0,17.6 508.0,17.7 510.0,18.3 512.5,19.1 515.0,19.0 518.0,19.1 519.8,19.5 520.0,20.3 522.0,20.4 524.0,20.3 526.0,20.5 528.0,20.2 529.5,21.3 530.5,20.1 532.5,20.2 535.0,20.3 537.5,20.6 540.0,21.1 542.0,21.6 544.0,22.2 546.0,22.9 548.0,23.3 549.5,23.4 550.3,24.0 549.0,24.5 547.0,24.6 546.5,25.4 547.5,25.7 545.5,25.6 543.5,25.0 542.0,25.2 540.5,25.5 538.5,25.4 537.3,25.2 536.0,25.3 538.5,26.5 539.3,27.1 537.5,27.5 534.5,28.2 533.0,28.8 531.5,29.6 530.3,30.1 528.5,29.5 526.5,29.8 525.0,30.2 523.5,30.4 523.0,31.0 522.0,31.9 522.5,32.5 523.2,33.5 522.5,34.0 521.8,34.7 520.5,35.7 519.8,36.8 518.5,37.2 518.0,38.0 516.7,39.0 516.4,38.0 516.0,36.5 515.6,35.0 515.8,33.5 516.8,32.5 518.0,32.0 519.5,31.0 521.0,29.7 523.0,28.8 524.0,27.7 522.5,27.5 520.5,28.3 519.0,28.2 517.5,28.4 516.0,28.8 514.5,30.5 513.0,30.9 511.5,30.8 510.0,30.4 508.5,30.7 506.5,30.7 504.5,30.6 502.5,30.8 500.5,32.0 499.0,32.5 497.5,33.5 496.0,34.8 497.0,35.8 498.5,36.0 499.5,35.8 501.3,36.7 501.0,37.5 500.5,39.0 500.5,40.0 500.2,41.5 498.6,43.0 497.5,44.2 496.0,45.5 495.0,46.3 493.0,47.2 492.0,46.8 491.2,47.4 490.7,47.7 490.0,48.5 489.5,49.2 488.5,50.0 487.5,50.5 488.3,51.3 489.2,52.5 489.5,54.0 489.2,54.8 488.5,55.0 487.5,55.3 486.5,55.6 486.3,54.9 486.6,54.1 486.7,53.1 486.2,52.3 485.3,52.3 485.0,51.5 485.3,50.6 484.7,50.2 483.5,50.2 482.3,50.6 481.2,51.2 481.6,50.5 481.5,49.8 482.3,49.4 481.2,49.1 480.0,49.7 479.3,50.6 478.2,51.0 477.7,51.5 478.5,52.2 479.0,52.8 480.0,52.6 481.0,52.3 482.5,52.6 482.4,53.1 481.0,53.4 480.2,54.0 479.3,55.0 480.3,55.7 480.8,57.0 481.5,57.9 481.9,59.0 481.5,59.5 481.9,60.2 481.6,61.2 480.9,62.1 480.2,63.0 479.6,64.0 479.0,64.8 478.2,65.5 477.2,66.4 476.2,67.1 475.0,67.3 474.2,67.7 473.5,67.5 472.8,68.1 471.5,68.5 470.5,68.8 470.1,69.7 469.7,68.5 468.5,68.3 467.5,68.6 466.7,69.4 465.9,70.4 465.6,71.5 466.5,72.6 467.5,73.7 468.3,74.3 468.9,75.0 469.2,76.5 469.2,78.0 468.7,78.9 467.5,79.5 466.7,79.7 466.3,80.5 465.0,81.4 464.8,80.5 464.9,79.7 464.3,79.5 463.5,79.4 462.7,78.2 462.2,77.7 461.3,77.3 460.9,76.5 460.0,76.6 459.9,77.8 459.2,79.0 459.2,80.2 459.9,80.8 460.3,81.7 460.6,82.8 461.3,83.1 462.2,83.8 463.0,84.5 463.4,85.2 463.5,86.2 463.9,87.5 464.3,88.6 463.5,88.7 462.8,88.1 461.4,87.2 460.7,86.2 460.4,85.0 460.3,84.0 459.7,83.2 459.2,82.5 458.5,81.9 458.3,81.0 458.6,79.8 458.7,78.4 458.5,77.0 457.8,75.5 457.6,73.7 457.0,73.1 456.2,73.4 455.4,74.2 454.6,74.0 454.4,72.5 454.0,71.2 453.5,70.5 452.7,69.4 452.2,68.7 451.8,67.7 451.0,67.3 450.5,67.8 449.5,68.1 448.8,68.4 448.2,68.3 447.0,68.6 446.5,69.8 445.2,70.6 444.0,71.7 442.4,72.9 441.3,73.7 440.3,74.5 440.2,76.5 440.0,77.8 439.8,78.8 439.4,79.7 438.9,80.6 438.2,81.1 437.5,81.9 436.6,81.1 436.2,80.0 435.7,78.6 434.9,77.2 434.5,76.0 433.8,74.4 433.2,73.0 432.9,71.5 432.8,70.0 432.6,68.7 432.3,67.8 431.5,69.0 430.5,69.1 429.2,67.8 430.0,67.1 428.8,66.8 428.4,66.1 427.3,65.5 426.6,64.6 424.5,64.8 422.0,64.9 419.5,64.5 417.5,64.2 417.0,63.1 416.3,62.8 415.0,63.2 413.5,63.3 412.0,62.2 410.8,61.1 410.2,59.9 409.0,59.6 408.0,60.0 408.0,61.0 408.5,61.7 409.5,62.9 410.1,63.4 410.2,64.4 410.9,65.3 411.3,65.0 411.6,64.2 411.5,64.8 411.6,65.6 412.5,65.8 414.0,65.9 415.5,64.6 416.3,63.7 416.4,65.1 417.4,66.1 418.5,66.4 419.8,67.5 419.2,68.5 418.5,69.5 417.8,70.3 417.7,71.1 416.5,72.0 415.3,72.7 414.0,73.1 412.2,74.3 409.6,75.4 408.0,76.0 406.0,76.6 405.0,77.2 403.5,77.3 403.2,76.7 402.8,75.4 402.6,74.3 402.8,73.5 402.4,72.5 401.2,71.0 400.0,69.5 399.1,68.3 399.0,67.4 398.3,66.0 397.5,65.3 397.2,64.8 396.6,64.0 396.0,63.0 395.1,61.9 394.9,60.5 394.6,61.3 394.2,62.2 393.5,61.7 392.6,60.1Z"/><path d="M192.0,24.4 194.0,23.7 196.5,23.4 198.0,23.9 199.0,23.5 197.5,23.0 196.0,22.2 194.0,21.7 195.5,21.1 197.0,20.5 198.0,19.7 200.0,19.2 203.0,18.8 205.0,19.0 208.0,19.2 211.0,19.5 214.0,19.9 217.0,19.9 220.0,20.4 223.0,21.0 225.0,20.6 228.0,20.4 231.0,20.0 233.0,20.4 235.0,20.6 237.0,20.5 239.0,20.2 242.0,21.0 245.0,21.2 247.0,22.0 250.0,22.0 252.0,21.5 254.0,21.2 256.0,22.0 258.0,22.2 262.0,22.2 264.0,22.5 265.0,22.0 266.0,20.8 264.5,18.5 266.5,19.0 268.0,20.0 270.0,21.0 272.0,22.0 274.0,23.0 275.0,20.5 278.0,20.5 279.0,22.0 278.0,23.0 277.0,24.0 274.0,23.5 272.5,25.5 270.0,26.0 267.0,28.0 265.5,30.0 265.8,31.3 267.5,33.0 270.0,33.0 272.0,34.0 275.0,34.7 277.7,35.0 278.0,37.0 279.5,38.5 280.7,38.5 281.0,37.0 280.5,35.5 283.0,34.5 283.5,33.0 282.5,31.5 282.5,30.0 282.0,27.7 285.0,27.7 288.0,28.2 290.0,29.0 290.5,31.0 292.0,31.5 293.0,31.6 294.5,30.5 295.5,29.7 298.0,32.5 298.5,34.0 300.0,35.0 302.0,35.5 304.0,36.5 304.3,37.9 303.0,38.6 301.0,39.7 299.0,39.8 296.0,39.7 293.5,39.8 291.0,41.5 289.2,43.0 292.0,41.2 295.0,40.8 295.8,41.5 294.8,42.0 295.2,43.0 296.0,43.8 298.0,44.2 299.0,44.7 300.0,44.0 298.5,45.0 296.5,45.5 294.5,46.5 294.0,45.5 295.5,44.7 294.0,44.8 293.0,45.2 291.5,45.8 290.0,46.3 289.2,47.2 289.5,48.2 290.0,48.3 289.0,48.5 287.5,48.8 286.0,49.3 286.0,50.3 285.1,51.1 284.9,51.7 284.1,52.7 283.7,53.0 284.0,54.0 284.5,54.8 283.5,55.4 282.1,56.1 281.0,56.7 280.0,57.5 279.0,58.5 278.6,60.0 279.4,61.5 280.0,63.2 279.7,64.7 279.0,64.8 278.2,63.8 277.3,62.5 277.2,61.2 276.3,60.1 275.0,60.3 273.5,59.6 272.0,59.5 270.5,59.8 270.7,60.9 269.5,60.9 268.0,60.4 266.2,60.3 265.0,60.8 263.5,61.7 262.7,62.5 262.6,64.0 262.3,65.5 262.3,67.5 262.7,69.0 263.7,70.5 265.0,71.4 265.5,71.8 267.5,71.4 268.7,71.4 269.5,70.5 269.6,69.0 272.0,68.5 273.2,68.7 272.5,70.5 272.0,71.5 271.7,73.0 271.2,74.2 272.5,74.2 274.0,74.0 276.0,74.2 276.7,75.0 276.5,76.5 276.4,78.0 276.2,79.0 277.0,80.0 278.0,81.0 279.0,81.2 280.5,80.5 282.0,81.2 282.7,81.5 283.5,81.5 284.3,80.6 284.7,79.3 285.7,78.9 287.0,78.7 288.2,77.7 289.0,78.5 288.5,79.1 288.7,77.7 289.5,78.2 290.0,77.8 291.0,78.5 292.0,79.4 294.0,79.4 296.0,79.4 297.5,79.4 298.1,80.0 299.2,81.5 300.2,81.8 301.5,83.0 302.8,84.0 305.0,84.1 307.0,84.5 308.3,85.8 309.0,86.5 310.0,88.2 310.1,89.0 309.5,90.0 309.0,90.5 311.0,91.0 311.5,91.5 313.0,90.7 315.0,91.5 316.0,92.5 318.0,92.8 320.0,92.9 321.5,93.7 323.0,94.9 324.5,95.2 325.0,97.0 325.2,98.5 324.5,99.8 323.0,101.0 322.0,102.7 321.0,104.0 321.0,106.5 320.5,108.0 320.0,109.5 319.2,111.5 318.0,113.0 315.5,113.2 313.5,114.0 312.0,115.5 311.4,117.5 311.0,118.7 309.5,120.5 308.2,121.8 307.5,123.0 306.5,124.0 305.2,124.9 303.5,124.8 301.5,124.3 302.5,125.5 303.2,126.5 302.2,128.2 300.5,128.8 298.0,128.9 297.7,130.5 295.5,130.8 295.0,132.0 296.2,132.5 295.0,133.0 294.7,134.5 292.5,136.0 294.0,137.5 292.0,140.0 291.0,141.0 291.5,142.3 290.0,142.7 289.0,143.8 287.5,143.5 286.0,142.0 285.0,140.0 284.5,138.0 285.5,136.5 286.0,135.0 287.0,133.5 286.5,132.0 286.3,130.0 286.5,128.0 287.4,125.5 288.5,123.0 288.5,120.0 288.7,118.0 289.5,115.5 289.6,113.5 289.8,111.0 289.7,108.5 288.5,107.5 286.7,106.3 285.0,105.3 283.7,103.8 283.0,102.2 282.0,100.5 280.7,98.0 280.0,97.0 278.8,96.0 279.0,94.5 279.7,93.5 280.2,92.5 279.2,91.5 280.0,90.0 280.0,89.0 281.0,88.5 281.5,87.5 282.5,86.5 282.7,85.5 282.5,83.5 282.0,82.5 281.5,81.8 280.5,81.1 279.5,82.0 278.5,82.0 277.5,81.8 276.5,81.5 275.2,80.2 274.3,79.2 273.5,78.0 272.5,77.0 271.5,76.8 270.0,76.2 268.5,75.8 267.5,75.2 266.0,74.0 264.5,74.2 263.5,74.3 262.0,73.8 260.5,73.2 259.0,72.5 257.5,72.0 256.0,71.2 254.5,70.2 254.5,69.0 254.2,67.5 253.5,66.7 252.0,65.0 250.7,64.0 249.5,62.5 248.0,61.0 247.0,59.5 245.5,58.5 245.2,59.5 246.0,61.0 247.5,62.5 248.5,64.0 249.5,65.8 250.5,67.0 250.0,67.1 248.5,65.5 247.8,64.2 246.5,63.2 245.5,62.2 245.0,60.5 243.5,58.5 242.8,57.3 241.5,56.0 239.4,55.5 238.2,53.7 237.5,52.5 237.0,51.7 236.2,50.5 235.7,49.5 235.8,48.0 235.5,46.5 236.0,44.0 235.3,41.7 237.0,41.8 237.5,42.5 237.2,41.0 236.0,40.2 235.0,39.5 233.0,39.0 232.5,37.5 231.5,36.5 230.0,35.5 229.5,34.2 228.5,33.5 227.0,32.5 225.5,31.5 224.0,31.5 222.5,31.2 220.5,30.5 218.5,30.0 216.5,30.0 214.5,29.5 212.5,29.2 211.5,30.0 210.0,30.4 208.5,30.8 209.0,29.5 210.0,28.8 208.0,29.5 206.5,30.5 205.5,31.5 204.0,32.2 202.5,33.0 201.5,33.5 200.0,34.2 198.5,34.5 197.0,35.2 195.5,35.5 197.5,34.5 199.5,33.5 201.5,32.2 202.5,31.2 201.0,31.2 198.5,31.3 198.0,30.2 196.0,30.0 195.0,29.3 195.0,28.2 194.0,27.5 195.5,26.8 199.0,26.0 199.2,25.4 197.5,25.5 195.5,25.5 193.7,25.4 193.2,24.8 192.0,24.4Z"/><path d="M-365.0,161.0 -360.0,161.0 -333.5,161.0 -326.4,159.0 -319.3,158.5 -306.7,156.6 -294.0,157.7 -293.0,163.4 -290.7,163.0 -290.0,160.0 -285.4,160.1 -274.7,156.9 -258.6,155.7 -246.2,156.9 -240.3,157.2 -229.6,156.4 -217.0,157.2 -204.6,159.0 -197.4,160.7 -189.5,161.8 -193.0,164.0 -197.4,165.8 -192.1,167.2 -201.0,170.4 -197.4,172.4 -186.7,173.3 -172.5,174.5 -156.4,175.3 -155.0,172.0 -151.1,167.5 -140.4,165.5 -127.9,164.2 -121.7,164.2 -111.0,164.5 -100.3,164.1 -86.0,163.4 -79.0,164.5 -75.0,162.6 -69.6,159.5 -62.7,155.9 -55.9,152.9 -60.0,157.1 -62.7,162.0 -65.5,165.8 -73.7,168.3 -79.0,169.5 -68.2,170.8 -55.0,170.5 -46.4,168.3 -40.0,169.5 -35.5,170.0 -26.0,168.3 -21.9,164.5 -8.2,162.0 -1.4,160.8 5.0,161.0"/><path d="M-5.0,161.0 0.0,161.0 26.5,161.0 33.6,159.0 40.7,158.5 53.3,156.6 66.0,157.7 67.0,163.4 69.3,163.0 70.0,160.0 74.6,160.1 85.3,156.9 101.4,155.7 113.8,156.9 119.7,157.2 130.4,156.4 143.0,157.2 155.4,159.0 162.6,160.7 170.5,161.8 167.0,164.0 162.6,165.8 167.9,167.2 159.0,170.4 162.6,172.4 173.3,173.3 187.5,174.5 203.6,175.3 205.0,172.0 208.9,167.5 219.6,165.5 232.1,164.2 238.3,164.2 249.0,164.5 259.7,164.1 274.0,163.4 281.0,164.5 285.0,162.6 290.4,159.5 297.3,155.9 304.1,152.9 300.0,157.1 297.3,162.0 294.5,165.8 286.3,168.3 281.0,169.5 291.8,170.8 305.0,170.5 313.6,168.3 320.0,169.5 324.5,170.0 334.0,168.3 338.1,164.5 351.8,162.0 358.6,160.8 365.0,161.0"/><path d="M355.0,161.0 360.0,161.0 386.5,161.0 393.6,159.0 400.7,158.5 413.3,156.6 426.0,157.7 427.0,163.4 429.3,163.0 430.0,160.0 434.6,160.1 445.3,156.9 461.4,155.7 473.8,156.9 479.7,157.2 490.4,156.4 503.0,157.2 515.4,159.0 522.6,160.7 530.5,161.8 527.0,164.0 522.6,165.8 527.9,167.2 519.0,170.4 522.6,172.4 533.3,173.3 547.5,174.5 563.6,175.3 565.0,172.0 568.9,167.5 579.6,165.5 592.1,164.2 598.3,164.2 609.0,164.5 619.7,164.1 634.0,163.4 641.0,164.5 645.0,162.6 650.4,159.5 657.3,155.9 664.1,152.9 660.0,157.1 657.3,162.0 654.5,165.8 646.3,168.3 641.0,169.5 651.8,170.8 665.0,170.5 673.6,168.3 680.0,169.5 684.5,170.0 694.0,168.3 698.1,164.5 711.8,162.0 718.6,160.8 725.0,161.0"/><path d="M172.5,37.0 173.5,37.2"/><path d="M177.0,38.2 179.0,38.5"/><path d="M181.0,38.3 183.0,38.0"/><path d="M185.0,37.8 187.0,37.4"/><path d="M188.0,37.2 191.0,36.7"/><path d="M192.0,36.5 194.0,36.0"/><path d="M195.0,35.5 196.5,35.0"/><path d="M145.5,46.5 147.0,45.5"/><path d="M148.0,44.8 149.5,44.0"/><path d="M151.0,43.0 152.5,42.2"/><path d="M153.5,41.5 155.0,40.5"/><path d="M155.5,39.8 156.3,39.2"/><path d="M28.0,48.4 27.9,47.3 28.6,46.4 28.9,45.5 29.7,44.8 30.5,44.0 30.8,43.5 31.7,43.4 32.5,44.0 33.5,44.1 32.5,44.7 33.5,45.5 34.5,45.5 35.5,45.0 36.5,44.7 35.0,44.3 35.5,43.7 36.8,43.2 38.3,42.8 39.2,42.8 38.3,43.4 37.8,44.0 37.2,44.7 36.8,45.0 37.3,45.3 38.4,45.7 39.5,46.4 40.5,47.0 41.6,48.0 41.6,48.5 40.5,49.0 39.5,48.9 38.0,49.1 36.8,48.7 36.0,48.3 35.0,48.0 34.0,48.0 33.0,48.1 31.5,48.8 29.2,48.8Z"/><path d="M47.0,45.5 47.5,46.5 47.7,47.2 48.5,48.2 49.2,49.0 49.6,49.7 49.4,50.6 48.9,51.6 49.0,52.4 50.2,52.9 51.5,53.2 53.0,53.1 54.0,52.7 53.8,51.7 53.2,50.7 53.5,50.0 52.9,49.1 52.8,48.2 52.5,47.3 51.6,46.8 51.0,45.6 50.4,45.3 51.3,44.8 52.8,44.7 53.2,43.7 52.0,43.1 51.2,42.9 50.0,43.3 49.0,43.6 48.0,44.1 47.2,45.0Z"/><path d="M-5.7,39.9 -4.2,39.6 -3.0,39.3 -1.5,39.3 0.3,39.2 1.4,38.7 0.8,38.2 1.7,37.3 0.3,36.9 0.0,36.4 -0.5,35.5 -1.5,34.7 -2.0,34.1 -3.0,34.0 -2.5,33.4 -1.8,32.5 -3.0,32.3 -4.0,32.1 -3.0,31.4 -4.5,31.4 -5.0,31.4 -5.5,32.2 -5.8,33.0 -5.5,33.7 -5.8,34.4 -5.0,35.0 -4.5,35.2 -3.5,35.1 -3.2,35.8 -3.0,36.5 -4.5,36.7 -4.0,37.5 -4.3,38.0 -5.2,38.2 -4.0,38.5 -3.0,38.5 -4.5,38.9Z"/><path d="M354.3,39.9 355.8,39.6 357.0,39.3 358.5,39.3 360.3,39.2 361.4,38.7 360.8,38.2 361.7,37.3 360.3,36.9 360.0,36.4 359.5,35.5 358.5,34.7 358.0,34.1 357.0,34.0 357.5,33.4 358.2,32.5 357.0,32.3 356.0,32.1 357.0,31.4 355.5,31.4 355.0,31.4 354.5,32.2 354.2,33.0 354.5,33.7 354.2,34.4 355.0,35.0 355.5,35.2 356.5,35.1 356.8,35.8 357.0,36.5 355.5,36.7 356.0,37.5 355.7,38.0 354.8,38.2 356.0,38.5 357.0,38.5 355.5,38.9Z"/><path d="M354.0,37.8 353.7,36.7 353.9,36.0 354.4,35.4 353.8,34.8 352.7,34.7 351.7,34.9 351.4,35.7 350.0,35.9 350.1,36.7 350.6,37.4 349.7,38.1 350.5,38.5 351.8,38.2 353.1,37.9Z"/><path d="M338.0,26.1 340.0,26.5 342.0,26.6 344.0,26.0 345.5,25.6 346.4,24.8 345.4,24.0 344.0,23.5 342.0,23.9 340.0,23.9 338.5,24.5 337.5,23.6 336.0,24.4 338.0,25.0 336.0,25.1 337.5,25.8Z"/><path d="M9.4,47.0 9.5,47.8 9.2,48.6 8.6,48.1 8.7,47.4Z"/><path d="M9.2,48.8 9.7,49.5 9.6,50.8 9.0,51.0 8.4,51.0 8.4,49.6 8.2,49.1Z"/><path d="M12.4,51.9 13.5,51.8 15.6,51.7 15.1,52.7 15.0,53.3 14.3,53.0 12.5,52.4Z"/><path d="M23.5,54.5 24.5,54.6 26.3,54.7 25.8,55.0 24.7,55.1 23.5,54.8Z"/><path d="M32.3,55.0 33.0,54.6 34.6,54.3 34.0,55.0 33.0,55.4Z"/><path d="M11.0,11.5 15.0,13.0 17.0,13.4 19.0,12.0 22.0,12.5 24.0,11.7 21.0,10.5 18.0,9.8 15.0,10.1 11.0,10.5Z"/><path d="M52.5,18.6 55.5,19.4 57.6,19.3 56.5,18.0 58.0,16.2 61.0,14.7 65.0,13.8 68.5,13.1 68.0,12.9 64.0,13.1 60.0,13.8 57.0,14.8 55.5,16.0 54.0,16.7 53.0,17.7Z"/><path d="M96.0,10.5 100.0,11.5 104.0,11.0 104.0,10.0 100.0,8.8 95.0,9.0 93.0,10.0Z"/><path d="M137.0,15.0 140.0,15.5 143.0,15.0 148.0,14.5 142.0,14.0 138.0,13.8Z"/><path d="M45.0,10.0 50.0,10.2 60.0,9.5 62.0,8.7 55.0,8.5 48.0,9.0Z"/><path d="M178.5,19.0 181.0,18.5 183.0,19.0 180.0,19.2Z"/><path d="M142.0,44.0 143.5,43.5 143.0,42.0 144.5,41.0 143.5,39.0 143.3,37.0 142.8,35.7 142.2,36.0 141.7,37.5 142.0,39.0 142.0,41.0 141.9,42.5Z"/><path d="M140.0,48.5 141.2,48.2 141.7,47.4 143.3,48.0 145.5,46.7 145.3,45.8 144.0,46.0 141.9,44.5 141.6,44.8 141.4,46.2 140.4,46.8 140.0,47.5Z"/><path d="M140.0,49.3 141.5,48.7 141.6,50.0 142.0,50.7 141.0,51.7 140.9,53.0 140.5,54.3 139.8,55.1 139.0,55.3 138.0,55.4 137.0,55.4 136.8,55.7 135.8,56.5 135.1,55.7 133.5,55.6 132.0,56.1 131.0,56.0 131.0,55.5 132.5,54.6 134.0,54.5 135.8,54.4 136.7,53.1 137.3,53.2 137.0,52.8 138.5,52.4 139.5,51.5 140.0,50.5Z"/><path d="M130.0,56.2 131.0,56.1 131.8,57.0 131.4,58.5 130.7,59.0 130.2,58.7 130.2,57.5 129.6,56.8Z"/><path d="M132.6,57.0 133.0,56.0 134.2,55.7 134.7,56.2 134.2,56.8 133.2,57.2Z"/><path d="M120.1,67.0 120.7,68.0 121.4,67.0 121.9,65.2 121.5,64.7 120.8,65.2 120.2,66.2Z"/><path d="M108.6,70.8 109.5,71.8 110.5,71.4 111.0,70.3 110.3,69.9 109.0,70.1Z"/><path d="M79.8,82.0 79.9,80.3 80.8,80.7 81.8,82.5 81.3,83.8 80.2,84.0Z"/><path d="M120.6,71.5 122.2,71.5 122.0,73.0 121.6,74.2 122.0,76.0 124.0,76.2 124.0,77.4 123.0,77.0 121.8,76.2 120.6,75.6 120.6,74.5 119.8,73.7 120.4,72.5Z"/><path d="M122.0,83.0 123.5,82.2 124.0,81.5 125.5,80.2 126.5,82.0 126.2,83.5 125.5,84.2 124.0,83.7Z"/><path d="M124.3,77.5 125.7,79.0 125.0,79.8 124.3,78.5Z"/><path d="M122.0,78.2 123.2,79.0 123.2,80.5 122.3,80.0Z"/><path d="M117.2,81.6 119.0,79.5 119.7,78.6 119.3,79.5 118.0,81.0Z"/><path d="M109.0,88.5 109.5,90.5 110.0,91.5 111.0,93.0 113.0,93.3 114.5,93.8 116.0,93.5 116.5,92.0 117.5,90.0 117.8,89.0 118.8,88.5 118.0,87.5 118.2,85.5 119.2,84.8 117.5,83.5 116.5,83.2 115.5,84.5 114.5,85.5 113.0,86.8 111.5,87.5 109.7,88.0Z"/><path d="M95.3,84.4 97.5,84.8 98.7,86.2 100.0,87.5 101.3,88.0 103.5,89.5 104.5,91.0 105.8,93.0 105.8,95.8 104.5,95.9 102.3,94.0 101.0,92.5 99.5,90.5 98.7,88.4 97.5,87.5 96.2,85.8Z"/><path d="M105.2,96.8 106.5,96.0 108.3,96.3 110.5,96.9 112.5,96.9 114.5,97.7 114.5,98.7 112.5,98.4 110.0,98.0 108.0,97.8 106.5,97.4Z"/><path d="M115.8,98.2 117.0,98.0 119.0,98.5 118.5,99.0 116.5,99.0Z"/><path d="M119.8,98.5 122.5,98.2 122.8,98.7 120.5,98.9Z"/><path d="M123.5,100.3 125.0,99.0 127.2,98.4 126.5,99.0 124.5,100.0Z"/><path d="M119.0,99.5 120.8,99.8 120.5,100.3 119.0,99.8Z"/><path d="M125.2,88.4 124.0,89.4 121.0,89.4 120.2,89.8 119.8,90.8 119.5,93.0 118.8,93.5 119.5,95.5 120.4,95.5 120.3,93.0 121.0,92.6 122.0,94.6 123.2,94.5 122.2,93.0 121.5,91.9 122.5,91.0 123.4,90.9 121.8,90.6 120.8,91.3 120.5,90.3 121.5,89.6 123.5,89.6 124.5,89.6Z"/><path d="M127.5,90.5 128.5,89.5 128.3,88.5 128.0,87.8 127.8,89.0Z"/><path d="M126.0,93.2 127.2,93.3 127.0,93.8 126.0,93.6Z"/><path d="M128.0,93.2 130.5,93.0 130.8,93.8 128.5,93.7Z"/><path d="M131.0,91.0 132.0,90.4 134.0,90.9 135.0,93.3 137.0,91.5 138.5,91.8 140.5,92.4 142.5,93.2 144.5,93.8 145.8,95.0 146.5,96.0 147.5,96.5 147.8,98.0 148.5,99.0 149.5,100.0 150.5,100.5 149.0,100.4 147.5,100.1 146.0,98.5 144.0,97.7 143.0,99.0 141.0,99.2 139.5,98.1 138.5,98.3 138.0,97.5 138.8,96.8 137.5,95.0 135.5,94.4 134.0,93.8 133.0,94.0 132.0,92.9 133.5,92.5 132.5,92.2 131.0,91.5Z"/><path d="M148.5,95.5 150.0,95.0 151.5,94.2 152.3,94.5 151.5,95.5 150.0,96.2Z"/><path d="M113.5,112.0 114.2,112.0 116.0,110.8 118.5,110.3 121.0,109.5 122.2,108.0 122.5,107.0 123.5,106.5 124.5,105.5 125.5,104.5 126.5,104.0 127.8,104.5 128.5,105.0 129.5,104.8 130.0,103.5 130.5,102.5 131.5,102.2 132.5,101.5 134.0,102.0 135.5,102.2 136.5,102.0 136.8,102.8 136.0,103.5 135.5,104.8 137.0,106.0 138.5,106.8 140.0,107.6 141.0,106.5 141.5,105.0 141.6,103.0 142.0,101.5 142.5,100.7 143.0,102.0 143.5,104.0 144.5,104.3 145.3,105.0 145.5,106.5 146.0,107.8 146.5,109.0 148.5,110.3 149.5,112.0 150.7,112.6 151.2,114.0 153.0,115.3 153.5,118.0 153.0,120.5 152.5,122.0 151.3,123.8 150.5,125.5 150.0,127.5 148.0,127.8 146.5,128.8 145.0,128.3 143.5,128.8 141.5,128.4 140.0,127.5 139.5,126.0 138.5,125.5 138.0,124.3 137.5,125.2 136.8,125.3 137.8,123.5 137.5,123.0 136.0,124.5 135.5,124.8 134.5,123.2 133.5,122.2 132.0,122.0 130.0,121.6 128.0,122.2 126.0,122.3 124.0,123.0 123.5,123.9 121.5,123.8 119.5,124.3 118.0,125.0 116.5,125.0 115.0,124.3 115.7,123.3 115.8,122.0 115.0,120.0 114.9,119.0 114.0,117.0 113.4,116.0 113.8,115.0 113.4,114.0 113.8,113.0Z"/><path d="M144.7,130.7 146.5,131.1 148.3,130.9 148.3,132.2 147.9,133.2 146.8,133.6 146.0,133.5 145.3,132.3Z"/><path d="M172.7,124.4 174.5,125.5 175.0,126.5 175.8,126.8 176.0,127.5 177.5,127.8 178.5,127.7 178.0,129.0 177.0,129.3 176.8,130.0 175.5,131.5 174.8,131.3 175.0,130.0 174.0,129.5 174.6,128.0 174.5,127.0 173.0,125.3Z"/><path d="M172.7,130.5 173.0,131.0 174.3,131.5 173.5,132.8 172.8,133.8 171.0,134.5 170.7,135.8 169.5,136.6 168.3,136.6 166.5,136.0 166.8,135.2 168.0,134.0 170.0,133.0 171.2,132.0 172.0,130.8Z"/><path d="M49.3,102.0 50.0,103.5 50.5,105.5 49.8,106.5 49.5,108.0 48.7,110.5 47.7,113.5 47.0,115.0 45.5,115.5 44.0,115.0 43.5,113.0 43.3,111.5 44.3,110.0 44.0,108.0 44.4,106.2 46.5,105.7 47.5,104.5 48.0,103.5Z"/><path d="M287.0,11.5 292.0,13.5 295.0,14.0 300.0,14.0 302.0,14.5 304.0,16.0 305.0,18.0 306.5,19.5 309.0,21.0 307.0,22.0 306.5,23.5 308.0,25.0 309.0,26.5 310.5,28.0 311.5,29.0 314.0,29.5 316.0,30.0 317.0,29.5 318.0,28.0 319.0,26.5 320.0,25.0 322.5,24.2 325.0,23.5 328.0,22.0 334.0,21.5 337.0,20.0 338.0,18.5 336.0,17.0 340.0,16.0 341.0,14.0 341.5,13.0 340.0,11.5 343.0,10.0 345.0,8.5 340.0,8.0 332.0,6.7 325.0,6.4 315.0,7.5 308.0,8.0 300.0,8.3 298.0,8.8 294.0,9.5 290.0,10.5Z"/><path d="M298.5,23.4 297.5,25.0 295.5,27.0 294.0,28.0 291.5,27.4 288.5,26.5 287.0,25.5 285.0,25.5 282.0,25.5 282.5,24.5 286.0,24.0 287.0,22.5 285.0,21.5 282.0,20.5 280.0,20.0 275.0,19.5 272.0,19.5 270.5,18.5 272.0,17.0 275.0,16.3 280.0,16.3 284.0,17.3 287.5,18.5 290.0,19.5 292.0,20.0 293.5,21.5 296.5,22.5Z"/><path d="M241.5,20.0 245.0,20.7 250.0,21.2 254.0,21.0 258.0,20.5 259.0,19.5 257.0,18.5 255.0,17.0 252.0,16.7 248.0,17.2 245.0,16.6 241.5,17.5 242.0,19.0Z"/><path d="M235.0,18.1 238.5,18.5 241.0,17.7 239.5,16.0 236.0,15.7 234.5,17.0Z"/><path d="M280.0,13.7 283.0,13.0 282.0,11.5 285.0,10.5 290.0,9.5 296.0,8.2 298.0,7.5 290.0,6.9 280.0,7.0 272.0,8.0 268.0,9.0 270.0,10.5 272.0,12.0 275.0,12.7Z"/><path d="M280.0,15.5 270.0,15.5 268.0,14.5 272.0,13.5 278.0,13.7Z"/><path d="M255.0,15.0 246.0,15.5 242.5,13.8 250.0,13.2 256.0,14.0Z"/><path d="M263.0,15.0 260.0,14.5 259.5,13.5 262.5,13.2Z"/><path d="M270.0,11.5 265.0,11.0 265.0,9.2 270.0,9.0 273.0,10.0Z"/><path d="M262.0,18.5 259.0,17.5 258.5,16.5 262.0,16.0 263.5,17.0Z"/><path d="M266.0,18.0 264.5,17.0 266.0,16.0 269.0,16.5 267.0,18.0Z"/><path d="M274.0,26.0 278.0,26.0 280.0,26.5 278.5,27.4 276.0,27.0 273.5,25.2Z"/><path d="M307.0,43.0 306.5,43.4 305.0,43.0 304.0,42.4 300.7,42.4 301.5,41.5 302.5,40.0 304.0,38.4 304.5,38.5 304.0,40.0 304.5,40.5 306.0,40.5 307.0,41.5Z"/><path d="M236.5,41.6 235.0,41.0 233.5,40.2 231.6,39.2 233.0,39.5 235.0,40.0Z"/><path d="M275.1,68.1 277.0,67.1 279.0,66.8 280.5,67.4 282.5,68.5 284.5,69.3 285.8,69.8 285.0,70.1 282.5,70.1 282.0,69.2 280.0,68.2 278.0,68.0 276.5,68.2Z"/><path d="M285.5,71.6 287.2,71.5 287.2,70.1 288.5,70.1 290.5,70.5 291.7,71.4 290.5,71.8 288.5,72.3 287.0,72.0Z"/><path d="M281.7,71.7 283.7,71.8 283.2,72.1 282.0,72.0Z"/><path d="M292.8,71.5 294.4,71.6 294.4,72.0 292.8,72.0Z"/><path d="M298.7,141.3 302.0,141.3 302.2,141.8 300.5,142.3 298.7,141.8Z"/><path d="M291.5,142.6 293.5,144.9 291.5,145.0 289.5,144.7 288.0,143.8 290.5,143.2Z"/><path d="M204.5,71.0 205.0,70.3 204.2,69.8 204.0,70.5Z"/><path d="M238.0,14.0 242.0,13.5 243.0,12.7 239.0,12.7 237.0,13.4Z"/><path d="M264.0,15.3 267.0,15.2 266.5,14.5 264.0,14.6Z"/><path d="M257.0,12.2 261.0,12.2 261.0,11.2 258.0,11.1Z"/><path d="M262.0,12.2 265.0,11.8 264.0,11.4 262.0,11.6Z"/><path d="M261.0,21.2 264.0,21.4 264.5,20.4 262.0,20.2Z"/><path d="M280.0,17.0 283.0,17.2 283.5,16.5 280.5,16.2Z"/><path d="M276.5,27.5 279.0,27.4 278.0,26.7 276.2,27.0Z"/><path d="M279.5,28.3 280.5,28.1 280.0,27.7Z"/><path d="M150.5,92.6 152.0,93.2 153.0,94.5 152.7,94.8 151.5,93.6Z"/><path d="M154.6,95.4 155.5,96.0 156.0,96.8 155.3,96.7 154.7,95.9Z"/><path d="M159.6,99.3 160.8,99.5 160.5,99.9 159.7,99.7Z"/><path d="M164.0,110.2 165.5,111.0 167.0,112.3 166.5,112.5 164.8,111.3Z"/><path d="M177.3,107.6 178.5,107.4 178.6,108.2 177.5,108.2Z"/><path d="M178.8,106.5 180.0,106.2 179.8,106.8 178.8,106.9Z"/><path d="M123.8,98.2 124.5,98.1 124.4,98.5 123.8,98.5Z"/><path class="dots" d="M204.50,70.40h0.01M203.70,69.20h0.01M202.10,68.60h0.01M200.50,68.00h0.01M199.80,68.10h0.01M171.00,82.90h0.01M168.00,81.00h0.01M166.50,78.80h0.01M169.50,84.00h0.01M171.50,81.50h0.01M138.10,80.50h0.01M134.50,82.50h0.01M151.80,82.60h0.01M158.20,83.10h0.01M163.00,84.70h0.01M144.80,76.60h0.01M145.70,74.80h0.01M173.00,88.60h0.01M174.50,90.80h0.01M176.00,91.80h0.01M202.60,88.10h0.01M200.70,86.10h0.01M179.20,98.50h0.01M177.50,96.50h0.01M157.00,98.00h0.01M159.50,99.50h0.01M160.80,99.50h0.01M161.00,98.50h0.01M162.50,100.50h0.01M155.50,96.20h0.01M152.30,94.20h0.01M151.00,93.20h0.01M147.00,92.00h0.01M167.00,105.50h0.01M168.00,106.50h0.01M168.30,107.70h0.01M169.30,109.50h0.01M166.80,103.80h0.01M178.00,107.80h0.01M179.30,106.50h0.01M180.20,106.80h0.01M188.00,103.70h0.01M188.50,104.00h0.01M184.80,111.20h0.01M185.50,109.80h0.01M190.10,109.05h0.01M200.20,111.20h0.01M202.10,111.90h0.01M210.50,107.60h0.01M208.50,106.70h0.01M220.00,99.00h0.01M220.80,99.80h0.01M215.00,105.00h0.01M213.50,106.00h0.01M217.50,106.50h0.01M219.50,108.00h0.01M225.00,113.10h0.01M269.50,90.50h0.01M268.80,90.70h0.01M250.60,117.10h0.01M280.00,123.60h0.01M281.20,123.60h0.01M231.70,114.40h0.01M282.50,65.50h0.01M284.00,65.00h0.01M282.00,63.50h0.01M284.50,66.50h0.01M286.50,68.80h0.01M282.20,66.00h0.01M298.50,73.80h0.01M299.00,75.40h0.01M298.80,76.80h0.01M298.40,77.90h0.01M299.10,79.50h0.01M300.50,76.90h0.01M298.20,72.90h0.01M73.50,86.00h0.01M73.30,88.00h0.01M73.10,89.50h0.01M57.50,110.30h0.01M55.50,111.10h0.01M55.50,94.60h0.01M43.30,101.70h0.01M92.70,78.00h0.01M93.50,82.50h0.01M54.00,77.50h0.01M72.40,97.30h0.01M344.50,62.00h0.01M343.50,61.70h0.01M346.00,61.50h0.01M336.50,75.00h0.01M335.50,73.50h0.01M332.00,51.50h0.01M334.50,52.20h0.01M343.00,57.30h0.01M295.20,57.70h0.01M329.00,50.50h0.01M323.50,144.30h0.01M347.70,127.10h0.01M69.50,139.30h0.01M51.50,136.40h0.01M37.80,136.90h0.01M73.50,143.00h0.01M315.00,150.60h0.01M302.00,152.00h0.01M333.50,147.50h0.01M158.90,144.60h0.01M169.10,142.50h0.01M166.00,140.70h0.01M183.50,134.00h0.01M354.30,105.90h0.01M345.60,97.90h0.01M330.70,110.50h0.01M6.70,89.70h0.01M8.70,86.40h0.01M125.50,98.30h0.01M131.50,97.50h0.01M134.50,96.00h0.01M130.50,98.00h0.01M127.80,93.60h0.01M130.30,94.50h0.01M132.80,95.70h0.01M123.00,98.50h0.01M124.50,98.20h0.01M126.80,97.70h0.01M111.00,97.50h0.01M126.00,80.00h0.01M123.90,79.70h0.01M121.00,77.00h0.01M121.50,77.50h0.01M120.00,77.80h0.01M125.00,78.00h0.01M113.50,97.00h0.01M116.10,98.50h0.01M106.50,93.10h0.01M107.80,92.80h0.01M104.50,90.50h0.01M97.50,88.80h0.01M98.50,91.60h0.01M99.30,92.00h0.01M102.30,95.30h0.01M95.50,87.00h0.01M129.50,61.80h0.01M128.00,63.50h0.01M124.20,65.60h0.01M131.00,59.50h0.01M139.50,56.90h0.01M140.00,63.00h0.01M142.20,63.20h0.01M191.80,104.20h0.01M194.20,100.40h0.01M199.00,100.50h0.01M188.20,99.20h0.01M187.50,98.50h0.01M179.10,98.70h0.01M181.90,104.30h0.01M183.80,103.30h0.01M186.00,108.70h0.01" stroke-width="1.7" stroke-linecap="round"/></g>
</g>
<rect x="43.4" y="344.2" width="500.90" height="251.70" fill="none" stroke="#3a3a3a" stroke-width="1.1"/>
<line x1="32.2" x2="43.4" y1="400.13" y2="400.13" stroke="#b8b8b8" stroke-width="1"/>
<text transform="translate(16.2 400.13) rotate(-90)" text-anchor="middle" font-size="19.4">50° N</text>
<line x1="32.2" x2="43.4" y1="470.05" y2="470.05" stroke="#b8b8b8" stroke-width="1"/>
<text transform="translate(16.2 470.05) rotate(-90)" text-anchor="middle" font-size="19.4">0° N</text>
<line x1="32.2" x2="43.4" y1="539.97" y2="539.97" stroke="#b8b8b8" stroke-width="1"/>
<text transform="translate(16.2 539.97) rotate(-90)" text-anchor="middle" font-size="19.4">-50° N</text>
<text x="44.6" y="368.2" font-size="28.5">b)</text>
<clipPath id="pcc"><rect x="43.4" y="641.7" width="500.90" height="251.60"/></clipPath>
<g clip-path="url(#pcc)">
<clipPath id="cpcc1"><rect x="41.1" y="639.4000000000001" width="169.2" height="127.89999999999995"/></clipPath>
<g clip-path="url(#cpcc1)">
<path d="M43.0,641.0 L210.0,641.0 L210.0,768.0 L43.0,768.0Z" fill="#ffffff"/>
<path d="M43.0,641.0 L210.0,641.0 L210.0,667.8 L189.3,665.4 L164.9,662.9 L140.5,664.2 L116.1,665.4 L91.8,660.5 L67.4,662.9 L43.0,665.4Z" fill="#66b8cc"/>
<path d="M67.4,641.0 C90.3,640.0 186.2,637.7 210.0,641.0 C233.8,644.3 213.5,657.5 210.0,660.5 C206.5,663.6 196.8,659.9 189.3,659.3 C181.8,658.7 173.0,657.1 164.9,656.8 C156.8,656.6 148.6,657.6 140.5,657.6 C132.4,657.6 124.3,658.0 116.1,656.8 C108.0,655.7 99.1,652.4 91.8,650.8 C84.4,649.1 76.3,648.7 72.3,647.1 C68.2,645.5 44.4,642.0 67.4,641.0Z" fill="#3a78b8"/>
<path d="M140.5,651.2 C143.2,650.4 154.5,650.1 157.6,650.8 C160.6,651.4 161.4,654.3 158.8,655.1 C156.2,656.0 144.8,656.3 141.7,655.6 C138.7,655.0 137.9,652.1 140.5,651.2Z" fill="#313399"/>
<path d="M103.9,664.2 C110.0,662.9 130.4,663.2 140.5,662.9 C150.7,662.7 153.3,662.0 164.9,662.5 C176.5,662.9 202.5,660.8 210.0,665.4 C217.5,669.9 213.5,686.1 210.0,689.8 C206.5,693.4 196.8,688.5 189.3,687.3 C181.8,686.1 173.0,683.7 164.9,682.4 C156.8,681.2 148.6,681.2 140.5,680.0 C132.4,678.8 122.2,676.8 116.1,675.1 C110.0,673.5 106.0,672.1 103.9,670.3 C101.9,668.4 97.9,665.4 103.9,664.2Z" fill="#a4e4ea"/>
<path d="M43.0,664.2 C47.1,658.7 57.2,662.7 67.4,662.9 C77.5,663.1 95.8,663.3 103.9,665.4 C112.1,667.4 110.0,672.7 116.1,675.1 C122.2,677.6 132.4,678.6 140.5,680.0 C148.6,681.4 156.8,682.4 164.9,683.7 C173.0,684.9 181.8,686.3 189.3,687.3 C196.8,688.3 206.5,688.5 210.0,689.8 C213.5,691.0 217.5,694.2 210.0,694.6 C202.5,695.0 180.5,691.8 164.9,692.2 C149.3,692.6 130.4,696.5 116.1,697.1 C101.9,697.7 91.8,696.1 79.6,695.9 C67.4,695.7 49.1,701.1 43.0,695.9 C36.9,690.6 38.9,669.6 43.0,664.2Z" fill="#ddf6f7"/>
<path d="M91.8,701.9 C100.7,696.1 129.1,701.7 145.4,700.7 C161.6,699.7 178.5,697.2 189.3,695.9 C200.0,694.5 206.5,685.6 210.0,692.7 C213.5,699.8 220.8,730.9 210.0,738.5 C199.2,746.2 165.1,738.9 145.4,738.5 C125.7,738.1 100.7,742.2 91.8,736.1 C82.8,730.0 82.8,707.8 91.8,701.9Z" fill="#ddf6f7"/>
<path d="M96.6,687.3 C106.0,685.3 138.9,689.1 152.7,689.8 C166.5,690.4 173.4,690.0 179.5,691.0 C185.6,692.0 189.3,694.0 189.3,695.9 C189.3,697.7 185.6,700.5 179.5,701.9 C173.4,703.4 163.3,703.6 152.7,704.4 C142.1,705.2 125.5,707.2 116.1,706.8 C106.8,706.4 99.9,705.2 96.6,701.9 C93.4,698.7 87.3,689.4 96.6,687.3Z" fill="#ffffff"/>
<path d="M147.8,701.9 C151.9,699.5 168.6,699.5 177.1,699.5 C185.6,699.5 194.4,700.3 199.0,701.9 C203.7,703.6 204.7,706.0 205.1,709.3 C205.5,712.5 204.1,719.4 201.5,721.5 C198.8,723.5 195.4,721.9 189.3,721.5 C183.2,721.0 171.0,720.2 164.9,719.0 C158.8,717.8 155.6,717.0 152.7,714.1 C149.9,711.3 143.8,704.4 147.8,701.9Z" fill="#a4e4ea"/>
<path d="M157.6,705.6 C160.0,704.2 168.6,703.0 174.6,703.2 C180.7,703.4 191.3,705.2 194.2,706.8 C197.0,708.5 195.0,711.7 191.7,712.9 C188.5,714.1 179.9,714.3 174.6,714.1 C169.4,713.9 162.9,713.1 160.0,711.7 C157.2,710.3 155.1,707.0 157.6,705.6Z" fill="#66b8cc"/>
<path d="M169.8,705.6 C171.2,704.8 177.7,704.3 179.5,704.9 C181.4,705.5 182.2,708.5 180.7,709.3 C179.3,710.1 172.8,710.4 171.0,709.8 C169.2,709.1 168.4,706.4 169.8,705.6Z" fill="#3a78b8"/>
<path d="M43.0,698.3 C46.3,693.6 56.4,696.9 62.5,697.1 C68.6,697.3 73.5,698.5 79.6,699.5 C85.7,700.5 95.0,701.5 99.1,703.2 C103.1,704.8 103.5,707.0 103.9,709.3 C104.4,711.5 103.5,714.5 101.5,716.6 C99.5,718.6 95.4,719.8 91.8,721.5 C88.1,723.1 84.4,725.5 79.6,726.3 C74.7,727.1 68.6,726.5 62.5,726.3 C56.4,726.1 46.3,729.8 43.0,725.1 C39.7,720.4 39.7,703.0 43.0,698.3Z" fill="#f0e08c"/>
<path d="M43.0,712.9 C45.4,711.7 52.8,714.3 57.6,714.1 C62.5,713.9 66.6,711.5 72.3,711.7 C77.9,711.9 87.9,713.9 91.8,715.4 C95.6,716.8 96.6,718.8 95.4,720.2 C94.2,721.7 89.1,723.3 84.4,723.9 C79.8,724.5 72.7,724.1 67.4,723.9 C62.1,723.7 56.8,723.1 52.8,722.7 C48.7,722.3 44.6,723.1 43.0,721.5 C41.4,719.8 40.6,714.1 43.0,712.9Z" fill="#eca860"/>
<path d="M43.0,716.6 C44.6,716.0 51.1,716.5 52.8,717.1 C54.4,717.7 54.4,719.7 52.8,720.2 C51.1,720.8 44.6,720.8 43.0,720.2 C41.4,719.6 41.4,717.1 43.0,716.6Z" fill="#f06c40"/>
<path d="M43.0,726.3 C51.1,719.2 74.7,724.3 91.8,725.1 C108.8,725.9 125.7,729.8 145.4,731.2 C165.1,732.6 199.2,727.5 210.0,733.6 C220.8,739.8 237.8,762.3 210.0,768.0 C182.2,773.7 70.8,775.0 43.0,768.0 C15.2,761.1 34.9,733.5 43.0,726.3Z" fill="#ffffff"/>
<path d="M43.0,733.6 C47.1,731.0 59.3,732.2 67.4,732.4 C75.5,732.6 85.7,733.8 91.8,734.9 C97.9,735.9 101.9,736.3 103.9,738.5 C106.0,740.8 106.0,746.2 103.9,748.3 C101.9,750.3 97.9,750.5 91.8,750.7 C85.7,750.9 75.5,749.9 67.4,749.5 C59.3,749.1 47.1,750.9 43.0,748.3 C38.9,745.6 38.9,736.3 43.0,733.6Z" fill="#a4e4ea"/>
<path d="M47.9,737.3 C50.7,735.7 60.1,736.1 67.4,736.1 C74.7,736.1 86.5,736.1 91.8,737.3 C97.0,738.5 99.1,741.6 99.1,743.4 C99.1,745.2 97.0,747.5 91.8,748.3 C86.5,749.1 74.3,748.7 67.4,748.3 C60.5,747.9 53.6,747.7 50.3,745.8 C47.1,744.0 45.0,738.9 47.9,737.3Z" fill="#66b8cc"/>
<path d="M55.2,738.5 C59.3,737.4 73.5,737.6 79.6,738.0 C85.7,738.4 90.1,739.7 91.8,741.0 C93.4,742.3 93.4,744.8 89.3,745.8 C85.3,746.8 73.1,747.3 67.4,747.1 C61.7,746.8 57.2,746.0 55.2,744.6 C53.2,743.2 51.1,739.6 55.2,738.5Z" fill="#3a78b8"/>
<path d="M57.6,741.0 C59.9,740.0 67.0,739.9 72.3,739.7 C77.5,739.5 86.7,738.9 89.3,739.7 C92.0,740.5 90.9,743.6 88.1,744.6 C85.3,745.6 77.1,745.7 72.3,745.8 C67.4,746.0 61.3,746.2 58.8,745.3 C56.4,744.5 55.4,741.9 57.6,741.0Z" fill="#313399"/>
<path d="M96.6,731.2 C100.3,728.4 113.7,730.0 121.0,728.8 C128.3,727.5 136.0,723.5 140.5,723.9 C145.0,724.3 147.0,728.0 147.8,731.2 C148.6,734.5 148.6,740.5 145.4,743.4 C142.1,746.2 134.0,747.1 128.3,748.3 C122.6,749.5 116.1,751.1 111.3,750.7 C106.4,750.3 101.5,749.1 99.1,745.8 C96.6,742.6 93.0,734.0 96.6,731.2Z" fill="#a4e4ea"/>
<path d="M103.9,733.6 C106.8,731.2 117.4,732.2 123.5,731.2 C129.5,730.2 136.9,727.1 140.5,727.5 C144.2,728.0 145.4,731.4 145.4,733.6 C145.4,735.9 144.2,738.9 140.5,741.0 C136.9,743.0 129.1,745.0 123.5,745.8 C117.8,746.6 109.6,747.9 106.4,745.8 C103.1,743.8 101.1,736.1 103.9,733.6Z" fill="#66b8cc"/>
<path d="M111.3,737.3 C113.7,735.7 123.0,735.9 128.3,734.9 C133.6,733.8 140.7,730.6 143.0,731.2 C145.2,731.8 144.2,736.5 141.7,738.5 C139.3,740.5 133.0,742.4 128.3,743.4 C123.7,744.4 116.5,745.6 113.7,744.6 C110.9,743.6 108.8,738.9 111.3,737.3Z" fill="#3a78b8"/>
<path d="M116.1,739.7 C117.8,738.5 127.9,736.9 130.8,737.3 C133.6,737.7 134.8,741.0 133.2,742.2 C131.6,743.4 123.9,745.0 121.0,744.6 C118.2,744.2 114.5,741.0 116.1,739.7Z" fill="#313399"/>
<path d="M43.0,750.7 C50.3,748.0 76.7,751.1 86.9,751.9 C97.0,752.7 99.1,752.9 103.9,755.6 C108.8,758.3 126.3,765.9 116.1,768.0 C106.0,770.1 55.2,770.9 43.0,768.0 C30.8,765.1 35.7,753.4 43.0,750.7Z" fill="#ddf6f7"/>
<path d="M89.3,755.6 C92.4,753.5 103.3,753.5 106.4,755.6 C109.4,757.7 110.7,765.9 107.6,768.0 C104.6,770.1 91.1,770.1 88.1,768.0 C85.1,765.9 86.3,757.7 89.3,755.6Z" fill="#a4e4ea"/>
<path d="M91.8,760.5 C92.5,759.7 95.7,759.4 96.6,760.0 C97.5,760.6 97.9,763.4 97.1,764.1 C96.4,764.8 93.1,765.0 92.2,764.4 C91.4,763.8 91.0,761.2 91.8,760.5Z" fill="#3a78b8"/>
</g>
<clipPath id="cpcc2"><rect x="209.7" y="639.4000000000001" width="167.6" height="127.89999999999995"/></clipPath>
<g clip-path="url(#cpcc2)">
<path d="M210.0,641.0 L377.0,641.0 L377.0,768.0 L210.0,768.0Z" fill="#ffffff"/>
<path d="M210.0,684.9 C237.8,679.2 349.2,677.2 377.0,682.4 C404.8,687.7 404.8,710.9 377.0,716.6 C349.2,722.3 237.8,721.9 210.0,716.6 C182.2,711.3 182.2,690.6 210.0,684.9Z" fill="#ddf6f7"/>
<path d="M210.0,665.4 C237.8,661.3 349.2,661.9 377.0,665.4 C404.8,668.8 384.5,682.4 377.0,686.1 C369.5,689.8 347.5,686.7 331.9,687.3 C316.3,687.9 295.3,688.9 283.1,689.8 C270.9,690.6 266.9,692.2 258.8,692.2 C250.6,692.2 242.5,690.2 234.4,689.8 C226.3,689.4 214.1,693.8 210.0,689.8 C205.9,685.7 182.2,669.4 210.0,665.4Z" fill="#a4e4ea"/>
<path d="M210.0,656.8 C237.8,655.0 349.2,655.0 377.0,656.8 C404.8,658.7 380.5,666.2 377.0,667.8 C373.5,669.4 363.8,666.6 356.3,666.6 C348.8,666.6 340.0,666.8 331.9,667.8 C323.8,668.8 315.6,671.1 307.5,672.7 C299.4,674.3 291.3,677.0 283.1,677.6 C275.0,678.2 266.9,677.6 258.8,676.4 C250.6,675.1 242.5,671.7 234.4,670.3 C226.3,668.8 214.1,670.1 210.0,667.8 C205.9,665.6 182.2,658.7 210.0,656.8Z" fill="#66b8cc"/>
<path d="M210.0,641.0 L377.0,641.0 L377.0,659.3 L356.3,661.7 L331.9,662.9 L307.5,664.2 L283.1,665.4 L258.8,662.9 L234.4,659.3 L210.0,658.1Z" fill="#3a78b8"/>
<path d="M210.0,723.9 C214.9,719.2 229.1,721.9 239.3,722.7 C249.4,723.5 265.3,725.3 270.9,728.8 C276.6,732.2 277.5,739.7 273.4,743.4 C269.3,747.1 257.1,749.5 246.6,750.7 C236.0,751.9 216.1,755.2 210.0,750.7 C203.9,746.2 205.1,728.6 210.0,723.9Z" fill="#ddf6f7"/>
<path d="M307.5,741.0 C313.6,739.3 332.5,739.1 344.1,738.5 C355.7,737.9 371.5,735.7 377.0,737.3 C382.5,738.9 382.5,746.2 377.0,748.3 C371.5,750.3 355.7,749.5 344.1,749.5 C332.5,749.5 313.6,749.7 307.5,748.3 C301.4,746.8 301.4,742.6 307.5,741.0Z" fill="#a4e4ea"/>
<path d="M300.2,721.5 C301.0,721.0 304.3,721.0 305.1,721.5 C305.9,721.9 305.9,723.9 305.1,724.4 C304.3,724.9 301.0,724.9 300.2,724.4 C299.4,723.9 299.4,721.9 300.2,721.5Z" fill="#f0e08c"/>
<path d="M314.8,721.5 C316.0,720.7 320.9,720.4 322.1,721.0 C323.4,721.6 323.3,724.4 322.1,725.1 C321.0,725.8 316.5,726.0 315.3,725.4 C314.1,724.7 313.7,722.2 314.8,721.5Z" fill="#f0e08c"/>
<path d="M210.0,755.6 C216.1,753.7 238.4,754.7 246.6,756.8 C254.7,758.9 264.9,766.1 258.8,768.0 C252.7,769.9 218.1,770.1 210.0,768.0 C201.9,765.9 203.9,757.5 210.0,755.6Z" fill="#ddf6f7"/>
</g>
<clipPath id="cpcc3"><rect x="376.7" y="639.4000000000001" width="169.89999999999995" height="127.89999999999995"/></clipPath>
<g clip-path="url(#cpcc3)">
<path d="M377.0,641.0 L544.0,641.0 L544.0,768.0 L377.0,768.0Z" fill="#ddf6f7"/>
<path d="M377.0,641.0 L544.0,641.0 L544.0,667.8 L523.3,670.3 L498.9,675.1 L474.5,672.7 L462.3,682.4 L450.1,683.7 L425.8,682.4 L401.4,681.2 L377.0,681.2Z" fill="#a4e4ea"/>
<path d="M377.0,648.3 C390.4,645.1 433.1,648.3 457.5,648.3 C481.8,648.3 508.9,648.3 523.3,648.3 C537.7,648.3 540.5,646.7 544.0,648.3 C547.5,649.9 547.5,656.0 544.0,658.1 C540.5,660.1 528.4,658.1 523.3,660.5 C518.2,662.9 518.4,670.7 513.5,672.7 C508.6,674.7 500.5,673.1 494.0,672.7 C487.5,672.3 480.6,671.9 474.5,670.3 C468.4,668.6 463.5,663.1 457.5,662.9 C451.4,662.7 447.3,668.2 437.9,669.0 C428.6,669.8 411.5,668.0 401.4,667.8 C391.2,667.6 381.1,671.1 377.0,667.8 C372.9,664.6 363.6,651.6 377.0,648.3Z" fill="#66b8cc"/>
<path d="M377.0,641.0 L544.0,641.0 L544.0,648.3 L523.3,653.2 L486.7,652.0 L450.1,650.8 L401.4,652.0 L377.0,653.2Z" fill="#3a78b8"/>
<path d="M486.7,654.4 C488.1,652.6 495.0,652.7 498.9,652.7 C502.8,652.7 508.0,652.9 509.9,654.4 C511.7,655.9 511.3,659.9 509.9,661.7 C508.4,663.6 504.6,665.1 501.3,665.4 C498.1,665.7 492.8,665.3 490.4,663.4 C487.9,661.6 485.3,656.2 486.7,654.4Z" fill="#3a78b8"/>
<path d="M492.1,656.1 C493.0,655.0 497.6,654.4 498.9,655.1 C500.2,655.9 501.0,659.4 500.1,660.5 C499.2,661.6 494.9,662.5 493.5,661.7 C492.2,661.0 491.2,657.2 492.1,656.1Z" fill="#313399"/>
<path d="M523.3,645.9 C526.3,644.3 540.5,644.3 544.0,645.9 C547.5,647.5 547.0,654.0 544.0,655.6 C541.0,657.3 529.2,657.3 525.7,655.6 C522.3,654.0 520.2,647.5 523.3,645.9Z" fill="#a4e4ea"/>
<path d="M413.6,677.6 C416.8,675.3 428.6,675.9 435.5,676.4 C442.4,676.8 451.4,677.0 455.0,680.0 C458.7,683.1 459.1,691.8 457.5,694.6 C455.8,697.5 450.5,696.9 445.3,697.1 C440.0,697.3 430.6,697.1 425.8,695.9 C420.9,694.6 418.0,692.8 416.0,689.8 C414.0,686.7 410.3,679.8 413.6,677.6Z" fill="#a4e4ea"/>
<path d="M384.3,689.8 C386.8,687.9 394.9,687.3 398.9,688.5 C403.0,689.8 407.9,694.0 408.7,697.1 C409.5,700.1 406.7,705.0 403.8,706.8 C401.0,708.7 394.9,709.3 391.6,708.0 C388.4,706.8 385.5,702.6 384.3,699.5 C383.1,696.5 381.9,691.6 384.3,689.8Z" fill="#ffffff"/>
<path d="M464.8,675.1 C466.8,672.3 480.2,672.3 486.7,672.7 C493.2,673.1 499.7,674.7 503.8,677.6 C507.8,680.4 512.7,687.3 511.1,689.8 C509.5,692.2 500.1,692.2 494.0,692.2 C487.9,692.2 479.4,692.6 474.5,689.8 C469.6,686.9 462.7,678.0 464.8,675.1Z" fill="#ffffff"/>
<path d="M377.0,714.1 C379.4,708.0 386.3,710.9 391.6,711.7 C396.9,712.5 405.8,713.7 408.7,719.0 C411.5,724.3 411.5,738.5 408.7,743.4 C405.8,748.3 396.9,747.5 391.6,748.3 C386.3,749.1 379.4,754.0 377.0,748.3 C374.6,742.6 374.6,720.2 377.0,714.1Z" fill="#ffffff"/>
<path d="M389.2,733.6 C392.4,731.6 402.6,729.2 408.7,728.8 C414.8,728.4 419.7,732.4 425.8,731.2 C431.9,730.0 439.2,724.3 445.3,721.5 C451.4,718.6 456.2,715.8 462.3,714.1 C468.4,712.5 476.5,711.7 481.8,711.7 C487.1,711.7 488.7,715.0 494.0,714.1 C499.3,713.3 507.0,708.9 513.5,706.8 C520.0,704.8 528.0,703.0 533.0,701.9 C538.1,700.9 542.2,694.2 544.0,700.7 C545.8,707.2 545.8,733.4 544.0,741.0 C542.2,748.5 536.5,744.2 533.0,745.8 C529.6,747.5 526.5,749.1 523.3,750.7 C520.0,752.3 517.6,754.4 513.5,755.6 C509.5,756.8 503.8,757.2 498.9,758.0 C494.0,758.8 489.1,760.5 484.3,760.5 C479.4,760.5 474.5,758.8 469.6,758.0 C464.8,757.2 459.9,756.0 455.0,755.6 C450.1,755.2 445.3,756.0 440.4,755.6 C435.5,755.2 431.4,754.8 425.8,753.1 C420.1,751.5 412.4,747.9 406.3,745.8 C400.2,743.8 392.0,743.0 389.2,741.0 C386.3,738.9 385.9,735.7 389.2,733.6Z" fill="#f0e08c"/>
<path d="M425.8,738.5 C429.0,736.9 439.2,737.3 445.3,736.1 C451.4,734.9 456.2,732.8 462.3,731.2 C468.4,729.6 475.7,728.0 481.8,726.3 C487.9,724.7 492.8,723.5 498.9,721.5 C505.0,719.4 512.7,716.2 518.4,714.1 C524.1,712.1 528.8,710.3 533.0,709.3 C537.3,708.2 542.2,705.6 544.0,708.0 C545.8,710.5 545.8,720.8 544.0,723.9 C542.2,726.9 536.5,724.7 533.0,726.3 C529.6,728.0 526.5,730.8 523.3,733.6 C520.0,736.5 518.4,741.0 513.5,743.4 C508.6,745.8 499.7,747.1 494.0,748.3 C488.3,749.5 484.3,750.3 479.4,750.7 C474.5,751.1 469.6,751.1 464.8,750.7 C459.9,750.3 455.0,748.7 450.1,748.3 C445.3,747.9 439.6,748.7 435.5,748.3 C431.4,747.9 427.4,747.5 425.8,745.8 C424.1,744.2 422.5,740.1 425.8,738.5Z" fill="#eca860"/>
<path d="M486.7,741.0 C488.1,740.1 494.6,739.3 496.5,739.7 C498.3,740.1 499.1,742.6 497.7,743.4 C496.3,744.2 489.8,745.0 487.9,744.6 C486.1,744.2 485.3,741.8 486.7,741.0Z" fill="#f06c40"/>
<path d="M450.1,719.0 C453.0,717.4 459.5,716.2 464.8,715.4 C470.0,714.5 478.2,713.1 481.8,714.1 C485.5,715.2 487.1,719.0 486.7,721.5 C486.3,723.9 483.1,726.9 479.4,728.8 C475.7,730.6 469.2,732.2 464.8,732.4 C460.3,732.6 455.4,731.2 452.6,730.0 C449.7,728.8 448.1,726.9 447.7,725.1 C447.3,723.3 447.3,720.6 450.1,719.0Z" fill="#ffffff"/>
<path d="M513.5,731.2 C515.6,728.0 523.1,727.5 528.2,726.3 C533.2,725.1 541.4,718.6 544.0,723.9 C546.6,729.2 545.8,751.9 544.0,758.0 C542.2,764.1 536.5,760.9 533.0,760.5 C529.6,760.1 526.1,758.0 523.3,755.6 C520.4,753.1 517.6,749.9 516.0,745.8 C514.3,741.8 511.5,734.5 513.5,731.2Z" fill="#ffffff"/>
<path d="M484.3,760.5 C489.1,758.6 503.6,757.2 513.5,756.8 C523.5,756.4 538.9,756.2 544.0,758.0 C549.1,759.9 554.0,766.4 544.0,768.0 C534.0,769.7 494.2,769.3 484.3,768.0 C474.3,766.8 479.4,762.3 484.3,760.5Z" fill="#ffffff"/>
<path d="M377.0,748.3 C381.1,745.2 393.3,749.1 401.4,749.5 C409.5,749.9 417.6,749.7 425.8,750.7 C433.9,751.7 446.1,752.7 450.1,755.6 C454.2,758.5 462.3,765.9 450.1,768.0 C437.9,770.1 389.2,771.3 377.0,768.0 C364.8,764.7 372.9,751.4 377.0,748.3Z" fill="#ffffff"/>
</g>
<clipPath id="cpcc4"><rect x="41.1" y="766.7" width="169.2" height="128.89999999999995"/></clipPath>
<g clip-path="url(#cpcc4)">
<path d="M43.0,767.0 L210.0,767.0 L210.0,894.0 L43.0,894.0Z" fill="#ffffff"/>
<path d="M69.8,769.4 C73.1,767.6 86.5,767.0 91.8,767.0 C97.0,767.0 100.3,767.4 101.5,769.4 C102.7,771.5 101.9,777.2 99.1,779.2 C96.2,781.2 88.9,781.8 84.4,781.6 C80.0,781.4 74.7,780.0 72.3,778.0 C69.8,775.9 66.6,771.3 69.8,769.4Z" fill="#a4e4ea"/>
<path d="M103.9,767.0 C105.8,766.4 114.3,766.4 116.1,767.0 C118.0,767.6 116.7,770.0 114.9,770.7 C113.1,771.3 107.0,771.3 105.2,770.7 C103.3,770.0 102.1,767.6 103.9,767.0Z" fill="#a4e4ea"/>
<path d="M43.0,788.9 C45.4,783.7 53.6,786.5 57.6,786.5 C61.7,786.5 64.5,786.9 67.4,788.9 C70.2,791.0 71.4,795.0 74.7,798.7 C77.9,802.4 83.2,808.0 86.9,810.9 C90.5,813.7 94.6,813.9 96.6,815.8 C98.7,817.6 101.9,820.6 99.1,821.9 C96.2,823.1 85.7,823.3 79.6,823.1 C73.5,822.9 68.6,821.4 62.5,820.6 C56.4,819.8 46.3,823.5 43.0,818.2 C39.7,812.9 40.6,794.2 43.0,788.9Z" fill="#f0e08c"/>
<path d="M43.0,790.2 C44.6,786.9 49.5,790.0 52.8,791.4 C56.0,792.8 59.7,795.8 62.5,798.7 C65.3,801.5 68.2,805.8 69.8,808.4 C71.4,811.1 73.5,813.3 72.3,814.5 C71.0,815.8 65.8,816.0 62.5,815.8 C59.3,815.6 56.0,814.1 52.8,813.3 C49.5,812.5 44.6,814.7 43.0,810.9 C41.4,807.0 41.4,793.4 43.0,790.2Z" fill="#eca860"/>
<path d="M101.5,784.1 C105.6,782.4 117.0,781.6 123.5,781.6 C130.0,781.6 134.8,783.3 140.5,784.1 C146.2,784.9 152.7,785.3 157.6,786.5 C162.5,787.7 165.3,790.2 169.8,791.4 C174.2,792.6 179.5,793.0 184.4,793.8 C189.3,794.6 194.8,795.8 199.0,796.3 C203.3,796.7 208.2,790.2 210.0,796.3 C211.8,802.4 213.5,827.1 210.0,832.8 C206.5,838.5 196.0,831.6 189.3,830.4 C182.6,829.2 176.7,826.7 169.8,825.5 C162.9,824.3 149.5,824.7 147.8,823.1 C146.2,821.4 157.2,818.6 160.0,815.8 C162.9,812.9 166.1,808.9 164.9,806.0 C163.7,803.2 157.6,799.9 152.7,798.7 C147.8,797.5 140.5,797.9 135.6,798.7 C130.8,799.5 127.5,802.8 123.5,803.6 C119.4,804.4 114.5,804.4 111.3,803.6 C108.0,802.8 106.0,800.7 103.9,798.7 C101.9,796.7 99.5,793.8 99.1,791.4 C98.7,788.9 97.4,785.7 101.5,784.1Z" fill="#f0e08c"/>
<path d="M179.5,802.4 C181.8,801.1 189.7,800.5 194.2,801.1 C198.6,801.7 203.7,804.8 206.3,806.0 C209.0,807.2 209.4,806.2 210.0,808.4 C210.6,810.7 211.8,817.6 210.0,819.4 C208.2,821.2 202.5,820.4 199.0,819.4 C195.6,818.4 192.3,815.1 189.3,813.3 C186.2,811.5 182.4,810.3 180.7,808.4 C179.1,806.6 177.3,803.6 179.5,802.4Z" fill="#eca860"/>
<path d="M169.8,768.2 C171.0,767.0 177.3,766.2 179.5,767.0 C181.8,767.8 184.4,771.9 183.2,773.1 C182.0,774.3 174.4,775.1 172.2,774.3 C170.0,773.5 168.6,769.4 169.8,768.2Z" fill="#f0e08c"/>
<path d="M43.0,823.1 C47.1,817.4 59.3,825.1 67.4,825.5 C75.5,825.9 83.6,825.7 91.8,825.5 C99.9,825.3 108.0,824.3 116.1,824.3 C124.3,824.3 132.4,824.7 140.5,825.5 C148.6,826.3 156.8,828.2 164.9,829.2 C173.0,830.2 181.8,831.0 189.3,831.6 C196.8,832.2 206.5,828.2 210.0,832.8 C213.5,837.5 237.8,855.2 210.0,859.6 C182.2,864.1 70.8,865.7 43.0,859.6 C15.2,853.5 38.9,828.8 43.0,823.1Z" fill="#ddf6f7"/>
</g>
<clipPath id="cpcc5"><rect x="209.7" y="766.7" width="167.6" height="128.89999999999995"/></clipPath>
<g clip-path="url(#cpcc5)">
<path d="M210.0,767.0 L377.0,767.0 L377.0,894.0 L210.0,894.0Z" fill="#ffffff"/>
<path d="M231.9,771.9 C234.4,771.1 246.6,771.9 249.0,773.1 C251.4,774.3 249.0,778.4 246.6,779.2 C244.1,780.0 236.8,779.2 234.4,778.0 C231.9,776.8 229.5,772.7 231.9,771.9Z" fill="#a4e4ea"/>
<path d="M210.0,810.9 C212.4,807.6 220.6,812.5 224.6,813.3 C228.7,814.1 230.7,814.7 234.4,815.8 C238.0,816.8 244.1,817.8 246.6,819.4 C249.0,821.0 250.2,823.7 249.0,825.5 C247.8,827.3 243.3,829.2 239.3,830.4 C235.2,831.6 229.5,832.4 224.6,832.8 C219.8,833.2 212.4,836.5 210.0,832.8 C207.6,829.2 207.6,814.1 210.0,810.9Z" fill="#f0e08c"/>
<path d="M256.3,806.0 C260.8,805.6 275.4,807.2 283.1,808.4 C290.9,809.7 297.0,811.7 302.6,813.3 C308.3,814.9 315.6,816.4 317.3,818.2 C318.9,820.0 316.1,823.1 312.4,824.3 C308.7,825.5 300.2,825.7 295.3,825.5 C290.5,825.3 287.2,824.7 283.1,823.1 C279.1,821.4 275.0,817.0 270.9,815.8 C266.9,814.5 261.2,816.6 258.8,815.8 C256.3,814.9 256.7,812.5 256.3,810.9 C255.9,809.3 251.9,806.4 256.3,806.0Z" fill="#f0e08c"/>
<path d="M324.6,815.8 C325.4,814.5 332.3,814.8 336.8,815.3 C341.2,815.8 349.2,817.3 351.4,818.7 C353.6,820.1 353.4,822.8 350.2,823.6 C346.9,824.3 336.2,824.4 331.9,823.1 C327.6,821.8 323.8,817.1 324.6,815.8Z" fill="#f0e08c"/>
<path d="M339.2,784.1 C341.2,782.0 350.0,782.0 356.3,781.6 C362.6,781.2 373.5,774.3 377.0,781.6 C380.5,788.9 378.8,818.6 377.0,825.5 C375.2,832.4 369.5,824.7 366.0,823.1 C362.6,821.4 358.7,818.6 356.3,815.8 C353.8,812.9 353.4,809.7 351.4,806.0 C349.4,802.4 346.1,797.5 344.1,793.8 C342.1,790.2 337.2,786.1 339.2,784.1Z" fill="#f0e08c"/>
<path d="M356.3,785.3 C358.5,784.3 367.5,784.1 370.9,784.1 C374.4,784.1 376.0,782.4 377.0,785.3 C378.0,788.1 378.4,798.9 377.0,801.1 C375.6,803.4 371.1,799.9 368.5,798.7 C365.8,797.5 363.0,795.2 361.2,793.8 C359.3,792.4 358.3,791.6 357.5,790.2 C356.7,788.7 354.0,786.3 356.3,785.3Z" fill="#eca860"/>
<path d="M210.0,832.8 C216.1,822.4 236.4,832.8 246.6,831.6 C256.7,830.4 262.8,826.3 270.9,825.5 C279.1,824.7 287.2,826.3 295.3,826.7 C303.5,827.1 311.6,827.3 319.7,827.9 C327.8,828.6 334.5,829.8 344.1,830.4 C353.6,831.0 371.5,821.0 377.0,831.6 C382.5,842.2 404.8,883.6 377.0,894.0 C349.2,904.4 237.8,904.2 210.0,894.0 C182.2,883.8 203.9,843.2 210.0,832.8Z" fill="#ddf6f7"/>
</g>
<clipPath id="cpcc6"><rect x="376.7" y="766.7" width="169.89999999999995" height="128.89999999999995"/></clipPath>
<g clip-path="url(#cpcc6)">
<path d="M377.0,767.0 L544.0,767.0 L544.0,894.0 L377.0,894.0Z" fill="#ffffff"/>
<path d="M423.3,771.9 C424.9,770.0 432.9,768.6 435.5,770.7 C438.2,772.7 439.8,781.2 439.2,784.1 C438.6,786.9 434.1,788.1 431.9,787.7 C429.6,787.3 427.2,784.3 425.8,781.6 C424.3,779.0 421.7,773.7 423.3,771.9Z" fill="#66b8cc"/>
<path d="M427.0,774.3 C427.6,772.6 432.7,772.4 434.3,773.8 C435.9,775.2 437.3,781.1 436.7,782.8 C436.1,784.6 432.3,785.5 430.6,784.1 C429.0,782.6 426.4,776.0 427.0,774.3Z" fill="#3a78b8"/>
<path d="M377.0,781.6 C381.1,774.7 393.3,782.4 401.4,784.1 C409.5,785.7 418.4,789.3 425.8,791.4 C433.1,793.4 441.6,788.5 445.3,796.3 C448.9,804.0 451.0,830.8 447.7,837.7 C444.5,844.6 433.5,838.9 425.8,837.7 C418.0,836.5 409.5,832.4 401.4,830.4 C393.3,828.4 381.1,833.6 377.0,825.5 C372.9,817.4 372.9,788.5 377.0,781.6Z" fill="#f0e08c"/>
<path d="M377.0,787.7 C381.1,786.1 394.1,789.1 401.4,790.2 C408.7,791.2 414.4,792.0 420.9,793.8 C427.4,795.6 436.5,796.3 440.4,801.1 C444.2,806.0 446.5,819.8 444.0,823.1 C441.6,826.3 432.1,822.3 425.8,820.6 C419.5,819.0 411.9,815.8 406.3,813.3 C400.6,810.9 396.5,808.2 391.6,806.0 C386.8,803.8 379.4,803.0 377.0,799.9 C374.6,796.9 372.9,789.3 377.0,787.7Z" fill="#eca860"/>
<path d="M408.7,796.3 C410.2,795.7 416.9,796.1 418.4,796.7 C420.0,797.4 419.5,799.4 418.0,799.9 C416.4,800.4 410.7,800.5 409.2,799.9 C407.6,799.3 407.1,796.8 408.7,796.3Z" fill="#f06c40"/>
<path d="M425.8,803.6 C427.1,803.0 433.0,803.4 434.3,804.1 C435.6,804.7 434.9,806.9 433.6,807.5 C432.2,808.0 427.5,807.9 426.2,807.2 C424.9,806.6 424.4,804.1 425.8,803.6Z" fill="#f06c40"/>
<path d="M445.3,769.4 C449.7,766.2 468.0,766.2 474.5,767.0 C481.0,767.8 483.5,771.1 484.3,774.3 C485.1,777.6 481.8,783.7 479.4,786.5 C477.0,789.3 473.7,790.2 469.6,791.4 C465.6,792.6 458.7,794.6 455.0,793.8 C451.4,793.0 449.3,790.6 447.7,786.5 C446.1,782.4 440.8,772.7 445.3,769.4Z" fill="#f0e08c"/>
<path d="M494.0,776.8 C497.7,774.7 505.2,775.1 513.5,774.3 C521.9,773.5 538.9,768.4 544.0,771.9 C549.1,775.3 547.5,791.4 544.0,795.0 C540.5,798.7 530.0,794.4 523.3,793.8 C516.6,793.2 509.1,792.6 503.8,791.4 C498.5,790.2 493.2,788.9 491.6,786.5 C490.0,784.1 490.4,778.8 494.0,776.8Z" fill="#f0e08c"/>
<path d="M503.8,781.6 C506.6,780.0 516.6,778.8 523.3,778.0 C530.0,777.2 540.5,774.1 544.0,776.8 C547.5,779.4 545.8,791.0 544.0,793.8 C542.2,796.7 537.3,794.4 533.0,793.8 C528.8,793.2 522.9,791.2 518.4,790.2 C513.9,789.1 508.6,789.1 506.2,787.7 C503.8,786.3 500.9,783.3 503.8,781.6Z" fill="#eca860"/>
<path d="M516.0,780.4 C517.5,779.7 524.1,779.7 525.7,780.4 C527.3,781.1 527.3,783.9 525.7,784.6 C524.2,785.2 518.1,785.2 516.5,784.6 C514.8,783.9 514.4,781.1 516.0,780.4Z" fill="#ffffff"/>
<path d="M508.6,803.6 C513.5,802.4 522.3,805.2 528.2,806.0 C534.0,806.8 541.4,805.2 544.0,808.4 C546.6,811.7 546.6,823.1 544.0,825.5 C541.4,827.9 533.2,824.3 528.2,823.1 C523.1,821.9 518.4,819.8 513.5,818.2 C508.6,816.6 499.7,815.8 498.9,813.3 C498.1,810.9 503.8,804.8 508.6,803.6Z" fill="#f0e08c"/>
<path d="M377.0,835.3 C381.1,825.9 393.3,836.9 401.4,837.7 C409.5,838.5 418.0,840.1 425.8,840.1 C433.5,840.1 439.6,839.7 447.7,837.7 C455.8,835.7 466.0,831.2 474.5,827.9 C483.1,824.7 490.8,818.8 498.9,818.2 C507.0,817.6 515.8,822.9 523.3,824.3 C530.8,825.7 540.5,815.1 544.0,826.7 C547.5,838.4 571.8,882.8 544.0,894.0 C516.2,905.2 404.8,903.8 377.0,894.0 C349.2,884.2 372.9,844.6 377.0,835.3Z" fill="#ddf6f7"/>
<path d="M445.3,827.9 C447.5,826.7 455.0,828.8 459.9,830.4 C464.8,832.0 472.9,835.5 474.5,837.7 C476.1,839.9 472.9,843.0 469.6,843.8 C466.4,844.6 458.9,843.6 455.0,842.6 C451.2,841.6 448.1,840.1 446.5,837.7 C444.9,835.3 443.0,829.2 445.3,827.9Z" fill="#ffffff"/>
</g>
<path d="M250.0,768.0 C251.3,767.2 255.3,764.4 258.0,763.3 C260.7,762.3 263.3,762.3 266.0,761.9 C268.7,761.5 271.3,761.2 274.0,760.8 C276.7,760.5 279.3,760.3 282.0,760.0 C284.7,759.8 287.3,759.6 290.0,759.4 C292.7,759.2 295.3,759.0 298.0,758.9 C300.7,758.7 303.3,758.6 306.0,758.4 C308.7,758.3 311.3,758.2 314.0,758.1 C316.7,758.0 319.3,757.9 322.0,757.8 C324.7,757.8 327.3,757.7 330.0,757.6 C332.7,757.6 335.3,757.6 338.0,757.5 C340.7,757.5 343.3,757.5 346.0,757.5 C348.7,757.5 351.3,757.5 354.0,757.5 C356.7,757.6 359.3,757.6 362.0,757.6 C364.7,757.7 367.3,757.8 370.0,757.8 C372.7,757.9 375.3,758.0 378.0,758.1 C380.7,758.2 383.3,758.3 386.0,758.4 C388.7,758.6 391.3,758.7 394.0,758.9 C396.7,759.0 399.3,759.2 402.0,759.4 C404.7,759.6 407.3,759.8 410.0,760.0 C412.7,760.3 415.3,760.5 418.0,760.8 C420.7,761.2 423.3,761.5 426.0,761.9 C428.7,762.3 431.3,762.3 434.0,763.3 C436.7,764.4 440.7,767.2 442.0,768.0 C443.3,768.8 443.3,767.2 442.0,768.0 C440.7,768.8 436.7,771.6 434.0,772.7 C431.3,773.7 428.7,773.7 426.0,774.1 C423.3,774.5 420.7,774.8 418.0,775.2 C415.3,775.5 412.7,775.7 410.0,776.0 C407.3,776.2 404.7,776.4 402.0,776.6 C399.3,776.8 396.7,777.0 394.0,777.1 C391.3,777.3 388.7,777.4 386.0,777.6 C383.3,777.7 380.7,777.8 378.0,777.9 C375.3,778.0 372.7,778.1 370.0,778.2 C367.3,778.2 364.7,778.3 362.0,778.4 C359.3,778.4 356.7,778.4 354.0,778.5 C351.3,778.5 348.7,778.5 346.0,778.5 C343.3,778.5 340.7,778.5 338.0,778.5 C335.3,778.4 332.7,778.4 330.0,778.4 C327.3,778.3 324.7,778.2 322.0,778.2 C319.3,778.1 316.7,778.0 314.0,777.9 C311.3,777.8 308.7,777.7 306.0,777.6 C303.3,777.4 300.7,777.3 298.0,777.1 C295.3,777.0 292.7,776.8 290.0,776.6 C287.3,776.4 284.7,776.2 282.0,776.0 C279.3,775.7 276.7,775.5 274.0,775.2 C271.3,774.8 268.7,774.5 266.0,774.1 C263.3,773.7 260.7,773.7 258.0,772.7 C255.3,771.6 251.3,768.8 250.0,768.0 C248.7,767.2 248.7,768.8 250.0,768.0Z" fill="#a4e4ea"/>
<path d="M256.0,768.0 C257.2,767.3 261.0,764.9 263.5,764.0 C266.0,763.1 268.5,763.1 271.0,762.8 C273.5,762.4 276.0,762.1 278.5,761.9 C281.0,761.6 283.5,761.4 286.0,761.2 C288.5,761.0 291.0,760.8 293.5,760.6 C296.0,760.5 298.5,760.3 301.0,760.2 C303.5,760.0 306.0,759.9 308.5,759.8 C311.0,759.7 313.5,759.6 316.0,759.5 C318.5,759.4 321.0,759.3 323.5,759.3 C326.0,759.2 328.5,759.2 331.0,759.1 C333.5,759.1 336.0,759.1 338.5,759.0 C341.0,759.0 343.5,759.0 346.0,759.0 C348.5,759.0 351.0,759.0 353.5,759.0 C356.0,759.1 358.5,759.1 361.0,759.1 C363.5,759.2 366.0,759.2 368.5,759.3 C371.0,759.3 373.5,759.4 376.0,759.5 C378.5,759.6 381.0,759.7 383.5,759.8 C386.0,759.9 388.5,760.0 391.0,760.2 C393.5,760.3 396.0,760.5 398.5,760.6 C401.0,760.8 403.5,761.0 406.0,761.2 C408.5,761.4 411.0,761.6 413.5,761.9 C416.0,762.1 418.5,762.4 421.0,762.8 C423.5,763.1 426.0,763.1 428.5,764.0 C431.0,764.9 434.8,767.3 436.0,768.0 C437.2,768.7 437.2,767.3 436.0,768.0 C434.8,768.7 431.0,771.1 428.5,772.0 C426.0,772.9 423.5,772.9 421.0,773.2 C418.5,773.6 416.0,773.9 413.5,774.1 C411.0,774.4 408.5,774.6 406.0,774.8 C403.5,775.0 401.0,775.2 398.5,775.4 C396.0,775.5 393.5,775.7 391.0,775.8 C388.5,776.0 386.0,776.1 383.5,776.2 C381.0,776.3 378.5,776.4 376.0,776.5 C373.5,776.6 371.0,776.7 368.5,776.7 C366.0,776.8 363.5,776.8 361.0,776.9 C358.5,776.9 356.0,776.9 353.5,777.0 C351.0,777.0 348.5,777.0 346.0,777.0 C343.5,777.0 341.0,777.0 338.5,777.0 C336.0,776.9 333.5,776.9 331.0,776.9 C328.5,776.8 326.0,776.8 323.5,776.7 C321.0,776.7 318.5,776.6 316.0,776.5 C313.5,776.4 311.0,776.3 308.5,776.2 C306.0,776.1 303.5,776.0 301.0,775.8 C298.5,775.7 296.0,775.5 293.5,775.4 C291.0,775.2 288.5,775.0 286.0,774.8 C283.5,774.6 281.0,774.4 278.5,774.1 C276.0,773.9 273.5,773.6 271.0,773.2 C268.5,772.9 266.0,772.9 263.5,772.0 C261.0,771.1 257.2,768.7 256.0,768.0 C254.8,767.3 254.8,768.7 256.0,768.0Z" fill="#66b8cc"/>
<path d="M264.0,768.3 C265.1,767.7 268.6,765.6 270.9,764.8 C273.2,764.1 275.5,764.1 277.8,763.8 C280.0,763.4 282.3,763.2 284.6,763.0 C286.9,762.8 289.2,762.6 291.5,762.4 C293.8,762.2 296.1,762.1 298.4,761.9 C300.7,761.8 303.0,761.6 305.2,761.5 C307.5,761.4 309.8,761.3 312.1,761.2 C314.4,761.1 316.7,761.0 319.0,760.9 C321.3,760.9 323.6,760.8 325.9,760.7 C328.2,760.7 330.5,760.6 332.8,760.6 C335.0,760.6 337.3,760.5 339.6,760.5 C341.9,760.5 344.2,760.5 346.5,760.5 C348.8,760.5 351.1,760.5 353.4,760.5 C355.7,760.5 358.0,760.6 360.2,760.6 C362.5,760.6 364.8,760.7 367.1,760.7 C369.4,760.8 371.7,760.9 374.0,760.9 C376.3,761.0 378.6,761.1 380.9,761.2 C383.2,761.3 385.5,761.4 387.8,761.5 C390.0,761.6 392.3,761.8 394.6,761.9 C396.9,762.1 399.2,762.2 401.5,762.4 C403.8,762.6 406.1,762.8 408.4,763.0 C410.7,763.2 413.0,763.4 415.2,763.8 C417.5,764.1 419.8,764.1 422.1,764.8 C424.4,765.6 427.9,767.7 429.0,768.3 C430.1,768.9 430.1,767.7 429.0,768.3 C427.9,768.9 424.4,771.0 422.1,771.8 C419.8,772.5 417.5,772.5 415.2,772.8 C413.0,773.2 410.7,773.4 408.4,773.6 C406.1,773.8 403.8,774.0 401.5,774.2 C399.2,774.4 396.9,774.5 394.6,774.7 C392.3,774.8 390.0,775.0 387.8,775.1 C385.5,775.2 383.2,775.3 380.9,775.4 C378.6,775.5 376.3,775.6 374.0,775.7 C371.7,775.7 369.4,775.8 367.1,775.9 C364.8,775.9 362.5,776.0 360.2,776.0 C358.0,776.0 355.7,776.1 353.4,776.1 C351.1,776.1 348.8,776.1 346.5,776.1 C344.2,776.1 341.9,776.1 339.6,776.1 C337.3,776.1 335.0,776.0 332.8,776.0 C330.5,776.0 328.2,775.9 325.9,775.9 C323.6,775.8 321.3,775.7 319.0,775.7 C316.7,775.6 314.4,775.5 312.1,775.4 C309.8,775.3 307.5,775.2 305.2,775.1 C303.0,775.0 300.7,774.8 298.4,774.7 C296.1,774.5 293.8,774.4 291.5,774.2 C289.2,774.0 286.9,773.8 284.6,773.6 C282.3,773.4 280.0,773.2 277.8,772.8 C275.5,772.5 273.2,772.5 270.9,771.8 C268.6,771.0 265.1,768.9 264.0,768.3 C262.9,767.7 262.9,768.9 264.0,768.3Z" fill="#3a78b8"/>
<path d="M276.0,768.5 C277.0,768.0 280.1,766.0 282.1,765.4 C284.1,764.7 286.1,764.8 288.2,764.6 C290.2,764.4 292.2,764.3 294.2,764.2 C296.3,764.0 298.3,763.9 300.3,763.8 C302.4,763.7 304.4,763.6 306.4,763.5 C308.4,763.4 310.5,763.3 312.5,763.3 C314.5,763.2 316.6,763.1 318.6,763.1 C320.6,763.0 322.6,763.0 324.7,762.9 C326.7,762.9 328.7,762.9 330.8,762.8 C332.8,762.8 334.8,762.8 336.8,762.8 C338.9,762.7 340.9,762.7 342.9,762.7 C344.9,762.7 347.0,762.7 349.0,762.7 C351.0,762.7 353.1,762.7 355.1,762.7 C357.1,762.7 359.1,762.7 361.2,762.8 C363.2,762.8 365.2,762.8 367.2,762.8 C369.3,762.9 371.3,762.9 373.3,762.9 C375.4,763.0 377.4,763.0 379.4,763.1 C381.4,763.1 383.5,763.2 385.5,763.3 C387.5,763.3 389.6,763.4 391.6,763.5 C393.6,763.6 395.6,763.7 397.7,763.8 C399.7,763.9 401.7,764.0 403.8,764.2 C405.8,764.3 407.8,764.4 409.8,764.6 C411.9,764.8 413.9,764.7 415.9,765.4 C417.9,766.0 421.0,768.0 422.0,768.5 C423.0,769.0 423.0,768.0 422.0,768.5 C421.0,769.0 417.9,771.0 415.9,771.6 C413.9,772.3 411.9,772.2 409.8,772.4 C407.8,772.6 405.8,772.7 403.8,772.8 C401.7,773.0 399.7,773.1 397.7,773.2 C395.6,773.3 393.6,773.4 391.6,773.5 C389.6,773.6 387.5,773.7 385.5,773.7 C383.5,773.8 381.4,773.9 379.4,773.9 C377.4,774.0 375.4,774.0 373.3,774.1 C371.3,774.1 369.3,774.1 367.2,774.2 C365.2,774.2 363.2,774.2 361.2,774.2 C359.1,774.3 357.1,774.3 355.1,774.3 C353.1,774.3 351.0,774.3 349.0,774.3 C347.0,774.3 344.9,774.3 342.9,774.3 C340.9,774.3 338.9,774.3 336.8,774.2 C334.8,774.2 332.8,774.2 330.8,774.2 C328.7,774.1 326.7,774.1 324.7,774.1 C322.6,774.0 320.6,774.0 318.6,773.9 C316.6,773.9 314.5,773.8 312.5,773.7 C310.5,773.7 308.4,773.6 306.4,773.5 C304.4,773.4 302.4,773.3 300.3,773.2 C298.3,773.1 296.3,773.0 294.2,772.8 C292.2,772.7 290.2,772.6 288.2,772.4 C286.1,772.2 284.1,772.3 282.1,771.6 C280.1,771.0 277.0,769.0 276.0,768.5 C275.0,768.0 275.0,769.0 276.0,768.5Z" fill="#313399"/>
<path d="M43.0,861.0 L120.0,861.0 L200.0,861.0 L250.0,862.0 L300.0,866.0 L340.0,866.0 L400.0,864.0 L450.0,862.0 L500.0,861.0 L546.0,858.0 L546.0,896.0 L42.0,896.0Z" fill="#a4e4ea"/>
<path d="M43.0,866.5 C54.3,861.6 96.3,866.1 110.0,866.5 C123.7,866.9 120.0,868.1 125.0,869.0 C130.0,869.9 134.2,871.7 140.0,872.0 C145.8,872.3 154.2,871.8 160.0,871.0 C165.8,870.2 166.7,867.7 175.0,867.0 C183.3,866.3 199.2,866.5 210.0,867.0 C220.8,867.5 231.3,868.5 240.0,870.0 C248.7,871.5 255.3,873.8 262.0,876.0 C268.7,878.2 270.3,881.3 280.0,883.0 C289.7,884.7 300.0,885.3 320.0,886.0 C340.0,886.7 378.3,887.0 400.0,887.0 C421.7,887.0 433.3,887.2 450.0,886.0 C466.7,884.8 488.3,882.3 500.0,880.0 C511.7,877.7 515.0,874.0 520.0,872.0 C525.0,870.0 525.7,869.2 530.0,868.0 C534.3,866.8 543.3,860.3 546.0,865.0 C548.7,869.7 630.0,890.8 546.0,896.0 C462.0,901.2 125.8,900.9 42.0,896.0 C-41.8,891.1 31.7,871.4 43.0,866.5Z" fill="#66b8cc"/>
<path d="M43.0,870.5 C54.3,866.2 96.3,869.9 110.0,870.5 C123.7,871.1 120.0,873.1 125.0,874.0 C130.0,874.9 134.2,875.8 140.0,876.0 C145.8,876.2 154.2,875.8 160.0,875.0 C165.8,874.2 166.7,871.7 175.0,871.0 C183.3,870.3 199.2,870.7 210.0,871.0 C220.8,871.3 232.5,871.8 240.0,873.0 C247.5,874.2 250.8,876.0 255.0,878.0 C259.2,880.0 257.5,883.0 265.0,885.0 C272.5,887.0 277.5,889.0 300.0,890.0 C322.5,891.0 370.0,891.0 400.0,891.0 C430.0,891.0 461.7,891.2 480.0,890.0 C498.3,888.8 502.5,886.3 510.0,884.0 C517.5,881.7 519.0,877.7 525.0,876.0 C531.0,874.3 542.5,870.7 546.0,874.0 C549.5,877.3 630.0,892.3 546.0,896.0 C462.0,899.7 125.8,900.2 42.0,896.0 C-41.8,891.8 31.7,874.8 43.0,870.5Z" fill="#3a78b8"/>
<path d="M43.0,873.5 C54.3,869.8 96.3,872.9 110.0,873.5 C123.7,874.1 120.0,876.1 125.0,877.0 C130.0,877.9 134.2,878.8 140.0,879.0 C145.8,879.2 154.2,878.8 160.0,878.0 C165.8,877.2 166.7,875.2 175.0,874.5 C183.3,873.8 200.0,873.9 210.0,874.0 C220.0,874.1 229.2,874.0 235.0,875.0 C240.8,876.0 241.7,878.3 245.0,880.0 C248.3,881.7 251.7,883.5 255.0,885.0 C258.3,886.5 257.5,887.8 265.0,889.0 C272.5,890.2 269.2,891.9 300.0,892.5 C330.8,893.1 413.3,892.8 450.0,892.5 C486.7,892.2 505.8,892.1 520.0,891.0 C534.2,889.9 530.7,887.5 535.0,886.0 C539.3,884.5 544.2,880.3 546.0,882.0 C547.8,883.7 630.0,893.7 546.0,896.0 C462.0,898.3 125.8,899.8 42.0,896.0 C-41.8,892.2 31.7,877.2 43.0,873.5Z" fill="#313399"/>
<path d="M43.0,877.0 C44.5,875.3 50.0,876.7 52.0,878.0 C54.0,879.3 55.7,883.3 55.0,885.0 C54.3,886.7 50.0,887.5 48.0,888.0 C46.0,888.5 43.8,889.8 43.0,888.0 C42.2,886.2 41.5,878.7 43.0,877.0Z" fill="#3a78b8"/>
<g class="cst" transform="translate(43.4 641.7) scale(1.391389 1.397778)" fill="none" stroke="#000" stroke-width="1.2" stroke-linejoin="round"><path d="M32.5,60.1 32.7,61.0 33.5,62.5 34.5,64.0 35.5,66.0 35.6,67.0 36.8,68.0 37.3,70.5 38.5,72.0 39.5,74.2 40.8,75.5 42.5,77.0 43.3,78.2 44.5,79.5 46.0,79.3 48.0,78.8 50.0,78.5 51.3,78.2 51.0,79.6 50.5,81.0 49.5,83.0 48.5,84.5 47.5,85.8 46.0,87.7 44.0,89.0 42.0,90.8 41.0,92.0 40.0,93.0 39.5,94.5 39.0,96.0 39.3,97.5 39.5,99.0 40.3,100.5 40.5,102.5 40.6,104.5 40.0,106.0 37.5,107.8 36.0,109.0 35.0,110.0 35.3,111.5 35.5,113.5 33.0,115.5 32.7,116.5 32.5,118.3 31.5,119.2 30.5,120.5 29.0,122.3 27.5,123.3 26.0,123.8 24.5,124.1 22.5,124.0 20.0,124.8 18.8,124.3 18.4,123.9 18.0,122.5 17.5,120.5 16.5,118.6 15.3,117.0 14.8,115.0 14.5,112.9 13.5,111.0 12.0,108.5 11.8,107.0 12.2,105.0 12.8,103.0 13.8,101.0 13.3,99.0 12.5,97.0 12.2,96.0 11.8,94.5 10.5,93.0 9.5,91.5 9.0,90.5 9.5,89.0 9.8,87.5 9.6,86.2 8.7,85.5 7.5,85.6 6.0,85.7 5.2,84.5 4.5,83.8 2.5,83.7 1.0,84.0 -1.0,85.0 -2.0,85.2 -4.0,84.8 -6.0,85.2 -7.6,85.6 -9.0,85.0 -10.5,83.8 -11.5,83.0 -12.5,82.5 -13.2,81.5 -13.5,80.5 -14.5,79.5 -15.3,78.8 -16.7,77.6 -16.8,76.5 -17.4,75.3 -16.7,74.5 -16.2,73.0 -16.1,71.5 -16.5,70.5 -17.0,69.0 -16.5,67.5 -16.0,66.3 -15.0,65.2 -14.5,64.0 -13.2,62.5 -11.5,61.8 -10.0,61.0 -9.7,59.5 -9.5,58.0 -8.5,56.8 -7.0,56.1 -6.5,55.5 -6.0,54.4 -5.5,54.1 -4.5,54.8 -3.0,54.7 -2.0,54.9 0.0,54.2 1.5,53.5 3.0,53.2 5.0,53.3 7.0,53.0 8.5,53.1 10.2,52.8 11.0,53.1 10.5,54.0 11.0,54.8 10.3,55.7 10.2,56.3 11.2,56.8 12.5,57.2 15.2,57.7 15.5,58.5 17.5,59.0 19.0,59.7 20.0,59.0 20.0,57.9 21.0,57.2 22.5,57.2 23.5,57.9 25.0,58.4 27.0,58.7 29.0,59.1 30.0,58.7 31.0,58.5 32.3,58.7 33.5,58.9 34.3,58.6 34.7,58.0 35.0,57.2 35.5,56.2 35.9,55.2 35.8,54.2 36.0,53.5 35.5,53.3 34.5,53.2 33.5,53.8 32.5,53.9 31.0,53.2 30.5,53.6 29.5,53.8 28.5,53.3 27.5,53.0 27.2,52.2 26.5,51.7 26.8,51.2 26.5,50.7 26.2,50.1 26.5,49.7 27.5,49.6 29.0,49.1 28.0,49.0 27.0,49.4 26.2,49.4 26.0,49.2 25.0,49.1 24.0,49.2 23.5,49.7 22.6,49.5 22.8,50.5 23.3,50.9 22.9,51.4 24.0,51.8 23.0,52.1 22.8,52.7 23.0,53.5 22.4,53.5 21.7,53.1 21.6,52.4 21.1,51.7 20.8,51.0 20.2,50.4 19.4,49.5 19.5,48.2 18.6,47.6 17.5,47.0 16.0,46.5 15.2,45.8 14.5,44.8 13.6,44.3 12.5,44.5 12.3,45.0 12.4,45.7 13.5,46.4 14.3,47.5 15.2,48.1 16.2,48.2 17.2,49.0 18.5,49.8 18.3,50.1 17.0,49.5 16.6,50.4 17.1,51.0 16.5,51.6 16.0,52.1 15.6,51.8 15.8,51.0 15.6,49.9 14.8,49.4 14.0,49.1 13.0,48.7 12.0,48.1 11.2,47.5 10.5,47.0 10.2,46.1 9.5,45.8 8.7,45.6 7.8,46.1 7.0,46.5 6.0,46.9 5.0,46.6 4.0,46.5 3.2,46.8 3.1,47.5 3.2,48.1 2.0,48.8 0.8,49.3 0.0,50.2 -0.3,50.7 0.2,51.2 -0.5,51.8 -0.9,52.4 -1.8,53.0 -2.5,53.3 -4.4,53.3 -5.3,53.8 -6.0,53.6 -6.4,53.1 -7.4,52.8 -8.9,53.0 -8.8,52.0 -9.4,51.2 -9.0,50.2 -8.8,49.2 -8.8,48.0 -9.2,47.2 -8.8,46.5 -8.0,46.3 -6.0,46.4 -4.0,46.6 -2.0,46.6 -1.5,46.4 -1.2,45.5 -1.2,44.2 -1.8,43.5 -2.3,42.8 -3.0,42.5 -4.3,42.2 -4.7,41.6 -3.5,41.2 -2.5,41.4 -1.6,41.3 -1.4,40.4 -0.2,40.7 0.2,40.3 1.5,39.9 1.6,39.1 2.5,38.9 3.5,38.6 4.2,38.0 4.7,37.1 5.5,36.6 7.0,36.5 8.0,36.4 8.7,36.0 8.6,35.0 8.1,34.4 8.2,33.4 8.6,32.9 9.6,32.6 10.6,32.3 10.4,32.8 10.3,33.5 10.9,33.7 10.2,34.2 9.8,35.0 10.0,35.5 11.0,36.0 12.3,35.7 13.5,35.7 14.3,36.1 16.0,35.7 18.0,35.2 19.0,35.6 20.0,35.3 21.2,34.7 21.1,33.7 21.5,32.7 22.5,32.3 23.6,33.0 24.3,32.8 24.4,31.7 23.5,31.4 23.5,30.8 25.5,30.5 28.0,30.5 30.0,30.1 29.0,29.8 27.0,29.5 25.0,29.8 22.9,30.1 21.5,29.2 21.5,28.3 21.2,27.3 22.3,26.5 23.5,26.0 24.5,25.2 25.4,24.9 25.0,24.4 24.2,24.2 22.5,24.2 21.4,25.1 21.2,25.8 20.0,26.3 18.8,26.7 18.0,27.4 17.4,28.3 17.2,29.0 17.4,29.4 18.6,29.9 18.4,30.7 16.8,31.3 16.5,32.5 16.1,33.6 14.7,33.8 14.2,34.6 12.9,34.6 12.6,33.8 11.9,32.6 11.2,31.6 10.5,30.7 10.3,31.0 9.5,31.1 8.0,31.9 6.5,31.9 5.6,31.5 5.3,30.7 5.0,29.8 4.9,28.9 5.2,28.0 5.5,27.5 6.5,27.3 8.0,26.7 9.5,26.4 10.5,25.5 11.6,24.8 12.4,23.8 13.5,22.9 14.7,22.2 15.5,21.5 16.5,21.1 18.0,20.4 19.5,20.0 21.0,19.7 23.0,19.4 24.5,19.0 26.0,19.0 28.0,19.1 30.0,19.6 31.0,20.0 32.5,20.2 34.0,20.6 36.0,20.9 38.0,21.4 40.0,22.1 41.0,22.7 41.1,23.2 40.2,23.7 38.5,24.0 36.5,23.7 34.8,23.4 33.5,23.3 33.0,23.8 34.5,24.6 34.8,25.4 36.2,25.8 37.5,26.1 38.0,25.5 37.2,25.0 38.5,25.0 40.0,25.4 40.5,25.0 39.8,24.4 41.5,23.9 42.5,23.6 44.0,23.9 44.3,23.2 43.8,22.4 44.2,21.7 46.0,21.7 46.5,22.2 45.4,22.4 47.0,22.7 48.5,22.3 51.0,21.7 53.5,21.3 54.5,21.7 56.5,21.4 58.5,21.1 59.5,21.6 60.5,21.1 60.5,20.2 62.5,20.3 64.5,20.7 66.5,21.0 67.0,21.5 68.5,21.8 69.0,21.1 68.2,20.5 67.0,20.2 66.9,19.2 68.5,18.2 69.3,17.1 71.5,17.1 72.8,17.8 72.5,19.0 71.8,20.0 73.0,20.6 72.5,21.5 73.5,22.2 72.5,23.0 71.0,23.5 72.5,23.7 74.0,23.0 74.8,22.0 74.5,21.2 73.5,20.8 73.7,19.5 74.3,19.0 73.0,18.5 74.5,17.8 75.2,17.4 75.5,18.5 76.5,18.9 78.0,18.8 76.5,18.0 78.5,17.6 80.5,17.9 80.8,16.4 82.0,16.3 85.0,16.1 86.8,16.3 86.0,15.5 87.2,14.9 89.0,14.5 92.0,14.1 95.0,13.9 97.0,14.0 98.5,13.6 101.0,13.1 103.0,12.5 104.3,12.3 106.0,12.6 107.3,13.5 109.0,13.3 111.0,13.3 113.0,13.8 113.5,14.4 112.5,15.0 110.5,15.6 109.5,16.0 111.0,16.3 113.0,16.2 115.0,16.3 118.0,16.4 120.0,17.0 123.5,17.0 124.0,16.3 126.0,16.5 127.0,16.5 128.5,17.0 129.0,17.5 128.5,18.2 130.0,19.0 131.5,19.1 132.5,18.1 134.0,18.5 136.0,18.4 138.0,18.4 139.5,17.6 141.0,17.3 142.5,17.3 145.0,17.6 148.0,17.7 150.0,18.3 152.5,19.1 155.0,19.0 158.0,19.1 159.8,19.5 160.0,20.3 162.0,20.4 164.0,20.3 166.0,20.5 168.0,20.2 169.5,21.3 170.5,20.1 172.5,20.2 175.0,20.3 177.5,20.6 180.0,21.1 182.0,21.6 184.0,22.2 186.0,22.9 188.0,23.3 189.5,23.4 190.3,24.0 189.0,24.5 187.0,24.6 186.5,25.4 187.5,25.7 185.5,25.6 183.5,25.0 182.0,25.2 180.5,25.5 178.5,25.4 177.3,25.2 176.0,25.3 178.5,26.5 179.3,27.1 177.5,27.5 174.5,28.2 173.0,28.8 171.5,29.6 170.3,30.1 168.5,29.5 166.5,29.8 165.0,30.2 163.5,30.4 163.0,31.0 162.0,31.9 162.5,32.5 163.2,33.5 162.5,34.0 161.8,34.7 160.5,35.7 159.8,36.8 158.5,37.2 158.0,38.0 156.7,39.0 156.4,38.0 156.0,36.5 155.6,35.0 155.8,33.5 156.8,32.5 158.0,32.0 159.5,31.0 161.0,29.7 163.0,28.8 164.0,27.7 162.5,27.5 160.5,28.3 159.0,28.2 157.5,28.4 156.0,28.8 154.5,30.5 153.0,30.9 151.5,30.8 150.0,30.4 148.5,30.7 146.5,30.7 144.5,30.6 142.5,30.8 140.5,32.0 139.0,32.5 137.5,33.5 136.0,34.8 137.0,35.8 138.5,36.0 139.5,35.8 141.3,36.7 141.0,37.5 140.5,39.0 140.5,40.0 140.2,41.5 138.6,43.0 137.5,44.2 136.0,45.5 135.0,46.3 133.0,47.2 132.0,46.8 131.2,47.4 130.7,47.7 130.0,48.5 129.5,49.2 128.5,50.0 127.5,50.5 128.3,51.3 129.2,52.5 129.5,54.0 129.2,54.8 128.5,55.0 127.5,55.3 126.5,55.6 126.3,54.9 126.6,54.1 126.7,53.1 126.2,52.3 125.3,52.3 125.0,51.5 125.3,50.6 124.7,50.2 123.5,50.2 122.3,50.6 121.2,51.2 121.6,50.5 121.5,49.8 122.3,49.4 121.2,49.1 120.0,49.7 119.3,50.6 118.2,51.0 117.7,51.5 118.5,52.2 119.0,52.8 120.0,52.6 121.0,52.3 122.5,52.6 122.4,53.1 121.0,53.4 120.2,54.0 119.3,55.0 120.3,55.7 120.8,57.0 121.5,57.9 121.9,59.0 121.5,59.5 121.9,60.2 121.6,61.2 120.9,62.1 120.2,63.0 119.6,64.0 119.0,64.8 118.2,65.5 117.2,66.4 116.2,67.1 115.0,67.3 114.2,67.7 113.5,67.5 112.8,68.1 111.5,68.5 110.5,68.8 110.1,69.7 109.7,68.5 108.5,68.3 107.5,68.6 106.7,69.4 105.9,70.4 105.6,71.5 106.5,72.6 107.5,73.7 108.3,74.3 108.9,75.0 109.2,76.5 109.2,78.0 108.7,78.9 107.5,79.5 106.7,79.7 106.3,80.5 105.0,81.4 104.8,80.5 104.9,79.7 104.3,79.5 103.5,79.4 102.7,78.2 102.2,77.7 101.3,77.3 100.9,76.5 100.0,76.6 99.9,77.8 99.2,79.0 99.2,80.2 99.9,80.8 100.3,81.7 100.6,82.8 101.3,83.1 102.2,83.8 103.0,84.5 103.4,85.2 103.5,86.2 103.9,87.5 104.3,88.6 103.5,88.7 102.8,88.1 101.4,87.2 100.7,86.2 100.4,85.0 100.3,84.0 99.7,83.2 99.2,82.5 98.5,81.9 98.3,81.0 98.6,79.8 98.7,78.4 98.5,77.0 97.8,75.5 97.6,73.7 97.0,73.1 96.2,73.4 95.4,74.2 94.6,74.0 94.4,72.5 94.0,71.2 93.5,70.5 92.7,69.4 92.2,68.7 91.8,67.7 91.0,67.3 90.5,67.8 89.5,68.1 88.8,68.4 88.2,68.3 87.0,68.6 86.5,69.8 85.2,70.6 84.0,71.7 82.4,72.9 81.3,73.7 80.3,74.5 80.2,76.5 80.0,77.8 79.8,78.8 79.4,79.7 78.9,80.6 78.2,81.1 77.5,81.9 76.6,81.1 76.2,80.0 75.7,78.6 74.9,77.2 74.5,76.0 73.8,74.4 73.2,73.0 72.9,71.5 72.8,70.0 72.6,68.7 72.3,67.8 71.5,69.0 70.5,69.1 69.2,67.8 70.0,67.1 68.8,66.8 68.4,66.1 67.3,65.5 66.6,64.6 64.5,64.8 62.0,64.9 59.5,64.5 57.5,64.2 57.0,63.1 56.3,62.8 55.0,63.2 53.5,63.3 52.0,62.2 50.8,61.1 50.2,59.9 49.0,59.6 48.0,60.0 48.0,61.0 48.5,61.7 49.5,62.9 50.1,63.4 50.2,64.4 50.9,65.3 51.3,65.0 51.6,64.2 51.5,64.8 51.6,65.6 52.5,65.8 54.0,65.9 55.5,64.6 56.3,63.7 56.4,65.1 57.4,66.1 58.5,66.4 59.8,67.5 59.2,68.5 58.5,69.5 57.8,70.3 57.7,71.1 56.5,72.0 55.3,72.7 54.0,73.1 52.2,74.3 49.6,75.4 48.0,76.0 46.0,76.6 45.0,77.2 43.5,77.3 43.2,76.7 42.8,75.4 42.6,74.3 42.8,73.5 42.4,72.5 41.2,71.0 40.0,69.5 39.1,68.3 39.0,67.4 38.3,66.0 37.5,65.3 37.2,64.8 36.6,64.0 36.0,63.0 35.1,61.9 34.9,60.5 34.6,61.3 34.2,62.2 33.5,61.7 32.6,60.1Z"/><path d="M392.5,60.1 392.7,61.0 393.5,62.5 394.5,64.0 395.5,66.0 395.6,67.0 396.8,68.0 397.3,70.5 398.5,72.0 399.5,74.2 400.8,75.5 402.5,77.0 403.3,78.2 404.5,79.5 406.0,79.3 408.0,78.8 410.0,78.5 411.3,78.2 411.0,79.6 410.5,81.0 409.5,83.0 408.5,84.5 407.5,85.8 406.0,87.7 404.0,89.0 402.0,90.8 401.0,92.0 400.0,93.0 399.5,94.5 399.0,96.0 399.3,97.5 399.5,99.0 400.3,100.5 400.5,102.5 400.6,104.5 400.0,106.0 397.5,107.8 396.0,109.0 395.0,110.0 395.3,111.5 395.5,113.5 393.0,115.5 392.7,116.5 392.5,118.3 391.5,119.2 390.5,120.5 389.0,122.3 387.5,123.3 386.0,123.8 384.5,124.1 382.5,124.0 380.0,124.8 378.8,124.3 378.4,123.9 378.0,122.5 377.5,120.5 376.5,118.6 375.3,117.0 374.8,115.0 374.5,112.9 373.5,111.0 372.0,108.5 371.8,107.0 372.2,105.0 372.8,103.0 373.8,101.0 373.3,99.0 372.5,97.0 372.2,96.0 371.8,94.5 370.5,93.0 369.5,91.5 369.0,90.5 369.5,89.0 369.8,87.5 369.6,86.2 368.7,85.5 367.5,85.6 366.0,85.7 365.2,84.5 364.5,83.8 362.5,83.7 361.0,84.0 359.0,85.0 358.0,85.2 356.0,84.8 354.0,85.2 352.4,85.6 351.0,85.0 349.5,83.8 348.5,83.0 347.5,82.5 346.8,81.5 346.5,80.5 345.5,79.5 344.7,78.8 343.3,77.6 343.2,76.5 342.6,75.3 343.3,74.5 343.8,73.0 343.9,71.5 343.5,70.5 343.0,69.0 343.5,67.5 344.0,66.3 345.0,65.2 345.5,64.0 346.8,62.5 348.5,61.8 350.0,61.0 350.3,59.5 350.5,58.0 351.5,56.8 353.0,56.1 353.5,55.5 354.0,54.4 354.5,54.1 355.5,54.8 357.0,54.7 358.0,54.9 360.0,54.2 361.5,53.5 363.0,53.2 365.0,53.3 367.0,53.0 368.5,53.1 370.2,52.8 371.0,53.1 370.5,54.0 371.0,54.8 370.3,55.7 370.2,56.3 371.2,56.8 372.5,57.2 375.2,57.7 375.5,58.5 377.5,59.0 379.0,59.7 380.0,59.0 380.0,57.9 381.0,57.2 382.5,57.2 383.5,57.9 385.0,58.4 387.0,58.7 389.0,59.1 390.0,58.7 391.0,58.5 392.3,58.7 393.5,58.9 394.3,58.6 394.7,58.0 395.0,57.2 395.5,56.2 395.9,55.2 395.8,54.2 396.0,53.5 395.5,53.3 394.5,53.2 393.5,53.8 392.5,53.9 391.0,53.2 390.5,53.6 389.5,53.8 388.5,53.3 387.5,53.0 387.2,52.2 386.5,51.7 386.8,51.2 386.5,50.7 386.2,50.1 386.5,49.7 387.5,49.6 389.0,49.1 388.0,49.0 387.0,49.4 386.2,49.4 386.0,49.2 385.0,49.1 384.0,49.2 383.5,49.7 382.6,49.5 382.8,50.5 383.3,50.9 382.9,51.4 384.0,51.8 383.0,52.1 382.8,52.7 383.0,53.5 382.4,53.5 381.7,53.1 381.6,52.4 381.1,51.7 380.8,51.0 380.2,50.4 379.4,49.5 379.5,48.2 378.6,47.6 377.5,47.0 376.0,46.5 375.2,45.8 374.5,44.8 373.6,44.3 372.5,44.5 372.3,45.0 372.4,45.7 373.5,46.4 374.3,47.5 375.2,48.1 376.2,48.2 377.2,49.0 378.5,49.8 378.3,50.1 377.0,49.5 376.6,50.4 377.1,51.0 376.5,51.6 376.0,52.1 375.6,51.8 375.8,51.0 375.6,49.9 374.8,49.4 374.0,49.1 373.0,48.7 372.0,48.1 371.2,47.5 370.5,47.0 370.2,46.1 369.5,45.8 368.7,45.6 367.8,46.1 367.0,46.5 366.0,46.9 365.0,46.6 364.0,46.5 363.2,46.8 363.1,47.5 363.2,48.1 362.0,48.8 360.8,49.3 360.0,50.2 359.7,50.7 360.2,51.2 359.5,51.8 359.1,52.4 358.2,53.0 357.5,53.3 355.6,53.3 354.7,53.8 354.0,53.6 353.6,53.1 352.6,52.8 351.1,53.0 351.2,52.0 350.6,51.2 351.0,50.2 351.2,49.2 351.2,48.0 350.8,47.2 351.2,46.5 352.0,46.3 354.0,46.4 356.0,46.6 358.0,46.6 358.5,46.4 358.8,45.5 358.8,44.2 358.2,43.5 357.7,42.8 357.0,42.5 355.7,42.2 355.3,41.6 356.5,41.2 357.5,41.4 358.4,41.3 358.6,40.4 359.8,40.7 360.2,40.3 361.5,39.9 361.6,39.1 362.5,38.9 363.5,38.6 364.2,38.0 364.7,37.1 365.5,36.6 367.0,36.5 368.0,36.4 368.7,36.0 368.6,35.0 368.1,34.4 368.2,33.4 368.6,32.9 369.6,32.6 370.6,32.3 370.4,32.8 370.3,33.5 370.9,33.7 370.2,34.2 369.8,35.0 370.0,35.5 371.0,36.0 372.3,35.7 373.5,35.7 374.3,36.1 376.0,35.7 378.0,35.2 379.0,35.6 380.0,35.3 381.2,34.7 381.1,33.7 381.5,32.7 382.5,32.3 383.6,33.0 384.3,32.8 384.4,31.7 383.5,31.4 383.5,30.8 385.5,30.5 388.0,30.5 390.0,30.1 389.0,29.8 387.0,29.5 385.0,29.8 382.9,30.1 381.5,29.2 381.5,28.3 381.2,27.3 382.3,26.5 383.5,26.0 384.5,25.2 385.4,24.9 385.0,24.4 384.2,24.2 382.5,24.2 381.4,25.1 381.2,25.8 380.0,26.3 378.8,26.7 378.0,27.4 377.4,28.3 377.2,29.0 377.4,29.4 378.6,29.9 378.4,30.7 376.8,31.3 376.5,32.5 376.1,33.6 374.7,33.8 374.2,34.6 372.9,34.6 372.6,33.8 371.9,32.6 371.2,31.6 370.5,30.7 370.3,31.0 369.5,31.1 368.0,31.9 366.5,31.9 365.6,31.5 365.3,30.7 365.0,29.8 364.9,28.9 365.2,28.0 365.5,27.5 366.5,27.3 368.0,26.7 369.5,26.4 370.5,25.5 371.6,24.8 372.4,23.8 373.5,22.9 374.7,22.2 375.5,21.5 376.5,21.1 378.0,20.4 379.5,20.0 381.0,19.7 383.0,19.4 384.5,19.0 386.0,19.0 388.0,19.1 390.0,19.6 391.0,20.0 392.5,20.2 394.0,20.6 396.0,20.9 398.0,21.4 400.0,22.1 401.0,22.7 401.1,23.2 400.2,23.7 398.5,24.0 396.5,23.7 394.8,23.4 393.5,23.3 393.0,23.8 394.5,24.6 394.8,25.4 396.2,25.8 397.5,26.1 398.0,25.5 397.2,25.0 398.5,25.0 400.0,25.4 400.5,25.0 399.8,24.4 401.5,23.9 402.5,23.6 404.0,23.9 404.3,23.2 403.8,22.4 404.2,21.7 406.0,21.7 406.5,22.2 405.4,22.4 407.0,22.7 408.5,22.3 411.0,21.7 413.5,21.3 414.5,21.7 416.5,21.4 418.5,21.1 419.5,21.6 420.5,21.1 420.5,20.2 422.5,20.3 424.5,20.7 426.5,21.0 427.0,21.5 428.5,21.8 429.0,21.1 428.2,20.5 427.0,20.2 426.9,19.2 428.5,18.2 429.3,17.1 431.5,17.1 432.8,17.8 432.5,19.0 431.8,20.0 433.0,20.6 432.5,21.5 433.5,22.2 432.5,23.0 431.0,23.5 432.5,23.7 434.0,23.0 434.8,22.0 434.5,21.2 433.5,20.8 433.7,19.5 434.3,19.0 433.0,18.5 434.5,17.8 435.2,17.4 435.5,18.5 436.5,18.9 438.0,18.8 436.5,18.0 438.5,17.6 440.5,17.9 440.8,16.4 442.0,16.3 445.0,16.1 446.8,16.3 446.0,15.5 447.2,14.9 449.0,14.5 452.0,14.1 455.0,13.9 457.0,14.0 458.5,13.6 461.0,13.1 463.0,12.5 464.3,12.3 466.0,12.6 467.3,13.5 469.0,13.3 471.0,13.3 473.0,13.8 473.5,14.4 472.5,15.0 470.5,15.6 469.5,16.0 471.0,16.3 473.0,16.2 475.0,16.3 478.0,16.4 480.0,17.0 483.5,17.0 484.0,16.3 486.0,16.5 487.0,16.5 488.5,17.0 489.0,17.5 488.5,18.2 490.0,19.0 491.5,19.1 492.5,18.1 494.0,18.5 496.0,18.4 498.0,18.4 499.5,17.6 501.0,17.3 502.5,17.3 505.0,17.6 508.0,17.7 510.0,18.3 512.5,19.1 515.0,19.0 518.0,19.1 519.8,19.5 520.0,20.3 522.0,20.4 524.0,20.3 526.0,20.5 528.0,20.2 529.5,21.3 530.5,20.1 532.5,20.2 535.0,20.3 537.5,20.6 540.0,21.1 542.0,21.6 544.0,22.2 546.0,22.9 548.0,23.3 549.5,23.4 550.3,24.0 549.0,24.5 547.0,24.6 546.5,25.4 547.5,25.7 545.5,25.6 543.5,25.0 542.0,25.2 540.5,25.5 538.5,25.4 537.3,25.2 536.0,25.3 538.5,26.5 539.3,27.1 537.5,27.5 534.5,28.2 533.0,28.8 531.5,29.6 530.3,30.1 528.5,29.5 526.5,29.8 525.0,30.2 523.5,30.4 523.0,31.0 522.0,31.9 522.5,32.5 523.2,33.5 522.5,34.0 521.8,34.7 520.5,35.7 519.8,36.8 518.5,37.2 518.0,38.0 516.7,39.0 516.4,38.0 516.0,36.5 515.6,35.0 515.8,33.5 516.8,32.5 518.0,32.0 519.5,31.0 521.0,29.7 523.0,28.8 524.0,27.7 522.5,27.5 520.5,28.3 519.0,28.2 517.5,28.4 516.0,28.8 514.5,30.5 513.0,30.9 511.5,30.8 510.0,30.4 508.5,30.7 506.5,30.7 504.5,30.6 502.5,30.8 500.5,32.0 499.0,32.5 497.5,33.5 496.0,34.8 497.0,35.8 498.5,36.0 499.5,35.8 501.3,36.7 501.0,37.5 500.5,39.0 500.5,40.0 500.2,41.5 498.6,43.0 497.5,44.2 496.0,45.5 495.0,46.3 493.0,47.2 492.0,46.8 491.2,47.4 490.7,47.7 490.0,48.5 489.5,49.2 488.5,50.0 487.5,50.5 488.3,51.3 489.2,52.5 489.5,54.0 489.2,54.8 488.5,55.0 487.5,55.3 486.5,55.6 486.3,54.9 486.6,54.1 486.7,53.1 486.2,52.3 485.3,52.3 485.0,51.5 485.3,50.6 484.7,50.2 483.5,50.2 482.3,50.6 481.2,51.2 481.6,50.5 481.5,49.8 482.3,49.4 481.2,49.1 480.0,49.7 479.3,50.6 478.2,51.0 477.7,51.5 478.5,52.2 479.0,52.8 480.0,52.6 481.0,52.3 482.5,52.6 482.4,53.1 481.0,53.4 480.2,54.0 479.3,55.0 480.3,55.7 480.8,57.0 481.5,57.9 481.9,59.0 481.5,59.5 481.9,60.2 481.6,61.2 480.9,62.1 480.2,63.0 479.6,64.0 479.0,64.8 478.2,65.5 477.2,66.4 476.2,67.1 475.0,67.3 474.2,67.7 473.5,67.5 472.8,68.1 471.5,68.5 470.5,68.8 470.1,69.7 469.7,68.5 468.5,68.3 467.5,68.6 466.7,69.4 465.9,70.4 465.6,71.5 466.5,72.6 467.5,73.7 468.3,74.3 468.9,75.0 469.2,76.5 469.2,78.0 468.7,78.9 467.5,79.5 466.7,79.7 466.3,80.5 465.0,81.4 464.8,80.5 464.9,79.7 464.3,79.5 463.5,79.4 462.7,78.2 462.2,77.7 461.3,77.3 460.9,76.5 460.0,76.6 459.9,77.8 459.2,79.0 459.2,80.2 459.9,80.8 460.3,81.7 460.6,82.8 461.3,83.1 462.2,83.8 463.0,84.5 463.4,85.2 463.5,86.2 463.9,87.5 464.3,88.6 463.5,88.7 462.8,88.1 461.4,87.2 460.7,86.2 460.4,85.0 460.3,84.0 459.7,83.2 459.2,82.5 458.5,81.9 458.3,81.0 458.6,79.8 458.7,78.4 458.5,77.0 457.8,75.5 457.6,73.7 457.0,73.1 456.2,73.4 455.4,74.2 454.6,74.0 454.4,72.5 454.0,71.2 453.5,70.5 452.7,69.4 452.2,68.7 451.8,67.7 451.0,67.3 450.5,67.8 449.5,68.1 448.8,68.4 448.2,68.3 447.0,68.6 446.5,69.8 445.2,70.6 444.0,71.7 442.4,72.9 441.3,73.7 440.3,74.5 440.2,76.5 440.0,77.8 439.8,78.8 439.4,79.7 438.9,80.6 438.2,81.1 437.5,81.9 436.6,81.1 436.2,80.0 435.7,78.6 434.9,77.2 434.5,76.0 433.8,74.4 433.2,73.0 432.9,71.5 432.8,70.0 432.6,68.7 432.3,67.8 431.5,69.0 430.5,69.1 429.2,67.8 430.0,67.1 428.8,66.8 428.4,66.1 427.3,65.5 426.6,64.6 424.5,64.8 422.0,64.9 419.5,64.5 417.5,64.2 417.0,63.1 416.3,62.8 415.0,63.2 413.5,63.3 412.0,62.2 410.8,61.1 410.2,59.9 409.0,59.6 408.0,60.0 408.0,61.0 408.5,61.7 409.5,62.9 410.1,63.4 410.2,64.4 410.9,65.3 411.3,65.0 411.6,64.2 411.5,64.8 411.6,65.6 412.5,65.8 414.0,65.9 415.5,64.6 416.3,63.7 416.4,65.1 417.4,66.1 418.5,66.4 419.8,67.5 419.2,68.5 418.5,69.5 417.8,70.3 417.7,71.1 416.5,72.0 415.3,72.7 414.0,73.1 412.2,74.3 409.6,75.4 408.0,76.0 406.0,76.6 405.0,77.2 403.5,77.3 403.2,76.7 402.8,75.4 402.6,74.3 402.8,73.5 402.4,72.5 401.2,71.0 400.0,69.5 399.1,68.3 399.0,67.4 398.3,66.0 397.5,65.3 397.2,64.8 396.6,64.0 396.0,63.0 395.1,61.9 394.9,60.5 394.6,61.3 394.2,62.2 393.5,61.7 392.6,60.1Z"/><path d="M192.0,24.4 194.0,23.7 196.5,23.4 198.0,23.9 199.0,23.5 197.5,23.0 196.0,22.2 194.0,21.7 195.5,21.1 197.0,20.5 198.0,19.7 200.0,19.2 203.0,18.8 205.0,19.0 208.0,19.2 211.0,19.5 214.0,19.9 217.0,19.9 220.0,20.4 223.0,21.0 225.0,20.6 228.0,20.4 231.0,20.0 233.0,20.4 235.0,20.6 237.0,20.5 239.0,20.2 242.0,21.0 245.0,21.2 247.0,22.0 250.0,22.0 252.0,21.5 254.0,21.2 256.0,22.0 258.0,22.2 262.0,22.2 264.0,22.5 265.0,22.0 266.0,20.8 264.5,18.5 266.5,19.0 268.0,20.0 270.0,21.0 272.0,22.0 274.0,23.0 275.0,20.5 278.0,20.5 279.0,22.0 278.0,23.0 277.0,24.0 274.0,23.5 272.5,25.5 270.0,26.0 267.0,28.0 265.5,30.0 265.8,31.3 267.5,33.0 270.0,33.0 272.0,34.0 275.0,34.7 277.7,35.0 278.0,37.0 279.5,38.5 280.7,38.5 281.0,37.0 280.5,35.5 283.0,34.5 283.5,33.0 282.5,31.5 282.5,30.0 282.0,27.7 285.0,27.7 288.0,28.2 290.0,29.0 290.5,31.0 292.0,31.5 293.0,31.6 294.5,30.5 295.5,29.7 298.0,32.5 298.5,34.0 300.0,35.0 302.0,35.5 304.0,36.5 304.3,37.9 303.0,38.6 301.0,39.7 299.0,39.8 296.0,39.7 293.5,39.8 291.0,41.5 289.2,43.0 292.0,41.2 295.0,40.8 295.8,41.5 294.8,42.0 295.2,43.0 296.0,43.8 298.0,44.2 299.0,44.7 300.0,44.0 298.5,45.0 296.5,45.5 294.5,46.5 294.0,45.5 295.5,44.7 294.0,44.8 293.0,45.2 291.5,45.8 290.0,46.3 289.2,47.2 289.5,48.2 290.0,48.3 289.0,48.5 287.5,48.8 286.0,49.3 286.0,50.3 285.1,51.1 284.9,51.7 284.1,52.7 283.7,53.0 284.0,54.0 284.5,54.8 283.5,55.4 282.1,56.1 281.0,56.7 280.0,57.5 279.0,58.5 278.6,60.0 279.4,61.5 280.0,63.2 279.7,64.7 279.0,64.8 278.2,63.8 277.3,62.5 277.2,61.2 276.3,60.1 275.0,60.3 273.5,59.6 272.0,59.5 270.5,59.8 270.7,60.9 269.5,60.9 268.0,60.4 266.2,60.3 265.0,60.8 263.5,61.7 262.7,62.5 262.6,64.0 262.3,65.5 262.3,67.5 262.7,69.0 263.7,70.5 265.0,71.4 265.5,71.8 267.5,71.4 268.7,71.4 269.5,70.5 269.6,69.0 272.0,68.5 273.2,68.7 272.5,70.5 272.0,71.5 271.7,73.0 271.2,74.2 272.5,74.2 274.0,74.0 276.0,74.2 276.7,75.0 276.5,76.5 276.4,78.0 276.2,79.0 277.0,80.0 278.0,81.0 279.0,81.2 280.5,80.5 282.0,81.2 282.7,81.5 283.5,81.5 284.3,80.6 284.7,79.3 285.7,78.9 287.0,78.7 288.2,77.7 289.0,78.5 288.5,79.1 288.7,77.7 289.5,78.2 290.0,77.8 291.0,78.5 292.0,79.4 294.0,79.4 296.0,79.4 297.5,79.4 298.1,80.0 299.2,81.5 300.2,81.8 301.5,83.0 302.8,84.0 305.0,84.1 307.0,84.5 308.3,85.8 309.0,86.5 310.0,88.2 310.1,89.0 309.5,90.0 309.0,90.5 311.0,91.0 311.5,91.5 313.0,90.7 315.0,91.5 316.0,92.5 318.0,92.8 320.0,92.9 321.5,93.7 323.0,94.9 324.5,95.2 325.0,97.0 325.2,98.5 324.5,99.8 323.0,101.0 322.0,102.7 321.0,104.0 321.0,106.5 320.5,108.0 320.0,109.5 319.2,111.5 318.0,113.0 315.5,113.2 313.5,114.0 312.0,115.5 311.4,117.5 311.0,118.7 309.5,120.5 308.2,121.8 307.5,123.0 306.5,124.0 305.2,124.9 303.5,124.8 301.5,124.3 302.5,125.5 303.2,126.5 302.2,128.2 300.5,128.8 298.0,128.9 297.7,130.5 295.5,130.8 295.0,132.0 296.2,132.5 295.0,133.0 294.7,134.5 292.5,136.0 294.0,137.5 292.0,140.0 291.0,141.0 291.5,142.3 290.0,142.7 289.0,143.8 287.5,143.5 286.0,142.0 285.0,140.0 284.5,138.0 285.5,136.5 286.0,135.0 287.0,133.5 286.5,132.0 286.3,130.0 286.5,128.0 287.4,125.5 288.5,123.0 288.5,120.0 288.7,118.0 289.5,115.5 289.6,113.5 289.8,111.0 289.7,108.5 288.5,107.5 286.7,106.3 285.0,105.3 283.7,103.8 283.0,102.2 282.0,100.5 280.7,98.0 280.0,97.0 278.8,96.0 279.0,94.5 279.7,93.5 280.2,92.5 279.2,91.5 280.0,90.0 280.0,89.0 281.0,88.5 281.5,87.5 282.5,86.5 282.7,85.5 282.5,83.5 282.0,82.5 281.5,81.8 280.5,81.1 279.5,82.0 278.5,82.0 277.5,81.8 276.5,81.5 275.2,80.2 274.3,79.2 273.5,78.0 272.5,77.0 271.5,76.8 270.0,76.2 268.5,75.8 267.5,75.2 266.0,74.0 264.5,74.2 263.5,74.3 262.0,73.8 260.5,73.2 259.0,72.5 257.5,72.0 256.0,71.2 254.5,70.2 254.5,69.0 254.2,67.5 253.5,66.7 252.0,65.0 250.7,64.0 249.5,62.5 248.0,61.0 247.0,59.5 245.5,58.5 245.2,59.5 246.0,61.0 247.5,62.5 248.5,64.0 249.5,65.8 250.5,67.0 250.0,67.1 248.5,65.5 247.8,64.2 246.5,63.2 245.5,62.2 245.0,60.5 243.5,58.5 242.8,57.3 241.5,56.0 239.4,55.5 238.2,53.7 237.5,52.5 237.0,51.7 236.2,50.5 235.7,49.5 235.8,48.0 235.5,46.5 236.0,44.0 235.3,41.7 237.0,41.8 237.5,42.5 237.2,41.0 236.0,40.2 235.0,39.5 233.0,39.0 232.5,37.5 231.5,36.5 230.0,35.5 229.5,34.2 228.5,33.5 227.0,32.5 225.5,31.5 224.0,31.5 222.5,31.2 220.5,30.5 218.5,30.0 216.5,30.0 214.5,29.5 212.5,29.2 211.5,30.0 210.0,30.4 208.5,30.8 209.0,29.5 210.0,28.8 208.0,29.5 206.5,30.5 205.5,31.5 204.0,32.2 202.5,33.0 201.5,33.5 200.0,34.2 198.5,34.5 197.0,35.2 195.5,35.5 197.5,34.5 199.5,33.5 201.5,32.2 202.5,31.2 201.0,31.2 198.5,31.3 198.0,30.2 196.0,30.0 195.0,29.3 195.0,28.2 194.0,27.5 195.5,26.8 199.0,26.0 199.2,25.4 197.5,25.5 195.5,25.5 193.7,25.4 193.2,24.8 192.0,24.4Z"/><path d="M-365.0,161.0 -360.0,161.0 -333.5,161.0 -326.4,159.0 -319.3,158.5 -306.7,156.6 -294.0,157.7 -293.0,163.4 -290.7,163.0 -290.0,160.0 -285.4,160.1 -274.7,156.9 -258.6,155.7 -246.2,156.9 -240.3,157.2 -229.6,156.4 -217.0,157.2 -204.6,159.0 -197.4,160.7 -189.5,161.8 -193.0,164.0 -197.4,165.8 -192.1,167.2 -201.0,170.4 -197.4,172.4 -186.7,173.3 -172.5,174.5 -156.4,175.3 -155.0,172.0 -151.1,167.5 -140.4,165.5 -127.9,164.2 -121.7,164.2 -111.0,164.5 -100.3,164.1 -86.0,163.4 -79.0,164.5 -75.0,162.6 -69.6,159.5 -62.7,155.9 -55.9,152.9 -60.0,157.1 -62.7,162.0 -65.5,165.8 -73.7,168.3 -79.0,169.5 -68.2,170.8 -55.0,170.5 -46.4,168.3 -40.0,169.5 -35.5,170.0 -26.0,168.3 -21.9,164.5 -8.2,162.0 -1.4,160.8 5.0,161.0"/><path d="M-5.0,161.0 0.0,161.0 26.5,161.0 33.6,159.0 40.7,158.5 53.3,156.6 66.0,157.7 67.0,163.4 69.3,163.0 70.0,160.0 74.6,160.1 85.3,156.9 101.4,155.7 113.8,156.9 119.7,157.2 130.4,156.4 143.0,157.2 155.4,159.0 162.6,160.7 170.5,161.8 167.0,164.0 162.6,165.8 167.9,167.2 159.0,170.4 162.6,172.4 173.3,173.3 187.5,174.5 203.6,175.3 205.0,172.0 208.9,167.5 219.6,165.5 232.1,164.2 238.3,164.2 249.0,164.5 259.7,164.1 274.0,163.4 281.0,164.5 285.0,162.6 290.4,159.5 297.3,155.9 304.1,152.9 300.0,157.1 297.3,162.0 294.5,165.8 286.3,168.3 281.0,169.5 291.8,170.8 305.0,170.5 313.6,168.3 320.0,169.5 324.5,170.0 334.0,168.3 338.1,164.5 351.8,162.0 358.6,160.8 365.0,161.0"/><path d="M355.0,161.0 360.0,161.0 386.5,161.0 393.6,159.0 400.7,158.5 413.3,156.6 426.0,157.7 427.0,163.4 429.3,163.0 430.0,160.0 434.6,160.1 445.3,156.9 461.4,155.7 473.8,156.9 479.7,157.2 490.4,156.4 503.0,157.2 515.4,159.0 522.6,160.7 530.5,161.8 527.0,164.0 522.6,165.8 527.9,167.2 519.0,170.4 522.6,172.4 533.3,173.3 547.5,174.5 563.6,175.3 565.0,172.0 568.9,167.5 579.6,165.5 592.1,164.2 598.3,164.2 609.0,164.5 619.7,164.1 634.0,163.4 641.0,164.5 645.0,162.6 650.4,159.5 657.3,155.9 664.1,152.9 660.0,157.1 657.3,162.0 654.5,165.8 646.3,168.3 641.0,169.5 651.8,170.8 665.0,170.5 673.6,168.3 680.0,169.5 684.5,170.0 694.0,168.3 698.1,164.5 711.8,162.0 718.6,160.8 725.0,161.0"/><path d="M172.5,37.0 173.5,37.2"/><path d="M177.0,38.2 179.0,38.5"/><path d="M181.0,38.3 183.0,38.0"/><path d="M185.0,37.8 187.0,37.4"/><path d="M188.0,37.2 191.0,36.7"/><path d="M192.0,36.5 194.0,36.0"/><path d="M195.0,35.5 196.5,35.0"/><path d="M145.5,46.5 147.0,45.5"/><path d="M148.0,44.8 149.5,44.0"/><path d="M151.0,43.0 152.5,42.2"/><path d="M153.5,41.5 155.0,40.5"/><path d="M155.5,39.8 156.3,39.2"/><path d="M28.0,48.4 27.9,47.3 28.6,46.4 28.9,45.5 29.7,44.8 30.5,44.0 30.8,43.5 31.7,43.4 32.5,44.0 33.5,44.1 32.5,44.7 33.5,45.5 34.5,45.5 35.5,45.0 36.5,44.7 35.0,44.3 35.5,43.7 36.8,43.2 38.3,42.8 39.2,42.8 38.3,43.4 37.8,44.0 37.2,44.7 36.8,45.0 37.3,45.3 38.4,45.7 39.5,46.4 40.5,47.0 41.6,48.0 41.6,48.5 40.5,49.0 39.5,48.9 38.0,49.1 36.8,48.7 36.0,48.3 35.0,48.0 34.0,48.0 33.0,48.1 31.5,48.8 29.2,48.8Z"/><path d="M47.0,45.5 47.5,46.5 47.7,47.2 48.5,48.2 49.2,49.0 49.6,49.7 49.4,50.6 48.9,51.6 49.0,52.4 50.2,52.9 51.5,53.2 53.0,53.1 54.0,52.7 53.8,51.7 53.2,50.7 53.5,50.0 52.9,49.1 52.8,48.2 52.5,47.3 51.6,46.8 51.0,45.6 50.4,45.3 51.3,44.8 52.8,44.7 53.2,43.7 52.0,43.1 51.2,42.9 50.0,43.3 49.0,43.6 48.0,44.1 47.2,45.0Z"/><path d="M-5.7,39.9 -4.2,39.6 -3.0,39.3 -1.5,39.3 0.3,39.2 1.4,38.7 0.8,38.2 1.7,37.3 0.3,36.9 0.0,36.4 -0.5,35.5 -1.5,34.7 -2.0,34.1 -3.0,34.0 -2.5,33.4 -1.8,32.5 -3.0,32.3 -4.0,32.1 -3.0,31.4 -4.5,31.4 -5.0,31.4 -5.5,32.2 -5.8,33.0 -5.5,33.7 -5.8,34.4 -5.0,35.0 -4.5,35.2 -3.5,35.1 -3.2,35.8 -3.0,36.5 -4.5,36.7 -4.0,37.5 -4.3,38.0 -5.2,38.2 -4.0,38.5 -3.0,38.5 -4.5,38.9Z"/><path d="M354.3,39.9 355.8,39.6 357.0,39.3 358.5,39.3 360.3,39.2 361.4,38.7 360.8,38.2 361.7,37.3 360.3,36.9 360.0,36.4 359.5,35.5 358.5,34.7 358.0,34.1 357.0,34.0 357.5,33.4 358.2,32.5 357.0,32.3 356.0,32.1 357.0,31.4 355.5,31.4 355.0,31.4 354.5,32.2 354.2,33.0 354.5,33.7 354.2,34.4 355.0,35.0 355.5,35.2 356.5,35.1 356.8,35.8 357.0,36.5 355.5,36.7 356.0,37.5 355.7,38.0 354.8,38.2 356.0,38.5 357.0,38.5 355.5,38.9Z"/><path d="M354.0,37.8 353.7,36.7 353.9,36.0 354.4,35.4 353.8,34.8 352.7,34.7 351.7,34.9 351.4,35.7 350.0,35.9 350.1,36.7 350.6,37.4 349.7,38.1 350.5,38.5 351.8,38.2 353.1,37.9Z"/><path d="M338.0,26.1 340.0,26.5 342.0,26.6 344.0,26.0 345.5,25.6 346.4,24.8 345.4,24.0 344.0,23.5 342.0,23.9 340.0,23.9 338.5,24.5 337.5,23.6 336.0,24.4 338.0,25.0 336.0,25.1 337.5,25.8Z"/><path d="M9.4,47.0 9.5,47.8 9.2,48.6 8.6,48.1 8.7,47.4Z"/><path d="M9.2,48.8 9.7,49.5 9.6,50.8 9.0,51.0 8.4,51.0 8.4,49.6 8.2,49.1Z"/><path d="M12.4,51.9 13.5,51.8 15.6,51.7 15.1,52.7 15.0,53.3 14.3,53.0 12.5,52.4Z"/><path d="M23.5,54.5 24.5,54.6 26.3,54.7 25.8,55.0 24.7,55.1 23.5,54.8Z"/><path d="M32.3,55.0 33.0,54.6 34.6,54.3 34.0,55.0 33.0,55.4Z"/><path d="M11.0,11.5 15.0,13.0 17.0,13.4 19.0,12.0 22.0,12.5 24.0,11.7 21.0,10.5 18.0,9.8 15.0,10.1 11.0,10.5Z"/><path d="M52.5,18.6 55.5,19.4 57.6,19.3 56.5,18.0 58.0,16.2 61.0,14.7 65.0,13.8 68.5,13.1 68.0,12.9 64.0,13.1 60.0,13.8 57.0,14.8 55.5,16.0 54.0,16.7 53.0,17.7Z"/><path d="M96.0,10.5 100.0,11.5 104.0,11.0 104.0,10.0 100.0,8.8 95.0,9.0 93.0,10.0Z"/><path d="M137.0,15.0 140.0,15.5 143.0,15.0 148.0,14.5 142.0,14.0 138.0,13.8Z"/><path d="M45.0,10.0 50.0,10.2 60.0,9.5 62.0,8.7 55.0,8.5 48.0,9.0Z"/><path d="M178.5,19.0 181.0,18.5 183.0,19.0 180.0,19.2Z"/><path d="M142.0,44.0 143.5,43.5 143.0,42.0 144.5,41.0 143.5,39.0 143.3,37.0 142.8,35.7 142.2,36.0 141.7,37.5 142.0,39.0 142.0,41.0 141.9,42.5Z"/><path d="M140.0,48.5 141.2,48.2 141.7,47.4 143.3,48.0 145.5,46.7 145.3,45.8 144.0,46.0 141.9,44.5 141.6,44.8 141.4,46.2 140.4,46.8 140.0,47.5Z"/><path d="M140.0,49.3 141.5,48.7 141.6,50.0 142.0,50.7 141.0,51.7 140.9,53.0 140.5,54.3 139.8,55.1 139.0,55.3 138.0,55.4 137.0,55.4 136.8,55.7 135.8,56.5 135.1,55.7 133.5,55.6 132.0,56.1 131.0,56.0 131.0,55.5 132.5,54.6 134.0,54.5 135.8,54.4 136.7,53.1 137.3,53.2 137.0,52.8 138.5,52.4 139.5,51.5 140.0,50.5Z"/><path d="M130.0,56.2 131.0,56.1 131.8,57.0 131.4,58.5 130.7,59.0 130.2,58.7 130.2,57.5 129.6,56.8Z"/><path d="M132.6,57.0 133.0,56.0 134.2,55.7 134.7,56.2 134.2,56.8 133.2,57.2Z"/><path d="M120.1,67.0 120.7,68.0 121.4,67.0 121.9,65.2 121.5,64.7 120.8,65.2 120.2,66.2Z"/><path d="M108.6,70.8 109.5,71.8 110.5,71.4 111.0,70.3 110.3,69.9 109.0,70.1Z"/><path d="M79.8,82.0 79.9,80.3 80.8,80.7 81.8,82.5 81.3,83.8 80.2,84.0Z"/><path d="M120.6,71.5 122.2,71.5 122.0,73.0 121.6,74.2 122.0,76.0 124.0,76.2 124.0,77.4 123.0,77.0 121.8,76.2 120.6,75.6 120.6,74.5 119.8,73.7 120.4,72.5Z"/><path d="M122.0,83.0 123.5,82.2 124.0,81.5 125.5,80.2 126.5,82.0 126.2,83.5 125.5,84.2 124.0,83.7Z"/><path d="M124.3,77.5 125.7,79.0 125.0,79.8 124.3,78.5Z"/><path d="M122.0,78.2 123.2,79.0 123.2,80.5 122.3,80.0Z"/><path d="M117.2,81.6 119.0,79.5 119.7,78.6 119.3,79.5 118.0,81.0Z"/><path d="M109.0,88.5 109.5,90.5 110.0,91.5 111.0,93.0 113.0,93.3 114.5,93.8 116.0,93.5 116.5,92.0 117.5,90.0 117.8,89.0 118.8,88.5 118.0,87.5 118.2,85.5 119.2,84.8 117.5,83.5 116.5,83.2 115.5,84.5 114.5,85.5 113.0,86.8 111.5,87.5 109.7,88.0Z"/><path d="M95.3,84.4 97.5,84.8 98.7,86.2 100.0,87.5 101.3,88.0 103.5,89.5 104.5,91.0 105.8,93.0 105.8,95.8 104.5,95.9 102.3,94.0 101.0,92.5 99.5,90.5 98.7,88.4 97.5,87.5 96.2,85.8Z"/><path d="M105.2,96.8 106.5,96.0 108.3,96.3 110.5,96.9 112.5,96.9 114.5,97.7 114.5,98.7 112.5,98.4 110.0,98.0 108.0,97.8 106.5,97.4Z"/><path d="M115.8,98.2 117.0,98.0 119.0,98.5 118.5,99.0 116.5,99.0Z"/><path d="M119.8,98.5 122.5,98.2 122.8,98.7 120.5,98.9Z"/><path d="M123.5,100.3 125.0,99.0 127.2,98.4 126.5,99.0 124.5,100.0Z"/><path d="M119.0,99.5 120.8,99.8 120.5,100.3 119.0,99.8Z"/><path d="M125.2,88.4 124.0,89.4 121.0,89.4 120.2,89.8 119.8,90.8 119.5,93.0 118.8,93.5 119.5,95.5 120.4,95.5 120.3,93.0 121.0,92.6 122.0,94.6 123.2,94.5 122.2,93.0 121.5,91.9 122.5,91.0 123.4,90.9 121.8,90.6 120.8,91.3 120.5,90.3 121.5,89.6 123.5,89.6 124.5,89.6Z"/><path d="M127.5,90.5 128.5,89.5 128.3,88.5 128.0,87.8 127.8,89.0Z"/><path d="M126.0,93.2 127.2,93.3 127.0,93.8 126.0,93.6Z"/><path d="M128.0,93.2 130.5,93.0 130.8,93.8 128.5,93.7Z"/><path d="M131.0,91.0 132.0,90.4 134.0,90.9 135.0,93.3 137.0,91.5 138.5,91.8 140.5,92.4 142.5,93.2 144.5,93.8 145.8,95.0 146.5,96.0 147.5,96.5 147.8,98.0 148.5,99.0 149.5,100.0 150.5,100.5 149.0,100.4 147.5,100.1 146.0,98.5 144.0,97.7 143.0,99.0 141.0,99.2 139.5,98.1 138.5,98.3 138.0,97.5 138.8,96.8 137.5,95.0 135.5,94.4 134.0,93.8 133.0,94.0 132.0,92.9 133.5,92.5 132.5,92.2 131.0,91.5Z"/><path d="M148.5,95.5 150.0,95.0 151.5,94.2 152.3,94.5 151.5,95.5 150.0,96.2Z"/><path d="M113.5,112.0 114.2,112.0 116.0,110.8 118.5,110.3 121.0,109.5 122.2,108.0 122.5,107.0 123.5,106.5 124.5,105.5 125.5,104.5 126.5,104.0 127.8,104.5 128.5,105.0 129.5,104.8 130.0,103.5 130.5,102.5 131.5,102.2 132.5,101.5 134.0,102.0 135.5,102.2 136.5,102.0 136.8,102.8 136.0,103.5 135.5,104.8 137.0,106.0 138.5,106.8 140.0,107.6 141.0,106.5 141.5,105.0 141.6,103.0 142.0,101.5 142.5,100.7 143.0,102.0 143.5,104.0 144.5,104.3 145.3,105.0 145.5,106.5 146.0,107.8 146.5,109.0 148.5,110.3 149.5,112.0 150.7,112.6 151.2,114.0 153.0,115.3 153.5,118.0 153.0,120.5 152.5,122.0 151.3,123.8 150.5,125.5 150.0,127.5 148.0,127.8 146.5,128.8 145.0,128.3 143.5,128.8 141.5,128.4 140.0,127.5 139.5,126.0 138.5,125.5 138.0,124.3 137.5,125.2 136.8,125.3 137.8,123.5 137.5,123.0 136.0,124.5 135.5,124.8 134.5,123.2 133.5,122.2 132.0,122.0 130.0,121.6 128.0,122.2 126.0,122.3 124.0,123.0 123.5,123.9 121.5,123.8 119.5,124.3 118.0,125.0 116.5,125.0 115.0,124.3 115.7,123.3 115.8,122.0 115.0,120.0 114.9,119.0 114.0,117.0 113.4,116.0 113.8,115.0 113.4,114.0 113.8,113.0Z"/><path d="M144.7,130.7 146.5,131.1 148.3,130.9 148.3,132.2 147.9,133.2 146.8,133.6 146.0,133.5 145.3,132.3Z"/><path d="M172.7,124.4 174.5,125.5 175.0,126.5 175.8,126.8 176.0,127.5 177.5,127.8 178.5,127.7 178.0,129.0 177.0,129.3 176.8,130.0 175.5,131.5 174.8,131.3 175.0,130.0 174.0,129.5 174.6,128.0 174.5,127.0 173.0,125.3Z"/><path d="M172.7,130.5 173.0,131.0 174.3,131.5 173.5,132.8 172.8,133.8 171.0,134.5 170.7,135.8 169.5,136.6 168.3,136.6 166.5,136.0 166.8,135.2 168.0,134.0 170.0,133.0 171.2,132.0 172.0,130.8Z"/><path d="M49.3,102.0 50.0,103.5 50.5,105.5 49.8,106.5 49.5,108.0 48.7,110.5 47.7,113.5 47.0,115.0 45.5,115.5 44.0,115.0 43.5,113.0 43.3,111.5 44.3,110.0 44.0,108.0 44.4,106.2 46.5,105.7 47.5,104.5 48.0,103.5Z"/><path d="M287.0,11.5 292.0,13.5 295.0,14.0 300.0,14.0 302.0,14.5 304.0,16.0 305.0,18.0 306.5,19.5 309.0,21.0 307.0,22.0 306.5,23.5 308.0,25.0 309.0,26.5 310.5,28.0 311.5,29.0 314.0,29.5 316.0,30.0 317.0,29.5 318.0,28.0 319.0,26.5 320.0,25.0 322.5,24.2 325.0,23.5 328.0,22.0 334.0,21.5 337.0,20.0 338.0,18.5 336.0,17.0 340.0,16.0 341.0,14.0 341.5,13.0 340.0,11.5 343.0,10.0 345.0,8.5 340.0,8.0 332.0,6.7 325.0,6.4 315.0,7.5 308.0,8.0 300.0,8.3 298.0,8.8 294.0,9.5 290.0,10.5Z"/><path d="M298.5,23.4 297.5,25.0 295.5,27.0 294.0,28.0 291.5,27.4 288.5,26.5 287.0,25.5 285.0,25.5 282.0,25.5 282.5,24.5 286.0,24.0 287.0,22.5 285.0,21.5 282.0,20.5 280.0,20.0 275.0,19.5 272.0,19.5 270.5,18.5 272.0,17.0 275.0,16.3 280.0,16.3 284.0,17.3 287.5,18.5 290.0,19.5 292.0,20.0 293.5,21.5 296.5,22.5Z"/><path d="M241.5,20.0 245.0,20.7 250.0,21.2 254.0,21.0 258.0,20.5 259.0,19.5 257.0,18.5 255.0,17.0 252.0,16.7 248.0,17.2 245.0,16.6 241.5,17.5 242.0,19.0Z"/><path d="M235.0,18.1 238.5,18.5 241.0,17.7 239.5,16.0 236.0,15.7 234.5,17.0Z"/><path d="M280.0,13.7 283.0,13.0 282.0,11.5 285.0,10.5 290.0,9.5 296.0,8.2 298.0,7.5 290.0,6.9 280.0,7.0 272.0,8.0 268.0,9.0 270.0,10.5 272.0,12.0 275.0,12.7Z"/><path d="M280.0,15.5 270.0,15.5 268.0,14.5 272.0,13.5 278.0,13.7Z"/><path d="M255.0,15.0 246.0,15.5 242.5,13.8 250.0,13.2 256.0,14.0Z"/><path d="M263.0,15.0 260.0,14.5 259.5,13.5 262.5,13.2Z"/><path d="M270.0,11.5 265.0,11.0 265.0,9.2 270.0,9.0 273.0,10.0Z"/><path d="M262.0,18.5 259.0,17.5 258.5,16.5 262.0,16.0 263.5,17.0Z"/><path d="M266.0,18.0 264.5,17.0 266.0,16.0 269.0,16.5 267.0,18.0Z"/><path d="M274.0,26.0 278.0,26.0 280.0,26.5 278.5,27.4 276.0,27.0 273.5,25.2Z"/><path d="M307.0,43.0 306.5,43.4 305.0,43.0 304.0,42.4 300.7,42.4 301.5,41.5 302.5,40.0 304.0,38.4 304.5,38.5 304.0,40.0 304.5,40.5 306.0,40.5 307.0,41.5Z"/><path d="M236.5,41.6 235.0,41.0 233.5,40.2 231.6,39.2 233.0,39.5 235.0,40.0Z"/><path d="M275.1,68.1 277.0,67.1 279.0,66.8 280.5,67.4 282.5,68.5 284.5,69.3 285.8,69.8 285.0,70.1 282.5,70.1 282.0,69.2 280.0,68.2 278.0,68.0 276.5,68.2Z"/><path d="M285.5,71.6 287.2,71.5 287.2,70.1 288.5,70.1 290.5,70.5 291.7,71.4 290.5,71.8 288.5,72.3 287.0,72.0Z"/><path d="M281.7,71.7 283.7,71.8 283.2,72.1 282.0,72.0Z"/><path d="M292.8,71.5 294.4,71.6 294.4,72.0 292.8,72.0Z"/><path d="M298.7,141.3 302.0,141.3 302.2,141.8 300.5,142.3 298.7,141.8Z"/><path d="M291.5,142.6 293.5,144.9 291.5,145.0 289.5,144.7 288.0,143.8 290.5,143.2Z"/><path d="M204.5,71.0 205.0,70.3 204.2,69.8 204.0,70.5Z"/><path d="M238.0,14.0 242.0,13.5 243.0,12.7 239.0,12.7 237.0,13.4Z"/><path d="M264.0,15.3 267.0,15.2 266.5,14.5 264.0,14.6Z"/><path d="M257.0,12.2 261.0,12.2 261.0,11.2 258.0,11.1Z"/><path d="M262.0,12.2 265.0,11.8 264.0,11.4 262.0,11.6Z"/><path d="M261.0,21.2 264.0,21.4 264.5,20.4 262.0,20.2Z"/><path d="M280.0,17.0 283.0,17.2 283.5,16.5 280.5,16.2Z"/><path d="M276.5,27.5 279.0,27.4 278.0,26.7 276.2,27.0Z"/><path d="M279.5,28.3 280.5,28.1 280.0,27.7Z"/><path d="M150.5,92.6 152.0,93.2 153.0,94.5 152.7,94.8 151.5,93.6Z"/><path d="M154.6,95.4 155.5,96.0 156.0,96.8 155.3,96.7 154.7,95.9Z"/><path d="M159.6,99.3 160.8,99.5 160.5,99.9 159.7,99.7Z"/><path d="M164.0,110.2 165.5,111.0 167.0,112.3 166.5,112.5 164.8,111.3Z"/><path d="M177.3,107.6 178.5,107.4 178.6,108.2 177.5,108.2Z"/><path d="M178.8,106.5 180.0,106.2 179.8,106.8 178.8,106.9Z"/><path d="M123.8,98.2 124.5,98.1 124.4,98.5 123.8,98.5Z"/><path class="dots" d="M204.50,70.40h0.01M203.70,69.20h0.01M202.10,68.60h0.01M200.50,68.00h0.01M199.80,68.10h0.01M171.00,82.90h0.01M168.00,81.00h0.01M166.50,78.80h0.01M169.50,84.00h0.01M171.50,81.50h0.01M138.10,80.50h0.01M134.50,82.50h0.01M151.80,82.60h0.01M158.20,83.10h0.01M163.00,84.70h0.01M144.80,76.60h0.01M145.70,74.80h0.01M173.00,88.60h0.01M174.50,90.80h0.01M176.00,91.80h0.01M202.60,88.10h0.01M200.70,86.10h0.01M179.20,98.50h0.01M177.50,96.50h0.01M157.00,98.00h0.01M159.50,99.50h0.01M160.80,99.50h0.01M161.00,98.50h0.01M162.50,100.50h0.01M155.50,96.20h0.01M152.30,94.20h0.01M151.00,93.20h0.01M147.00,92.00h0.01M167.00,105.50h0.01M168.00,106.50h0.01M168.30,107.70h0.01M169.30,109.50h0.01M166.80,103.80h0.01M178.00,107.80h0.01M179.30,106.50h0.01M180.20,106.80h0.01M188.00,103.70h0.01M188.50,104.00h0.01M184.80,111.20h0.01M185.50,109.80h0.01M190.10,109.05h0.01M200.20,111.20h0.01M202.10,111.90h0.01M210.50,107.60h0.01M208.50,106.70h0.01M220.00,99.00h0.01M220.80,99.80h0.01M215.00,105.00h0.01M213.50,106.00h0.01M217.50,106.50h0.01M219.50,108.00h0.01M225.00,113.10h0.01M269.50,90.50h0.01M268.80,90.70h0.01M250.60,117.10h0.01M280.00,123.60h0.01M281.20,123.60h0.01M231.70,114.40h0.01M282.50,65.50h0.01M284.00,65.00h0.01M282.00,63.50h0.01M284.50,66.50h0.01M286.50,68.80h0.01M282.20,66.00h0.01M298.50,73.80h0.01M299.00,75.40h0.01M298.80,76.80h0.01M298.40,77.90h0.01M299.10,79.50h0.01M300.50,76.90h0.01M298.20,72.90h0.01M73.50,86.00h0.01M73.30,88.00h0.01M73.10,89.50h0.01M57.50,110.30h0.01M55.50,111.10h0.01M55.50,94.60h0.01M43.30,101.70h0.01M92.70,78.00h0.01M93.50,82.50h0.01M54.00,77.50h0.01M72.40,97.30h0.01M344.50,62.00h0.01M343.50,61.70h0.01M346.00,61.50h0.01M336.50,75.00h0.01M335.50,73.50h0.01M332.00,51.50h0.01M334.50,52.20h0.01M343.00,57.30h0.01M295.20,57.70h0.01M329.00,50.50h0.01M323.50,144.30h0.01M347.70,127.10h0.01M69.50,139.30h0.01M51.50,136.40h0.01M37.80,136.90h0.01M73.50,143.00h0.01M315.00,150.60h0.01M302.00,152.00h0.01M333.50,147.50h0.01M158.90,144.60h0.01M169.10,142.50h0.01M166.00,140.70h0.01M183.50,134.00h0.01M354.30,105.90h0.01M345.60,97.90h0.01M330.70,110.50h0.01M6.70,89.70h0.01M8.70,86.40h0.01M125.50,98.30h0.01M131.50,97.50h0.01M134.50,96.00h0.01M130.50,98.00h0.01M127.80,93.60h0.01M130.30,94.50h0.01M132.80,95.70h0.01M123.00,98.50h0.01M124.50,98.20h0.01M126.80,97.70h0.01M111.00,97.50h0.01M126.00,80.00h0.01M123.90,79.70h0.01M121.00,77.00h0.01M121.50,77.50h0.01M120.00,77.80h0.01M125.00,78.00h0.01M113.50,97.00h0.01M116.10,98.50h0.01M106.50,93.10h0.01M107.80,92.80h0.01M104.50,90.50h0.01M97.50,88.80h0.01M98.50,91.60h0.01M99.30,92.00h0.01M102.30,95.30h0.01M95.50,87.00h0.01M129.50,61.80h0.01M128.00,63.50h0.01M124.20,65.60h0.01M131.00,59.50h0.01M139.50,56.90h0.01M140.00,63.00h0.01M142.20,63.20h0.01M191.80,104.20h0.01M194.20,100.40h0.01M199.00,100.50h0.01M188.20,99.20h0.01M187.50,98.50h0.01M179.10,98.70h0.01M181.90,104.30h0.01M183.80,103.30h0.01M186.00,108.70h0.01" stroke-width="1.7" stroke-linecap="round"/></g>
</g>
<rect x="43.4" y="641.7" width="500.90" height="251.60" fill="none" stroke="#3a3a3a" stroke-width="1.1"/>
<line x1="32.2" x2="43.4" y1="697.61" y2="697.61" stroke="#b8b8b8" stroke-width="1"/>
<text transform="translate(16.2 697.61) rotate(-90)" text-anchor="middle" font-size="19.4">50° N</text>
<line x1="32.2" x2="43.4" y1="767.50" y2="767.50" stroke="#b8b8b8" stroke-width="1"/>
<text transform="translate(16.2 767.50) rotate(-90)" text-anchor="middle" font-size="19.4">0° N</text>
<line x1="32.2" x2="43.4" y1="837.39" y2="837.39" stroke="#b8b8b8" stroke-width="1"/>
<text transform="translate(16.2 837.39) rotate(-90)" text-anchor="middle" font-size="19.4">-50° N</text>
<text x="44.6" y="665.5" font-size="28.5">c)</text>
<text x="293.8" y="18.8" text-anchor="middle" font-size="22.8" font-weight="bold">Changes in wet-day frequency</text>
<text x="293.8" y="339.0" text-anchor="middle" font-size="22.8" font-weight="bold">Changes in wet-day intensity</text>
<text x="293.8" y="636.3" text-anchor="middle" font-size="22.8" font-weight="bold">Total precipitation changes</text>
<line x1="43.40" x2="43.40" y1="893.3" y2="904.6" stroke="#b8b8b8" stroke-width="1"/>
<text x="43.40" y="934.6" text-anchor="middle" font-size="19.4">0° E</text>
<line x1="126.88" x2="126.88" y1="893.3" y2="904.6" stroke="#b8b8b8" stroke-width="1"/>
<text x="126.88" y="934.6" text-anchor="middle" font-size="19.4">60° E</text>
<line x1="210.37" x2="210.37" y1="893.3" y2="904.6" stroke="#b8b8b8" stroke-width="1"/>
<text x="210.37" y="934.6" text-anchor="middle" font-size="19.4">120° E</text>
<line x1="293.85" x2="293.85" y1="893.3" y2="904.6" stroke="#b8b8b8" stroke-width="1"/>
<text x="293.85" y="934.6" text-anchor="middle" font-size="19.4">180° E</text>
<line x1="377.33" x2="377.33" y1="893.3" y2="904.6" stroke="#b8b8b8" stroke-width="1"/>
<text x="377.33" y="934.6" text-anchor="middle" font-size="19.4">240° E</text>
<line x1="460.82" x2="460.82" y1="893.3" y2="904.6" stroke="#b8b8b8" stroke-width="1"/>
<text x="460.82" y="934.6" text-anchor="middle" font-size="19.4">300° E</text>
<line x1="544.30" x2="544.30" y1="893.3" y2="904.6" stroke="#b8b8b8" stroke-width="1"/>
<text x="544.30" y="934.6" text-anchor="middle" font-size="19.4">360° E</text>
<rect x="554.3" y="31.30" width="31.50" height="26.37" fill="#313399"/>
<rect x="554.3" y="57.37" width="31.50" height="26.37" fill="#3a78b8"/>
<rect x="554.3" y="83.44" width="31.50" height="26.37" fill="#66b8cc"/>
<rect x="554.3" y="109.51" width="31.50" height="26.37" fill="#a4e4ea"/>
<rect x="554.3" y="135.58" width="31.50" height="26.37" fill="#ddf6f7"/>
<rect x="554.3" y="161.65" width="31.50" height="26.37" fill="#f0e08c"/>
<rect x="554.3" y="187.72" width="31.50" height="26.37" fill="#eca860"/>
<rect x="554.3" y="213.79" width="31.50" height="26.37" fill="#f06c40"/>
<rect x="554.3" y="239.86" width="31.50" height="26.37" fill="#fa3022"/>
<rect x="554.3" y="265.93" width="31.50" height="26.37" fill="#c41e26"/>
<rect x="554.3" y="31.3" width="31.50" height="260.70" fill="none" stroke="#3a3a3a" stroke-width="1"/>
<line x1="585.8" x2="596.7" y1="31.30" y2="31.30" stroke="#b8b8b8" stroke-width="1"/>
<text x="608.2" y="39.10" font-size="19.4">100</text>
<line x1="585.8" x2="596.7" y1="57.37" y2="57.37" stroke="#b8b8b8" stroke-width="1"/>
<text x="608.2" y="65.17" font-size="19.4">80</text>
<line x1="585.8" x2="596.7" y1="83.44" y2="83.44" stroke="#b8b8b8" stroke-width="1"/>
<text x="608.2" y="91.24" font-size="19.4">60</text>
<line x1="585.8" x2="596.7" y1="109.51" y2="109.51" stroke="#b8b8b8" stroke-width="1"/>
<text x="608.2" y="117.31" font-size="19.4">40</text>
<line x1="585.8" x2="596.7" y1="135.58" y2="135.58" stroke="#b8b8b8" stroke-width="1"/>
<text x="608.2" y="143.38" font-size="19.4">20</text>
<line x1="585.8" x2="596.7" y1="161.65" y2="161.65" stroke="#b8b8b8" stroke-width="1"/>
<text x="608.2" y="169.45" font-size="19.4">0</text>
<line x1="585.8" x2="596.7" y1="187.72" y2="187.72" stroke="#b8b8b8" stroke-width="1"/>
<text x="608.2" y="195.52" font-size="19.4">-20</text>
<line x1="585.8" x2="596.7" y1="213.79" y2="213.79" stroke="#b8b8b8" stroke-width="1"/>
<text x="608.2" y="221.59" font-size="19.4">-40</text>
<line x1="585.8" x2="596.7" y1="239.86" y2="239.86" stroke="#b8b8b8" stroke-width="1"/>
<text x="608.2" y="247.66" font-size="19.4">-60</text>
<line x1="585.8" x2="596.7" y1="265.93" y2="265.93" stroke="#b8b8b8" stroke-width="1"/>
<text x="608.2" y="273.73" font-size="19.4">-80</text>
<line x1="585.8" x2="596.7" y1="292.00" y2="292.00" stroke="#b8b8b8" stroke-width="1"/>
<text x="608.2" y="299.80" font-size="19.4">-100</text>
<text transform="translate(675.3 160.3) rotate(-90)" text-anchor="middle" font-size="28">Days per year</text>
<rect x="554.3" y="350.30" width="31.50" height="20.28" fill="#3333a0"/>
<rect x="554.3" y="370.28" width="31.50" height="20.28" fill="#3a6eb4"/>
<rect x="554.3" y="390.27" width="31.50" height="20.28" fill="#5aa0c8"/>
<rect x="554.3" y="410.25" width="31.50" height="20.28" fill="#7cc8d8"/>
<rect x="554.3" y="430.23" width="31.50" height="20.28" fill="#b0e8ec"/>
<rect x="554.3" y="450.22" width="31.50" height="20.28" fill="#e0f6f4"/>
<rect x="554.3" y="470.20" width="31.50" height="20.28" fill="#f0e098"/>
<rect x="554.3" y="490.18" width="31.50" height="20.28" fill="#ecb46c"/>
<rect x="554.3" y="510.17" width="31.50" height="20.28" fill="#f08c50"/>
<rect x="554.3" y="530.15" width="31.50" height="20.28" fill="#f85a38"/>
<rect x="554.3" y="550.13" width="31.50" height="20.28" fill="#f82828"/>
<rect x="554.3" y="570.12" width="31.50" height="20.28" fill="#c41e26"/>
<rect x="554.3" y="350.3" width="31.50" height="239.80" fill="none" stroke="#3a3a3a" stroke-width="1"/>
<line x1="585.8" x2="596.7" y1="370.28" y2="370.28" stroke="#b8b8b8" stroke-width="1"/>
<text x="608.2" y="378.08" font-size="19.4">50</text>
<line x1="585.8" x2="596.7" y1="390.27" y2="390.27" stroke="#b8b8b8" stroke-width="1"/>
<text x="608.2" y="398.07" font-size="19.4">40</text>
<line x1="585.8" x2="596.7" y1="410.25" y2="410.25" stroke="#b8b8b8" stroke-width="1"/>
<text x="608.2" y="418.05" font-size="19.4">30</text>
<line x1="585.8" x2="596.7" y1="430.23" y2="430.23" stroke="#b8b8b8" stroke-width="1"/>
<text x="608.2" y="438.03" font-size="19.4">20</text>
<line x1="585.8" x2="596.7" y1="450.22" y2="450.22" stroke="#b8b8b8" stroke-width="1"/>
<text x="608.2" y="458.02" font-size="19.4">10</text>
<line x1="585.8" x2="596.7" y1="470.20" y2="470.20" stroke="#b8b8b8" stroke-width="1"/>
<text x="608.2" y="478.00" font-size="19.4">0</text>
<line x1="585.8" x2="596.7" y1="490.18" y2="490.18" stroke="#b8b8b8" stroke-width="1"/>
<text x="608.2" y="497.98" font-size="19.4">-10</text>
<line x1="585.8" x2="596.7" y1="510.17" y2="510.17" stroke="#b8b8b8" stroke-width="1"/>
<text x="608.2" y="517.97" font-size="19.4">-20</text>
<line x1="585.8" x2="596.7" y1="530.15" y2="530.15" stroke="#b8b8b8" stroke-width="1"/>
<text x="608.2" y="537.95" font-size="19.4">-30</text>
<line x1="585.8" x2="596.7" y1="550.13" y2="550.13" stroke="#b8b8b8" stroke-width="1"/>
<text x="608.2" y="557.93" font-size="19.4">-40</text>
<line x1="585.8" x2="596.7" y1="570.12" y2="570.12" stroke="#b8b8b8" stroke-width="1"/>
<text x="608.2" y="577.92" font-size="19.4">-50</text>
<text transform="translate(675.3 470.2) rotate(-90)" text-anchor="middle" font-size="28">%</text>
<rect x="554.3" y="647.90" width="31.50" height="26.82" fill="#313399"/>
<rect x="554.3" y="674.42" width="31.50" height="26.82" fill="#3a78b8"/>
<rect x="554.3" y="700.94" width="31.50" height="26.82" fill="#66b8cc"/>
<rect x="554.3" y="727.47" width="31.50" height="26.82" fill="#a4e4ea"/>
<rect x="554.3" y="753.99" width="31.50" height="26.82" fill="#ddf6f7"/>
<rect x="554.3" y="780.51" width="31.50" height="26.82" fill="#f0e08c"/>
<rect x="554.3" y="807.03" width="31.50" height="26.82" fill="#eca860"/>
<rect x="554.3" y="833.56" width="31.50" height="26.82" fill="#f06c40"/>
<rect x="554.3" y="860.08" width="31.50" height="26.82" fill="#fa3022"/>
<rect x="554.3" y="647.9" width="31.50" height="238.70" fill="none" stroke="#3a3a3a" stroke-width="1"/>
<line x1="585.8" x2="596.7" y1="674.42" y2="674.42" stroke="#b8b8b8" stroke-width="1"/>
<text x="608.2" y="682.22" font-size="19.4">100</text>
<line x1="585.8" x2="596.7" y1="700.94" y2="700.94" stroke="#b8b8b8" stroke-width="1"/>
<text x="608.2" y="708.74" font-size="19.4">75</text>
<line x1="585.8" x2="596.7" y1="727.47" y2="727.47" stroke="#b8b8b8" stroke-width="1"/>
<text x="608.2" y="735.27" font-size="19.4">50</text>
<line x1="585.8" x2="596.7" y1="753.99" y2="753.99" stroke="#b8b8b8" stroke-width="1"/>
<text x="608.2" y="761.79" font-size="19.4">25</text>
<line x1="585.8" x2="596.7" y1="780.51" y2="780.51" stroke="#b8b8b8" stroke-width="1"/>
<text x="608.2" y="788.31" font-size="19.4">0</text>
<line x1="585.8" x2="596.7" y1="807.03" y2="807.03" stroke="#b8b8b8" stroke-width="1"/>
<text x="608.2" y="814.83" font-size="19.4">-25</text>
<line x1="585.8" x2="596.7" y1="833.56" y2="833.56" stroke="#b8b8b8" stroke-width="1"/>
<text x="608.2" y="841.36" font-size="19.4">-50</text>
<line x1="585.8" x2="596.7" y1="860.08" y2="860.08" stroke="#b8b8b8" stroke-width="1"/>
<text x="608.2" y="867.88" font-size="19.4">-75</text>
<line x1="585.8" x2="596.7" y1="886.60" y2="886.60" stroke="#b8b8b8" stroke-width="1"/>
<text x="608.2" y="894.40" font-size="19.4">-100</text>
<text transform="translate(675.3 766.8) rotate(-90)" text-anchor="middle" font-size="28">%</text>
</svg></body></html>
